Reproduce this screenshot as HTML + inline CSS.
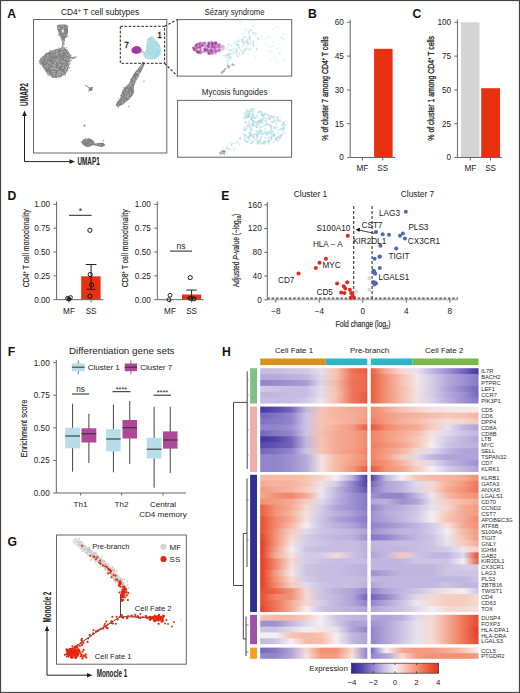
<!DOCTYPE html>
<html><head><meta charset="utf-8"><style>
html,body{margin:0;padding:0;background:#fff;overflow:hidden;width:520px;height:693px;}
svg{display:block;}
text{font-family:"Liberation Sans", sans-serif;}
</style></head><body>
<svg width="520" height="693" viewBox="0 0 520 693">
<rect x="0.5" y="0.5" width="519" height="692" fill="#fff" stroke="#444" stroke-width="1.2"/>
<text x="7.3" y="17.6" font-size="12.2" text-anchor="start" font-weight="bold" fill="#111" >A</text>
<text x="308" y="17.6" font-size="12.2" text-anchor="start" font-weight="bold" fill="#111" >B</text>
<text x="412.5" y="17.6" font-size="12.2" text-anchor="start" font-weight="bold" fill="#111" >C</text>
<text x="7.5" y="200" font-size="12.2" text-anchor="start" font-weight="bold" fill="#111" >D</text>
<text x="221.3" y="200" font-size="12.2" text-anchor="start" font-weight="bold" fill="#111" >E</text>
<text x="7.8" y="356" font-size="12.2" text-anchor="start" font-weight="bold" fill="#111" >F</text>
<text x="222" y="356" font-size="12.2" text-anchor="start" font-weight="bold" fill="#111" >H</text>
<text x="7.5" y="545.5" font-size="12.2" text-anchor="start" font-weight="bold" fill="#111" >G</text>
<rect x="33.5" y="19.5" width="133.3" height="133.5" fill="none" stroke="#666" stroke-width="1"/>
<text x="100" y="15.2" font-size="8.4" text-anchor="middle" font-weight="normal" fill="#222" >CD4<tspan font-size="6" dy="-3">+</tspan><tspan dy="3"> T cell subtypes</tspan></text>
<path d="M57.6,25.4 C58.9,24.32 64.37,24.43 66.1,25 C67.83,25.57 67.73,27.27 68,28.8 C68.27,30.33 68.15,32.63 67.7,34.2 C67.25,35.77 65.93,36.97 65.3,38.2 C64.67,39.43 64.22,40.15 63.9,41.6 C63.58,43.05 62.88,45.57 63.4,46.9 C63.92,48.23 65.95,48.47 67,49.6 C68.05,50.73 69.13,52.47 69.7,53.7 C70.27,54.93 69.28,56.38 70.4,57 C71.52,57.62 76.4,57.1 76.4,57.4 C76.4,57.7 71.58,57.63 70.4,58.8 C69.22,59.97 69.75,62.45 69.3,64.4 C68.85,66.35 68.65,68.7 67.7,70.5 C66.75,72.3 65.4,73.97 63.6,75.2 C61.8,76.43 59.02,77.68 56.9,77.9 C54.78,78.12 52.8,77.62 50.9,76.5 C49,75.38 47.18,73.32 45.5,71.2 C43.82,69.08 41.85,65.48 40.8,63.8 C39.75,62.12 38.98,62.23 39.2,61.1 C39.42,59.97 40.83,58.35 42.1,57 C43.37,55.65 45,54.12 46.8,53 C48.6,51.88 50.65,51.08 52.9,50.3 C55.15,49.52 58.78,48.87 60.3,48.3 C61.82,47.73 61.67,48.02 62,46.9 C62.33,45.78 62.58,43.28 62.3,41.6 C62.02,39.92 60.97,38.48 60.3,36.8 C59.63,35.12 58.75,33.4 58.3,31.5 C57.85,29.6 56.3,26.48 57.6,25.4 Z" fill="#828282"/>
<circle cx="63.41" cy="28.83" r="0.55" fill="#c8c8c8"/>
<circle cx="54.99" cy="68.74" r="0.55" fill="#a8a8a8"/>
<circle cx="62.54" cy="75.13" r="0.7" fill="#b8b8b8"/>
<circle cx="50.68" cy="68.17" r="0.55" fill="#c8c8c8"/>
<circle cx="45.92" cy="55.77" r="0.45" fill="#c8c8c8"/>
<circle cx="62.97" cy="44.7" r="0.7" fill="#c8c8c8"/>
<circle cx="59.58" cy="28.32" r="0.7" fill="#c8c8c8"/>
<circle cx="50.89" cy="55.98" r="0.55" fill="#a8a8a8"/>
<circle cx="68.75" cy="61.98" r="0.45" fill="#c8c8c8"/>
<circle cx="48.28" cy="55.39" r="0.45" fill="#a8a8a8"/>
<circle cx="58.74" cy="71.29" r="0.55" fill="#c8c8c8"/>
<circle cx="54.75" cy="65.05" r="0.45" fill="#a8a8a8"/>
<circle cx="40.66" cy="60.35" r="0.55" fill="#c8c8c8"/>
<circle cx="67.64" cy="55.31" r="0.55" fill="#c8c8c8"/>
<circle cx="65.06" cy="56.44" r="0.55" fill="#a8a8a8"/>
<circle cx="60.77" cy="49.13" r="0.7" fill="#b8b8b8"/>
<circle cx="56.84" cy="60.13" r="0.7" fill="#c8c8c8"/>
<circle cx="41.46" cy="62.11" r="0.45" fill="#c8c8c8"/>
<circle cx="53.55" cy="60.37" r="0.55" fill="#b8b8b8"/>
<circle cx="53.74" cy="71.1" r="0.45" fill="#a8a8a8"/>
<circle cx="59.64" cy="71.73" r="0.55" fill="#b8b8b8"/>
<circle cx="52.55" cy="71.77" r="0.7" fill="#c8c8c8"/>
<circle cx="52.94" cy="54.96" r="0.7" fill="#a8a8a8"/>
<circle cx="58.38" cy="57.67" r="0.45" fill="#a8a8a8"/>
<circle cx="64.35" cy="27.86" r="0.45" fill="#b8b8b8"/>
<circle cx="43.05" cy="58.55" r="0.45" fill="#a8a8a8"/>
<circle cx="62.04" cy="32.86" r="0.55" fill="#c8c8c8"/>
<circle cx="56.53" cy="50.59" r="0.7" fill="#b8b8b8"/>
<circle cx="58.85" cy="32.76" r="0.7" fill="#b8b8b8"/>
<circle cx="59.41" cy="26.43" r="0.45" fill="#b8b8b8"/>
<circle cx="58.85" cy="76.76" r="0.55" fill="#c8c8c8"/>
<circle cx="45.41" cy="65.84" r="0.45" fill="#b8b8b8"/>
<circle cx="59.01" cy="66.21" r="0.55" fill="#a8a8a8"/>
<circle cx="48.84" cy="61.63" r="0.45" fill="#a8a8a8"/>
<circle cx="62.42" cy="72.63" r="0.7" fill="#a8a8a8"/>
<circle cx="63.49" cy="67.3" r="0.45" fill="#a8a8a8"/>
<circle cx="42.35" cy="59.94" r="0.7" fill="#a8a8a8"/>
<circle cx="67.11" cy="50.29" r="0.55" fill="#b8b8b8"/>
<circle cx="45.84" cy="66.75" r="0.55" fill="#a8a8a8"/>
<circle cx="51.57" cy="67.36" r="0.45" fill="#a8a8a8"/>
<circle cx="54.13" cy="75.09" r="0.45" fill="#a8a8a8"/>
<circle cx="66.16" cy="33.99" r="0.55" fill="#a8a8a8"/>
<circle cx="44.64" cy="68.72" r="0.45" fill="#a8a8a8"/>
<circle cx="52.24" cy="54.02" r="0.45" fill="#c8c8c8"/>
<circle cx="58.79" cy="74.39" r="0.55" fill="#b8b8b8"/>
<circle cx="55.34" cy="71.12" r="0.45" fill="#c8c8c8"/>
<circle cx="48.15" cy="56.02" r="0.55" fill="#a8a8a8"/>
<circle cx="60.9" cy="72.84" r="0.45" fill="#c8c8c8"/>
<circle cx="54.85" cy="73.55" r="0.55" fill="#b8b8b8"/>
<circle cx="57.86" cy="53.13" r="0.7" fill="#c8c8c8"/>
<circle cx="58.67" cy="25.99" r="0.45" fill="#c8c8c8"/>
<circle cx="66.18" cy="54.44" r="0.45" fill="#a8a8a8"/>
<circle cx="51.33" cy="52.42" r="0.7" fill="#a8a8a8"/>
<circle cx="59.86" cy="66.49" r="0.45" fill="#b8b8b8"/>
<circle cx="67.93" cy="51.86" r="0.55" fill="#c8c8c8"/>
<circle cx="60.1" cy="65.2" r="0.7" fill="#a8a8a8"/>
<circle cx="61.99" cy="51.74" r="0.55" fill="#a8a8a8"/>
<circle cx="58.25" cy="61.65" r="0.55" fill="#c8c8c8"/>
<circle cx="56.03" cy="53.21" r="0.55" fill="#c8c8c8"/>
<circle cx="56.98" cy="74.81" r="0.55" fill="#a8a8a8"/>
<circle cx="65.21" cy="71.37" r="0.45" fill="#b8b8b8"/>
<circle cx="60.01" cy="74.9" r="0.7" fill="#c8c8c8"/>
<circle cx="41.92" cy="60.42" r="0.7" fill="#a8a8a8"/>
<circle cx="44.95" cy="62.88" r="0.45" fill="#b8b8b8"/>
<circle cx="63.76" cy="32.56" r="0.7" fill="#b8b8b8"/>
<circle cx="54.02" cy="50.78" r="0.7" fill="#a8a8a8"/>
<circle cx="66.06" cy="26.03" r="0.55" fill="#b8b8b8"/>
<circle cx="62.41" cy="52.1" r="0.7" fill="#c8c8c8"/>
<circle cx="54.91" cy="73.21" r="0.55" fill="#b8b8b8"/>
<circle cx="60.43" cy="62.05" r="0.45" fill="#b8b8b8"/>
<circle cx="62.8" cy="67.41" r="0.7" fill="#c8c8c8"/>
<circle cx="59.77" cy="74.02" r="0.7" fill="#b8b8b8"/>
<circle cx="66.47" cy="54.15" r="0.55" fill="#b8b8b8"/>
<circle cx="57.61" cy="69.15" r="0.7" fill="#c8c8c8"/>
<circle cx="53.82" cy="51.8" r="0.55" fill="#c8c8c8"/>
<circle cx="51.95" cy="69.03" r="0.7" fill="#a8a8a8"/>
<circle cx="65.49" cy="58.64" r="0.45" fill="#c8c8c8"/>
<circle cx="41.83" cy="64.19" r="0.55" fill="#c8c8c8"/>
<circle cx="56.86" cy="51.6" r="0.55" fill="#c8c8c8"/>
<circle cx="60.98" cy="52.99" r="0.7" fill="#b8b8b8"/>
<circle cx="67.12" cy="59.78" r="0.55" fill="#c8c8c8"/>
<circle cx="65.83" cy="71.5" r="0.55" fill="#c8c8c8"/>
<circle cx="66.14" cy="59.03" r="0.55" fill="#c8c8c8"/>
<circle cx="72.38" cy="58.19" r="0.7" fill="#c8c8c8"/>
<circle cx="66.5" cy="67.97" r="0.7" fill="#c8c8c8"/>
<circle cx="57.96" cy="69.17" r="0.45" fill="#a8a8a8"/>
<circle cx="60.93" cy="72.23" r="0.55" fill="#b8b8b8"/>
<circle cx="64.6" cy="61.68" r="0.55" fill="#b8b8b8"/>
<circle cx="59.98" cy="58.21" r="0.55" fill="#a8a8a8"/>
<circle cx="62.5" cy="61.01" r="0.55" fill="#b8b8b8"/>
<circle cx="68.87" cy="64.58" r="0.7" fill="#a8a8a8"/>
<circle cx="57.91" cy="53.31" r="0.45" fill="#b8b8b8"/>
<circle cx="63.73" cy="28.49" r="0.55" fill="#a8a8a8"/>
<circle cx="66.33" cy="35.86" r="0.7" fill="#c8c8c8"/>
<circle cx="57.02" cy="61.17" r="0.7" fill="#a8a8a8"/>
<circle cx="67.73" cy="57.64" r="0.45" fill="#c8c8c8"/>
<circle cx="63.11" cy="29.1" r="0.55" fill="#b8b8b8"/>
<circle cx="60.32" cy="25.66" r="0.45" fill="#b8b8b8"/>
<circle cx="64.2" cy="61.62" r="0.45" fill="#c8c8c8"/>
<circle cx="64.34" cy="40.39" r="0.7" fill="#a8a8a8"/>
<circle cx="58.42" cy="49.58" r="0.45" fill="#a8a8a8"/>
<circle cx="47.04" cy="55.76" r="0.7" fill="#a8a8a8"/>
<circle cx="47.81" cy="72.49" r="0.55" fill="#a8a8a8"/>
<circle cx="50.96" cy="69.45" r="0.45" fill="#a8a8a8"/>
<circle cx="49.83" cy="74.49" r="0.7" fill="#a8a8a8"/>
<circle cx="53.09" cy="75.58" r="0.7" fill="#a8a8a8"/>
<circle cx="62.67" cy="73.32" r="0.7" fill="#b8b8b8"/>
<circle cx="65.97" cy="27.62" r="0.45" fill="#b8b8b8"/>
<circle cx="67.2" cy="59.09" r="0.7" fill="#a8a8a8"/>
<circle cx="50.28" cy="64.09" r="0.55" fill="#a8a8a8"/>
<circle cx="63.6" cy="40.91" r="0.45" fill="#b8b8b8"/>
<circle cx="60.39" cy="71.94" r="0.7" fill="#b8b8b8"/>
<circle cx="54.6" cy="52.73" r="0.45" fill="#c8c8c8"/>
<circle cx="57.93" cy="58.31" r="0.45" fill="#a8a8a8"/>
<circle cx="40.4" cy="62.53" r="0.45" fill="#c8c8c8"/>
<circle cx="53.76" cy="74.03" r="0.45" fill="#c8c8c8"/>
<circle cx="58.63" cy="61.08" r="0.7" fill="#a8a8a8"/>
<circle cx="63.28" cy="65.46" r="0.55" fill="#c8c8c8"/>
<circle cx="56.21" cy="54.17" r="0.45" fill="#c8c8c8"/>
<circle cx="63.21" cy="41.07" r="0.45" fill="#c8c8c8"/>
<circle cx="62.87" cy="61.95" r="0.45" fill="#c8c8c8"/>
<circle cx="58.71" cy="55.83" r="0.7" fill="#a8a8a8"/>
<circle cx="61.56" cy="25.55" r="0.7" fill="#b8b8b8"/>
<circle cx="57.74" cy="60.68" r="0.55" fill="#a8a8a8"/>
<circle cx="64.03" cy="73.94" r="0.7" fill="#b8b8b8"/>
<circle cx="64.59" cy="35.48" r="0.45" fill="#c8c8c8"/>
<circle cx="68.85" cy="64.1" r="0.7" fill="#a8a8a8"/>
<circle cx="47.44" cy="65.23" r="0.55" fill="#c8c8c8"/>
<circle cx="50.17" cy="75.36" r="0.45" fill="#b8b8b8"/>
<circle cx="52.47" cy="68.46" r="0.7" fill="#c8c8c8"/>
<circle cx="53.06" cy="73.64" r="0.7" fill="#a8a8a8"/>
<circle cx="54.48" cy="67.95" r="0.7" fill="#b8b8b8"/>
<circle cx="74.83" cy="57.64" r="0.55" fill="#c8c8c8"/>
<circle cx="48.95" cy="62.91" r="0.7" fill="#b8b8b8"/>
<circle cx="55.19" cy="51.1" r="0.45" fill="#a8a8a8"/>
<circle cx="69.06" cy="64.07" r="0.55" fill="#b8b8b8"/>
<circle cx="46.54" cy="64.83" r="0.45" fill="#a8a8a8"/>
<circle cx="65.6" cy="48.64" r="0.45" fill="#c8c8c8"/>
<circle cx="62.28" cy="60.66" r="0.45" fill="#b8b8b8"/>
<circle cx="67.02" cy="69.81" r="0.7" fill="#a8a8a8"/>
<circle cx="63.92" cy="31.41" r="0.45" fill="#b8b8b8"/>
<circle cx="66.66" cy="35.54" r="0.45" fill="#b8b8b8"/>
<circle cx="69.27" cy="59.56" r="0.45" fill="#c8c8c8"/>
<circle cx="56.86" cy="68.33" r="0.45" fill="#c8c8c8"/>
<circle cx="48.87" cy="66.14" r="0.7" fill="#a8a8a8"/>
<circle cx="61.38" cy="57.8" r="0.45" fill="#c8c8c8"/>
<circle cx="48.68" cy="56.71" r="0.7" fill="#a8a8a8"/>
<circle cx="63.44" cy="35.76" r="0.45" fill="#b8b8b8"/>
<circle cx="64.43" cy="34.79" r="0.55" fill="#a8a8a8"/>
<circle cx="68.78" cy="53.99" r="0.7" fill="#a8a8a8"/>
<circle cx="53.91" cy="54.1" r="0.45" fill="#a8a8a8"/>
<circle cx="62.98" cy="29.82" r="0.45" fill="#c8c8c8"/>
<circle cx="45.29" cy="61.79" r="0.7" fill="#a8a8a8"/>
<circle cx="50.64" cy="75.42" r="0.7" fill="#c8c8c8"/>
<circle cx="50.82" cy="54.97" r="0.55" fill="#a8a8a8"/>
<circle cx="66.28" cy="35.77" r="0.55" fill="#b8b8b8"/>
<circle cx="54.96" cy="68.4" r="0.7" fill="#b8b8b8"/>
<circle cx="54.31" cy="71.7" r="0.45" fill="#b8b8b8"/>
<circle cx="63.03" cy="73.13" r="0.45" fill="#a8a8a8"/>
<circle cx="42.51" cy="57.91" r="0.7" fill="#a8a8a8"/>
<circle cx="53" cy="51.69" r="0.45" fill="#c8c8c8"/>
<circle cx="58.59" cy="73.96" r="0.55" fill="#c8c8c8"/>
<circle cx="72.84" cy="57.82" r="0.7" fill="#a8a8a8"/>
<circle cx="54.25" cy="69.77" r="0.45" fill="#c8c8c8"/>
<circle cx="61.5" cy="54.1" r="0.7" fill="#b8b8b8"/>
<circle cx="62.53" cy="41.2" r="0.55" fill="#c8c8c8"/>
<circle cx="54.83" cy="55.82" r="0.7" fill="#a8a8a8"/>
<circle cx="55.04" cy="59.85" r="0.55" fill="#c8c8c8"/>
<circle cx="67.6" cy="66.26" r="0.7" fill="#b8b8b8"/>
<circle cx="58.18" cy="27.16" r="0.45" fill="#b8b8b8"/>
<circle cx="62.88" cy="29.35" r="0.55" fill="#a8a8a8"/>
<circle cx="66.49" cy="66.14" r="0.45" fill="#a8a8a8"/>
<circle cx="58.23" cy="27.87" r="0.55" fill="#c8c8c8"/>
<circle cx="66.43" cy="68.11" r="0.55" fill="#c8c8c8"/>
<circle cx="57.5" cy="75.61" r="0.55" fill="#a8a8a8"/>
<circle cx="67.33" cy="33.4" r="0.55" fill="#c8c8c8"/>
<circle cx="57.88" cy="73.66" r="0.55" fill="#b8b8b8"/>
<circle cx="64.48" cy="72.37" r="0.7" fill="#a8a8a8"/>
<circle cx="45.48" cy="66.52" r="0.7" fill="#a8a8a8"/>
<circle cx="62.87" cy="44.03" r="0.55" fill="#a8a8a8"/>
<circle cx="60.78" cy="71.69" r="0.7" fill="#b8b8b8"/>
<circle cx="62.63" cy="45.86" r="0.45" fill="#a8a8a8"/>
<circle cx="52.6" cy="65.45" r="0.55" fill="#a8a8a8"/>
<circle cx="66.86" cy="27.55" r="0.55" fill="#b8b8b8"/>
<circle cx="60.99" cy="60.11" r="0.55" fill="#c8c8c8"/>
<circle cx="62.12" cy="47.87" r="0.7" fill="#c8c8c8"/>
<circle cx="58.27" cy="72.37" r="0.7" fill="#b8b8b8"/>
<circle cx="63.5" cy="26.18" r="0.55" fill="#c8c8c8"/>
<circle cx="47.54" cy="55.87" r="0.7" fill="#b8b8b8"/>
<circle cx="61.11" cy="35.8" r="0.55" fill="#c8c8c8"/>
<circle cx="62.41" cy="50.12" r="0.55" fill="#c8c8c8"/>
<circle cx="42.76" cy="58.76" r="0.45" fill="#a8a8a8"/>
<circle cx="63.22" cy="48.47" r="0.45" fill="#c8c8c8"/>
<circle cx="48.44" cy="72.8" r="0.45" fill="#a8a8a8"/>
<circle cx="46.62" cy="57.17" r="0.45" fill="#c8c8c8"/>
<circle cx="58.06" cy="58.94" r="0.7" fill="#a8a8a8"/>
<circle cx="68.33" cy="62.84" r="0.55" fill="#c8c8c8"/>
<circle cx="66.92" cy="49.61" r="0.7" fill="#b8b8b8"/>
<circle cx="51.68" cy="64.66" r="0.7" fill="#a8a8a8"/>
<circle cx="65.06" cy="69.72" r="0.55" fill="#c8c8c8"/>
<circle cx="68.53" cy="52.68" r="0.45" fill="#a8a8a8"/>
<circle cx="49.07" cy="58.96" r="0.45" fill="#c8c8c8"/>
<circle cx="48.1" cy="73.01" r="0.7" fill="#b8b8b8"/>
<circle cx="62.66" cy="61.65" r="0.7" fill="#c8c8c8"/>
<circle cx="56.67" cy="69.42" r="0.55" fill="#a8a8a8"/>
<circle cx="65.15" cy="70.36" r="0.45" fill="#c8c8c8"/>
<circle cx="55.46" cy="63.33" r="0.7" fill="#b8b8b8"/>
<circle cx="47.09" cy="57.94" r="0.55" fill="#c8c8c8"/>
<circle cx="64.97" cy="58.53" r="0.7" fill="#b8b8b8"/>
<circle cx="65.13" cy="63.98" r="0.7" fill="#c8c8c8"/>
<circle cx="52.72" cy="68.25" r="0.45" fill="#b8b8b8"/>
<circle cx="62.79" cy="68.65" r="0.55" fill="#a8a8a8"/>
<circle cx="62.69" cy="40.2" r="0.7" fill="#c8c8c8"/>
<circle cx="49.71" cy="62.86" r="0.7" fill="#c8c8c8"/>
<circle cx="70.87" cy="57.71" r="0.55" fill="#a8a8a8"/>
<circle cx="55.44" cy="65.89" r="0.7" fill="#b8b8b8"/>
<circle cx="52.1" cy="62.28" r="0.45" fill="#b8b8b8"/>
<circle cx="57.48" cy="67.15" r="0.45" fill="#b8b8b8"/>
<circle cx="52.12" cy="69" r="0.45" fill="#a8a8a8"/>
<circle cx="65.22" cy="51.36" r="0.55" fill="#c8c8c8"/>
<circle cx="43.29" cy="58.67" r="0.7" fill="#a8a8a8"/>
<circle cx="65.13" cy="66.63" r="0.55" fill="#c8c8c8"/>
<circle cx="62.56" cy="43.81" r="0.7" fill="#b8b8b8"/>
<circle cx="53.31" cy="71.76" r="0.45" fill="#b8b8b8"/>
<circle cx="58.97" cy="64.91" r="0.55" fill="#c8c8c8"/>
<circle cx="67.21" cy="59.19" r="0.45" fill="#c8c8c8"/>
<circle cx="44.98" cy="69.6" r="0.7" fill="#c8c8c8"/>
<circle cx="63.83" cy="64.25" r="0.45" fill="#b8b8b8"/>
<circle cx="67.97" cy="55.64" r="0.55" fill="#a8a8a8"/>
<circle cx="65.36" cy="69.63" r="0.45" fill="#c8c8c8"/>
<circle cx="46.5" cy="58.75" r="0.55" fill="#a8a8a8"/>
<circle cx="54.04" cy="66.84" r="0.7" fill="#b8b8b8"/>
<circle cx="65" cy="51.48" r="0.45" fill="#b8b8b8"/>
<circle cx="62.72" cy="49.51" r="0.45" fill="#a8a8a8"/>
<circle cx="44.48" cy="56.94" r="0.55" fill="#a8a8a8"/>
<circle cx="54.26" cy="64.2" r="0.7" fill="#b8b8b8"/>
<circle cx="60.55" cy="64.63" r="0.55" fill="#c8c8c8"/>
<circle cx="66.07" cy="71.56" r="0.55" fill="#b8b8b8"/>
<circle cx="67.99" cy="62.03" r="0.55" fill="#a8a8a8"/>
<circle cx="63.07" cy="49.01" r="0.7" fill="#b8b8b8"/>
<circle cx="50.84" cy="58.24" r="0.55" fill="#b8b8b8"/>
<circle cx="68.3" cy="62.73" r="0.55" fill="#b8b8b8"/>
<circle cx="62.62" cy="38.23" r="0.45" fill="#c8c8c8"/>
<circle cx="62.32" cy="46.65" r="0.45" fill="#b8b8b8"/>
<circle cx="64.32" cy="74.21" r="0.45" fill="#b8b8b8"/>
<circle cx="46.01" cy="59.62" r="0.7" fill="#c8c8c8"/>
<circle cx="57.42" cy="76.56" r="0.7" fill="#c8c8c8"/>
<circle cx="45.18" cy="66.36" r="0.55" fill="#b8b8b8"/>
<circle cx="59.33" cy="62.94" r="0.7" fill="#a8a8a8"/>
<circle cx="58.25" cy="58.82" r="0.55" fill="#b8b8b8"/>
<circle cx="54.46" cy="75.15" r="0.7" fill="#b8b8b8"/>
<circle cx="47.02" cy="61.2" r="0.55" fill="#c8c8c8"/>
<circle cx="53.8" cy="65.35" r="0.7" fill="#b8b8b8"/>
<circle cx="54.84" cy="61.94" r="0.7" fill="#b8b8b8"/>
<circle cx="47.55" cy="64.22" r="0.7" fill="#a8a8a8"/>
<circle cx="47.34" cy="67.4" r="0.55" fill="#b8b8b8"/>
<circle cx="44.01" cy="66.08" r="0.55" fill="#b8b8b8"/>
<circle cx="69.32" cy="58.55" r="0.55" fill="#b8b8b8"/>
<circle cx="56.65" cy="54.73" r="0.7" fill="#b8b8b8"/>
<circle cx="52.34" cy="58.79" r="0.45" fill="#b8b8b8"/>
<circle cx="71.19" cy="57.13" r="0.5" fill="#8a8a8a"/>
<circle cx="65.89" cy="25.42" r="0.5" fill="#8a8a8a"/>
<circle cx="58.43" cy="48.02" r="0.5" fill="#8a8a8a"/>
<circle cx="67.4" cy="33.12" r="0.5" fill="#8a8a8a"/>
<circle cx="50.73" cy="50.58" r="0.5" fill="#8a8a8a"/>
<circle cx="42.35" cy="57.06" r="0.5" fill="#8a8a8a"/>
<circle cx="66.25" cy="36.22" r="0.5" fill="#8a8a8a"/>
<circle cx="61.96" cy="40.81" r="0.5" fill="#8a8a8a"/>
<circle cx="59.78" cy="48.08" r="0.5" fill="#8a8a8a"/>
<circle cx="61.15" cy="35.06" r="0.5" fill="#8a8a8a"/>
<circle cx="60.24" cy="48.21" r="0.5" fill="#8a8a8a"/>
<circle cx="67.42" cy="68.98" r="0.5" fill="#8a8a8a"/>
<circle cx="74.5" cy="58.2" r="0.5" fill="#8a8a8a"/>
<circle cx="70.29" cy="59.83" r="0.5" fill="#8a8a8a"/>
<circle cx="56.82" cy="48.92" r="0.5" fill="#8a8a8a"/>
<circle cx="64.58" cy="39.32" r="0.5" fill="#8a8a8a"/>
<circle cx="69.74" cy="56.79" r="0.5" fill="#8a8a8a"/>
<circle cx="69.42" cy="56.7" r="0.5" fill="#8a8a8a"/>
<circle cx="66.35" cy="34.73" r="0.5" fill="#8a8a8a"/>
<circle cx="61.16" cy="39.17" r="0.5" fill="#8a8a8a"/>
<circle cx="71.17" cy="55.19" r="0.5" fill="#8a8a8a"/>
<circle cx="65.23" cy="75.14" r="0.5" fill="#8a8a8a"/>
<circle cx="66.4" cy="35.97" r="0.5" fill="#8a8a8a"/>
<circle cx="58.32" cy="34.82" r="0.5" fill="#8a8a8a"/>
<circle cx="60.52" cy="25.18" r="0.5" fill="#8a8a8a"/>
<circle cx="64.01" cy="74.46" r="0.5" fill="#8a8a8a"/>
<circle cx="64.41" cy="43.69" r="0.5" fill="#8a8a8a"/>
<circle cx="70.39" cy="55.92" r="0.5" fill="#8a8a8a"/>
<circle cx="62.5" cy="46.53" r="0.5" fill="#8a8a8a"/>
<circle cx="59.49" cy="35.82" r="0.5" fill="#8a8a8a"/>
<circle cx="70.5" cy="55.07" r="0.5" fill="#8a8a8a"/>
<circle cx="45.51" cy="53.52" r="0.5" fill="#8a8a8a"/>
<circle cx="66.46" cy="32.37" r="0.5" fill="#8a8a8a"/>
<circle cx="66.76" cy="27.44" r="0.5" fill="#8a8a8a"/>
<circle cx="46.04" cy="53.55" r="0.5" fill="#8a8a8a"/>
<circle cx="62.53" cy="43.98" r="0.5" fill="#8a8a8a"/>
<circle cx="63.81" cy="44.57" r="0.5" fill="#8a8a8a"/>
<circle cx="55.59" cy="49.52" r="0.5" fill="#8a8a8a"/>
<circle cx="46.13" cy="71.51" r="0.5" fill="#8a8a8a"/>
<circle cx="70.18" cy="61.52" r="0.5" fill="#8a8a8a"/>
<circle cx="72.35" cy="57.81" r="0.5" fill="#8a8a8a"/>
<circle cx="67.54" cy="26.82" r="0.5" fill="#8a8a8a"/>
<circle cx="59.31" cy="76.42" r="0.5" fill="#8a8a8a"/>
<circle cx="60.5" cy="25.82" r="0.5" fill="#8a8a8a"/>
<circle cx="63.84" cy="43.43" r="0.5" fill="#8a8a8a"/>
<circle cx="58.79" cy="24.88" r="0.5" fill="#8a8a8a"/>
<circle cx="68.97" cy="53.22" r="0.5" fill="#8a8a8a"/>
<circle cx="49" cy="75.46" r="0.5" fill="#8a8a8a"/>
<circle cx="66.32" cy="37.17" r="0.5" fill="#8a8a8a"/>
<circle cx="53.41" cy="76.74" r="0.5" fill="#8a8a8a"/>
<circle cx="67.34" cy="36.53" r="0.5" fill="#8a8a8a"/>
<circle cx="57.76" cy="29.43" r="0.5" fill="#8a8a8a"/>
<circle cx="69.79" cy="63.94" r="0.5" fill="#8a8a8a"/>
<circle cx="67.41" cy="68.09" r="0.5" fill="#8a8a8a"/>
<circle cx="67.98" cy="26.07" r="0.5" fill="#8a8a8a"/>
<circle cx="74.58" cy="57.02" r="0.5" fill="#8a8a8a"/>
<circle cx="58.86" cy="30.14" r="0.5" fill="#8a8a8a"/>
<circle cx="58.92" cy="34.44" r="0.5" fill="#8a8a8a"/>
<circle cx="64.44" cy="41.24" r="0.5" fill="#8a8a8a"/>
<circle cx="65.32" cy="73.64" r="0.5" fill="#8a8a8a"/>
<circle cx="63.11" cy="42.31" r="0.5" fill="#8a8a8a"/>
<circle cx="58.9" cy="25.65" r="0.5" fill="#8a8a8a"/>
<circle cx="59.89" cy="75.56" r="0.5" fill="#8a8a8a"/>
<circle cx="65.82" cy="24.7" r="0.5" fill="#8a8a8a"/>
<circle cx="49.72" cy="50.4" r="0.5" fill="#8a8a8a"/>
<circle cx="67.28" cy="28.21" r="0.5" fill="#8a8a8a"/>
<circle cx="67.06" cy="71.7" r="0.5" fill="#8a8a8a"/>
<circle cx="70.37" cy="63.07" r="0.5" fill="#8a8a8a"/>
<circle cx="46.84" cy="72.2" r="0.5" fill="#8a8a8a"/>
<circle cx="63.23" cy="39.59" r="0.5" fill="#8a8a8a"/>
<circle cx="65.16" cy="74.34" r="0.5" fill="#8a8a8a"/>
<circle cx="61.74" cy="46.72" r="0.5" fill="#8a8a8a"/>
<circle cx="39.78" cy="63.78" r="0.5" fill="#8a8a8a"/>
<circle cx="68.97" cy="61.09" r="0.5" fill="#8a8a8a"/>
<circle cx="52.61" cy="76.88" r="0.5" fill="#8a8a8a"/>
<circle cx="64.55" cy="48.91" r="0.5" fill="#8a8a8a"/>
<circle cx="66.36" cy="26.5" r="0.5" fill="#8a8a8a"/>
<circle cx="72.49" cy="58.21" r="0.5" fill="#8a8a8a"/>
<circle cx="64.52" cy="47.29" r="0.5" fill="#8a8a8a"/>
<circle cx="67.23" cy="32.91" r="0.5" fill="#8a8a8a"/>
<circle cx="47.74" cy="74.87" r="0.5" fill="#8a8a8a"/>
<circle cx="67.5" cy="36.21" r="0.5" fill="#8a8a8a"/>
<circle cx="64.53" cy="39.28" r="0.5" fill="#8a8a8a"/>
<circle cx="66.38" cy="47.51" r="0.5" fill="#8a8a8a"/>
<circle cx="51.37" cy="74.75" r="0.5" fill="#8a8a8a"/>
<circle cx="54.61" cy="76.8" r="0.5" fill="#8a8a8a"/>
<circle cx="53.89" cy="50" r="0.5" fill="#8a8a8a"/>
<circle cx="62.69" cy="44.46" r="0.5" fill="#8a8a8a"/>
<circle cx="40.89" cy="62.94" r="0.5" fill="#8a8a8a"/>
<circle cx="40.4" cy="59.14" r="0.5" fill="#8a8a8a"/>
<circle cx="61.28" cy="76.5" r="0.5" fill="#8a8a8a"/>
<circle cx="47.44" cy="73.97" r="0.5" fill="#8a8a8a"/>
<circle cx="61.49" cy="37.98" r="0.5" fill="#8a8a8a"/>
<circle cx="71.37" cy="57.44" r="0.5" fill="#8a8a8a"/>
<circle cx="40.34" cy="64.07" r="0.5" fill="#8a8a8a"/>
<circle cx="75.2" cy="56.74" r="0.5" fill="#8a8a8a"/>
<circle cx="73.8" cy="58.37" r="0.5" fill="#8a8a8a"/>
<circle cx="57.76" cy="26.88" r="0.5" fill="#8a8a8a"/>
<circle cx="76.05" cy="56.51" r="0.5" fill="#8a8a8a"/>
<circle cx="64.52" cy="72.82" r="0.5" fill="#8a8a8a"/>
<circle cx="69.57" cy="67.5" r="0.5" fill="#8a8a8a"/>
<circle cx="56.87" cy="76.99" r="0.5" fill="#8a8a8a"/>
<circle cx="65.7" cy="35.83" r="0.5" fill="#8a8a8a"/>
<circle cx="40.83" cy="64.06" r="0.5" fill="#8a8a8a"/>
<circle cx="66.94" cy="65.44" r="0.5" fill="#8a8a8a"/>
<circle cx="72.24" cy="58.06" r="0.5" fill="#8a8a8a"/>
<circle cx="71.35" cy="60.4" r="0.5" fill="#8a8a8a"/>
<circle cx="49.63" cy="75.08" r="0.5" fill="#8a8a8a"/>
<circle cx="72.94" cy="58.46" r="0.5" fill="#8a8a8a"/>
<circle cx="63.84" cy="73.27" r="0.5" fill="#8a8a8a"/>
<circle cx="65.39" cy="48.67" r="0.5" fill="#8a8a8a"/>
<circle cx="45.47" cy="55.3" r="0.5" fill="#8a8a8a"/>
<circle cx="45.79" cy="54.64" r="0.5" fill="#8a8a8a"/>
<circle cx="62.08" cy="40.73" r="0.5" fill="#8a8a8a"/>
<circle cx="72.89" cy="57.23" r="0.5" fill="#8a8a8a"/>
<circle cx="58.38" cy="25.33" r="0.5" fill="#8a8a8a"/>
<circle cx="70.98" cy="56.06" r="0.5" fill="#8a8a8a"/>
<circle cx="64.19" cy="40.34" r="0.5" fill="#8a8a8a"/>
<circle cx="63.47" cy="44.34" r="0.5" fill="#8a8a8a"/>
<circle cx="66.66" cy="29.54" r="0.5" fill="#8a8a8a"/>
<circle cx="40.76" cy="58.37" r="0.5" fill="#8a8a8a"/>
<circle cx="51.01" cy="51.92" r="0.5" fill="#8a8a8a"/>
<circle cx="71.06" cy="60.54" r="0.5" fill="#8a8a8a"/>
<circle cx="57.1" cy="25.67" r="0.5" fill="#8a8a8a"/>
<circle cx="59.91" cy="76.95" r="0.5" fill="#8a8a8a"/>
<circle cx="69.1" cy="67.77" r="0.5" fill="#8a8a8a"/>
<circle cx="39.96" cy="60.53" r="0.5" fill="#8a8a8a"/>
<circle cx="38.84" cy="62.87" r="0.5" fill="#8a8a8a"/>
<circle cx="58.92" cy="34.65" r="0.5" fill="#8a8a8a"/>
<circle cx="51.98" cy="76.96" r="0.5" fill="#8a8a8a"/>
<path d="M142.6,62.6 C143.55,61.88 144.83,61.98 144.7,63.3 C144.57,64.62 143,68.1 141.8,70.5 C140.6,72.9 138.82,75.05 137.5,77.7 C136.18,80.35 134.5,83.98 133.9,86.4 C133.3,88.82 134.5,90.28 133.9,92.2 C133.3,94.12 132.35,95.75 130.3,97.9 C128.25,100.05 123.77,103.65 121.6,105.1 C119.43,106.55 118.2,106.83 117.3,106.6 C116.4,106.37 115.72,105.15 116.2,103.7 C116.68,102.25 119.05,100.3 120.2,97.9 C121.35,95.5 121.65,91.7 123.1,89.3 C124.55,86.9 127.22,85.92 128.9,83.5 C130.58,81.08 131.52,77.45 133.2,74.8 C134.88,72.15 137.43,69.63 139,67.6 C140.57,65.57 141.65,63.32 142.6,62.6 Z" fill="#828282"/>
<circle cx="140.94" cy="66.45" r="0.55" fill="#c8c8c8"/>
<circle cx="125.75" cy="100.95" r="0.45" fill="#c8c8c8"/>
<circle cx="125.77" cy="91.26" r="0.45" fill="#b8b8b8"/>
<circle cx="139.14" cy="73.24" r="0.7" fill="#a8a8a8"/>
<circle cx="132.02" cy="83.15" r="0.45" fill="#b8b8b8"/>
<circle cx="138.86" cy="73.17" r="0.7" fill="#c8c8c8"/>
<circle cx="127.75" cy="90.29" r="0.7" fill="#c8c8c8"/>
<circle cx="133.18" cy="81.98" r="0.45" fill="#b8b8b8"/>
<circle cx="127.72" cy="85.05" r="0.7" fill="#c8c8c8"/>
<circle cx="141.6" cy="65.6" r="0.55" fill="#c8c8c8"/>
<circle cx="137.82" cy="71.08" r="0.7" fill="#a8a8a8"/>
<circle cx="124.42" cy="98.54" r="0.45" fill="#b8b8b8"/>
<circle cx="142.02" cy="66.9" r="0.55" fill="#b8b8b8"/>
<circle cx="135.51" cy="80.41" r="0.55" fill="#a8a8a8"/>
<circle cx="133.54" cy="81.55" r="0.55" fill="#b8b8b8"/>
<circle cx="137.77" cy="69.47" r="0.45" fill="#c8c8c8"/>
<circle cx="130.39" cy="85.51" r="0.45" fill="#c8c8c8"/>
<circle cx="125.28" cy="96.79" r="0.55" fill="#a8a8a8"/>
<circle cx="128.09" cy="95.33" r="0.55" fill="#c8c8c8"/>
<circle cx="130.54" cy="92.89" r="0.55" fill="#b8b8b8"/>
<circle cx="130.7" cy="92.37" r="0.7" fill="#b8b8b8"/>
<circle cx="120.87" cy="96.96" r="0.55" fill="#c8c8c8"/>
<circle cx="129.96" cy="93.65" r="0.45" fill="#c8c8c8"/>
<circle cx="123.06" cy="90.29" r="0.55" fill="#b8b8b8"/>
<circle cx="122.08" cy="92.97" r="0.55" fill="#b8b8b8"/>
<circle cx="117.44" cy="102.02" r="0.55" fill="#b8b8b8"/>
<circle cx="130.04" cy="95.48" r="0.45" fill="#c8c8c8"/>
<circle cx="125.65" cy="95.12" r="0.7" fill="#a8a8a8"/>
<circle cx="123.74" cy="90.98" r="0.7" fill="#c8c8c8"/>
<circle cx="124.35" cy="89.59" r="0.45" fill="#a8a8a8"/>
<circle cx="136.69" cy="76.26" r="0.45" fill="#b8b8b8"/>
<circle cx="133.78" cy="79.29" r="0.7" fill="#c8c8c8"/>
<circle cx="134.65" cy="78.27" r="0.45" fill="#c8c8c8"/>
<circle cx="133.37" cy="90.17" r="0.45" fill="#c8c8c8"/>
<circle cx="141.58" cy="65.36" r="0.45" fill="#c8c8c8"/>
<circle cx="132.37" cy="83.23" r="0.7" fill="#b8b8b8"/>
<circle cx="131.67" cy="85.34" r="0.45" fill="#b8b8b8"/>
<circle cx="128.41" cy="86.13" r="0.45" fill="#b8b8b8"/>
<circle cx="127.64" cy="89.4" r="0.55" fill="#b8b8b8"/>
<circle cx="136.8" cy="77.19" r="0.7" fill="#a8a8a8"/>
<circle cx="122.54" cy="95.15" r="0.55" fill="#b8b8b8"/>
<circle cx="132.7" cy="87.01" r="0.45" fill="#c8c8c8"/>
<circle cx="137.57" cy="72.34" r="0.7" fill="#c8c8c8"/>
<circle cx="136.41" cy="72.59" r="0.45" fill="#c8c8c8"/>
<circle cx="129.26" cy="86.41" r="0.55" fill="#a8a8a8"/>
<circle cx="139.01" cy="68.51" r="0.7" fill="#a8a8a8"/>
<circle cx="130.54" cy="84.92" r="0.55" fill="#c8c8c8"/>
<circle cx="130.88" cy="82.84" r="0.45" fill="#a8a8a8"/>
<circle cx="126.84" cy="89.83" r="0.45" fill="#b8b8b8"/>
<circle cx="142.09" cy="66.46" r="0.7" fill="#a8a8a8"/>
<circle cx="130.83" cy="85.69" r="0.45" fill="#b8b8b8"/>
<circle cx="126.3" cy="93.13" r="0.45" fill="#a8a8a8"/>
<circle cx="128.74" cy="97.41" r="0.7" fill="#b8b8b8"/>
<circle cx="130.08" cy="83.89" r="0.7" fill="#c8c8c8"/>
<circle cx="122.22" cy="98.64" r="0.7" fill="#b8b8b8"/>
<circle cx="136.93" cy="77.18" r="0.7" fill="#b8b8b8"/>
<circle cx="123.29" cy="101.16" r="0.45" fill="#c8c8c8"/>
<circle cx="133.55" cy="90.36" r="0.45" fill="#b8b8b8"/>
<circle cx="132.55" cy="88.31" r="0.45" fill="#c8c8c8"/>
<circle cx="128.35" cy="87.76" r="0.45" fill="#a8a8a8"/>
<circle cx="138.8" cy="73.07" r="0.55" fill="#b8b8b8"/>
<circle cx="138.91" cy="68.81" r="0.45" fill="#b8b8b8"/>
<circle cx="118.25" cy="104.97" r="0.7" fill="#a8a8a8"/>
<circle cx="125.73" cy="93.59" r="0.45" fill="#a8a8a8"/>
<circle cx="122.05" cy="101.71" r="0.7" fill="#a8a8a8"/>
<circle cx="135.33" cy="80.42" r="0.7" fill="#b8b8b8"/>
<circle cx="127.49" cy="96.58" r="0.7" fill="#c8c8c8"/>
<circle cx="132.6" cy="94.24" r="0.55" fill="#b8b8b8"/>
<circle cx="125.36" cy="100.78" r="0.55" fill="#b8b8b8"/>
<circle cx="121.17" cy="100.59" r="0.45" fill="#a8a8a8"/>
<circle cx="134.84" cy="76.39" r="0.45" fill="#c8c8c8"/>
<circle cx="128.03" cy="93.85" r="0.7" fill="#b8b8b8"/>
<circle cx="140" cy="69.49" r="0.45" fill="#c8c8c8"/>
<circle cx="126.01" cy="92.53" r="0.55" fill="#b8b8b8"/>
<circle cx="140.88" cy="69.35" r="0.45" fill="#b8b8b8"/>
<circle cx="126.5" cy="85.9" r="0.7" fill="#b8b8b8"/>
<circle cx="122.04" cy="96.8" r="0.55" fill="#a8a8a8"/>
<circle cx="123.58" cy="89.27" r="0.55" fill="#c8c8c8"/>
<circle cx="126.2" cy="93.82" r="0.45" fill="#c8c8c8"/>
<circle cx="122.27" cy="102.74" r="0.7" fill="#b8b8b8"/>
<circle cx="121.39" cy="94.61" r="0.5" fill="#8a8a8a"/>
<circle cx="122.54" cy="104.18" r="0.5" fill="#8a8a8a"/>
<circle cx="125.96" cy="100.77" r="0.5" fill="#8a8a8a"/>
<circle cx="139.59" cy="73.76" r="0.5" fill="#8a8a8a"/>
<circle cx="137.6" cy="76.58" r="0.5" fill="#8a8a8a"/>
<circle cx="116.25" cy="104.88" r="0.5" fill="#8a8a8a"/>
<circle cx="122.15" cy="104.12" r="0.5" fill="#8a8a8a"/>
<circle cx="142.58" cy="67.87" r="0.5" fill="#8a8a8a"/>
<circle cx="142.46" cy="62.5" r="0.5" fill="#8a8a8a"/>
<circle cx="118.49" cy="107.64" r="0.5" fill="#8a8a8a"/>
<circle cx="143.12" cy="62.3" r="0.5" fill="#8a8a8a"/>
<circle cx="132.28" cy="95.56" r="0.5" fill="#8a8a8a"/>
<circle cx="122.94" cy="90.61" r="0.5" fill="#8a8a8a"/>
<circle cx="142.61" cy="65.97" r="0.5" fill="#8a8a8a"/>
<circle cx="123.72" cy="91.34" r="0.5" fill="#8a8a8a"/>
<circle cx="120.43" cy="95.62" r="0.5" fill="#8a8a8a"/>
<circle cx="142.43" cy="62.89" r="0.5" fill="#8a8a8a"/>
<circle cx="118.18" cy="101.32" r="0.5" fill="#8a8a8a"/>
<circle cx="141.41" cy="64.17" r="0.5" fill="#8a8a8a"/>
<circle cx="138.33" cy="76.79" r="0.5" fill="#8a8a8a"/>
<circle cx="137.78" cy="71.56" r="0.5" fill="#8a8a8a"/>
<circle cx="138.53" cy="68.21" r="0.5" fill="#8a8a8a"/>
<circle cx="127.64" cy="99.95" r="0.5" fill="#8a8a8a"/>
<circle cx="128.96" cy="99.33" r="0.5" fill="#8a8a8a"/>
<circle cx="130.93" cy="95.9" r="0.5" fill="#8a8a8a"/>
<circle cx="118.57" cy="98.6" r="0.5" fill="#8a8a8a"/>
<circle cx="123" cy="87.8" r="0.5" fill="#8a8a8a"/>
<circle cx="139.16" cy="76.82" r="0.5" fill="#8a8a8a"/>
<circle cx="131.62" cy="94.16" r="0.5" fill="#8a8a8a"/>
<circle cx="116.83" cy="105.7" r="0.5" fill="#8a8a8a"/>
<circle cx="137.44" cy="78.64" r="0.5" fill="#8a8a8a"/>
<circle cx="133.8" cy="91.18" r="0.5" fill="#8a8a8a"/>
<circle cx="135.75" cy="80.33" r="0.5" fill="#8a8a8a"/>
<circle cx="118.13" cy="107.09" r="0.5" fill="#8a8a8a"/>
<circle cx="130.45" cy="79.43" r="0.5" fill="#8a8a8a"/>
<circle cx="124.92" cy="87.55" r="0.5" fill="#8a8a8a"/>
<circle cx="133.03" cy="92.43" r="0.5" fill="#8a8a8a"/>
<circle cx="133.21" cy="89.05" r="0.5" fill="#8a8a8a"/>
<circle cx="142.58" cy="64.32" r="0.5" fill="#8a8a8a"/>
<circle cx="117.37" cy="101" r="0.5" fill="#8a8a8a"/>
<path d="M81.5,142.3 C81.5,141.05 83.55,139.38 85,138.8 C86.45,138.22 88.75,138.4 90.2,138.8 C91.65,139.2 92.93,140.42 93.7,141.2 C94.47,141.98 93.95,143.22 94.8,143.5 C95.65,143.78 97.35,143 98.8,142.9 C100.25,142.8 102.53,142.52 103.5,142.9 C104.47,143.28 104.9,144.53 104.6,145.2 C104.3,145.87 102.75,146.72 101.7,146.9 C100.65,147.08 99.73,146.58 98.3,146.3 C96.87,146.02 94.65,145.1 93.1,145.2 C91.55,145.3 90.35,146.72 89,146.9 C87.65,147.08 86.25,147.07 85,146.3 C83.75,145.53 81.5,143.55 81.5,142.3 Z" fill="#828282"/>
<circle cx="90.26" cy="143.06" r="0.55" fill="#c8c8c8"/>
<circle cx="91.08" cy="142.64" r="0.45" fill="#b8b8b8"/>
<circle cx="92.85" cy="142.95" r="0.45" fill="#b8b8b8"/>
<circle cx="100.55" cy="144.23" r="0.7" fill="#a8a8a8"/>
<circle cx="94.29" cy="145.03" r="0.55" fill="#c8c8c8"/>
<circle cx="86.6" cy="139.42" r="0.7" fill="#c8c8c8"/>
<circle cx="97.23" cy="144.56" r="0.7" fill="#a8a8a8"/>
<circle cx="100.37" cy="145.86" r="0.45" fill="#c8c8c8"/>
<circle cx="84.86" cy="141.51" r="0.55" fill="#b8b8b8"/>
<circle cx="87.56" cy="141.34" r="0.55" fill="#a8a8a8"/>
<circle cx="87.39" cy="145.76" r="0.7" fill="#a8a8a8"/>
<circle cx="94.34" cy="142.94" r="0.45" fill="#a8a8a8"/>
<circle cx="88.53" cy="145.82" r="0.55" fill="#b8b8b8"/>
<circle cx="100.03" cy="145.74" r="0.7" fill="#b8b8b8"/>
<circle cx="104.63" cy="144.92" r="0.5" fill="#8a8a8a"/>
<circle cx="94.29" cy="144.1" r="0.5" fill="#8a8a8a"/>
<circle cx="81.05" cy="141.95" r="0.5" fill="#8a8a8a"/>
<circle cx="87.39" cy="146.47" r="0.5" fill="#8a8a8a"/>
<circle cx="104.71" cy="145.14" r="0.5" fill="#8a8a8a"/>
<circle cx="89.12" cy="138.8" r="0.5" fill="#8a8a8a"/>
<circle cx="87.01" cy="145.78" r="0.5" fill="#8a8a8a"/>
<circle cx="62.8" cy="31" r="1.4" fill="#d8d8d8"/>
<path d="M85,85.2 L89,87.5 M88,91.5 L93,87" stroke="#828282" stroke-width="0.9"/>
<ellipse cx="90.7" cy="89" rx="2" ry="2.1" fill="#828282"/>
<path d="M83.2,125.6 L85.8,125.6 M84.5,124.3 L84.5,127" stroke="#999" stroke-width="0.8"/>
<circle cx="144" cy="81.3" r="0.8" fill="#aaa"/>
<circle cx="128.9" cy="106.6" r="0.8" fill="#999"/>
<circle cx="103.5" cy="140.8" r="0.7" fill="#999"/>
<polygon points="147.6,38.8 151.9,36.6 155.6,40.2 159.2,44.5 160.6,50.3 159.9,54.6 156.3,58.2 150.5,59.2 145.5,58.2 143.3,54.6 146.2,50.3 146.9,44.5" fill="#a9dbe6" stroke="#a9dbe6" stroke-width="0.8" stroke-linejoin="round"/>
<circle cx="154.96" cy="51.85" r="0.5" fill="#d8eff4"/>
<circle cx="148.4" cy="41.37" r="0.5" fill="#d8eff4"/>
<circle cx="150.47" cy="51.49" r="0.5" fill="#d8eff4"/>
<circle cx="147.76" cy="57.07" r="0.5" fill="#d8eff4"/>
<circle cx="155.17" cy="40.1" r="0.5" fill="#d8eff4"/>
<circle cx="144.02" cy="55.5" r="0.5" fill="#d8eff4"/>
<circle cx="148.38" cy="41.86" r="0.5" fill="#d8eff4"/>
<circle cx="153.37" cy="43.8" r="0.5" fill="#d8eff4"/>
<circle cx="153" cy="40.08" r="0.5" fill="#d8eff4"/>
<circle cx="149.87" cy="51.08" r="0.5" fill="#d8eff4"/>
<circle cx="147.16" cy="48.93" r="0.5" fill="#d8eff4"/>
<circle cx="155.9" cy="46.31" r="0.5" fill="#d8eff4"/>
<circle cx="159.55" cy="48.5" r="0.5" fill="#d8eff4"/>
<circle cx="148.33" cy="44.46" r="0.5" fill="#d8eff4"/>
<circle cx="156.28" cy="47.82" r="0.5" fill="#d8eff4"/>
<circle cx="151.69" cy="56.13" r="0.5" fill="#d8eff4"/>
<circle cx="153.64" cy="48.82" r="0.5" fill="#d8eff4"/>
<circle cx="147.99" cy="56.78" r="0.5" fill="#d8eff4"/>
<circle cx="153.66" cy="58.46" r="0.5" fill="#d8eff4"/>
<circle cx="149.26" cy="57.94" r="0.5" fill="#d8eff4"/>
<circle cx="149.06" cy="46.76" r="0.5" fill="#d8eff4"/>
<circle cx="147.58" cy="53.38" r="0.5" fill="#d8eff4"/>
<circle cx="146.39" cy="54.4" r="0.5" fill="#d8eff4"/>
<circle cx="152.97" cy="38.76" r="0.5" fill="#d8eff4"/>
<circle cx="152.84" cy="54.41" r="0.5" fill="#d8eff4"/>
<circle cx="153.6" cy="47.03" r="0.5" fill="#d8eff4"/>
<circle cx="149.4" cy="45.07" r="0.5" fill="#d8eff4"/>
<circle cx="154.77" cy="40.3" r="0.5" fill="#d8eff4"/>
<circle cx="146.24" cy="57.88" r="0.5" fill="#d8eff4"/>
<circle cx="149.04" cy="55.64" r="0.5" fill="#d8eff4"/>
<polygon points="132.5,48.1 136.1,46.3 139.7,47.1 141.8,50.3 140.4,52.5 136.1,53.5 132.5,52.5 131.7,50.3" fill="#a33a9b" stroke="#a33a9b" stroke-width="0.8" stroke-linejoin="round"/>
<path d="M141,51 L144,53" stroke="#d9b7df" stroke-width="2"/>
<rect x="120.3" y="26.3" width="44.3" height="37" fill="none" stroke="#222" stroke-width="1" stroke-dasharray="2.6,1.6"/>
<text x="124.2" y="47.6" font-size="8.4" text-anchor="start" font-weight="normal" fill="#222" stroke="#222" stroke-width="0.3">7</text>
<text x="157.2" y="38.3" font-size="8.4" text-anchor="start" font-weight="normal" fill="#222" stroke="#222" stroke-width="0.3">1</text>
<path d="M164.6,26.3 L177.3,19.6 M164.6,63.3 L177.3,76" stroke="#222" stroke-width="1.1" stroke-dasharray="2.4,1.9"/>
<rect x="177.4" y="19.6" width="114.3" height="56.5" fill="none" stroke="#666" stroke-width="1"/>
<text x="234.6" y="15.4" font-size="8.3" text-anchor="middle" font-weight="normal" fill="#222" transform="translate(234.6,0) scale(0.93,1) translate(-234.6,0)">Sézary syndrome</text>
<rect x="177.6" y="100.4" width="114" height="56.8" fill="none" stroke="#666" stroke-width="1"/>
<text x="234.6" y="95.4" font-size="8.5" text-anchor="middle" font-weight="normal" fill="#222" transform="translate(234.6,0) scale(0.94,1) translate(-234.6,0)">Mycosis fungoides</text>
<circle cx="216.26" cy="44.68" r="0.85" fill="none" stroke="#b45ab2" stroke-width="0.5"/>
<circle cx="211.41" cy="49.36" r="0.85" fill="none" stroke="#9a3898" stroke-width="0.5"/>
<circle cx="212.47" cy="46.32" r="0.85" fill="none" stroke="#9a3898" stroke-width="0.5"/>
<circle cx="196.79" cy="47.91" r="0.85" fill="none" stroke="#9a3898" stroke-width="0.5"/>
<circle cx="216.59" cy="50.7" r="0.85" fill="none" stroke="#b45ab2" stroke-width="0.5"/>
<circle cx="214.52" cy="51.75" r="0.85" fill="none" stroke="#9a3898" stroke-width="0.5"/>
<circle cx="198.82" cy="47.64" r="0.85" fill="none" stroke="#9a3898" stroke-width="0.5"/>
<circle cx="211.78" cy="51.59" r="0.85" fill="none" stroke="#9a3898" stroke-width="0.5"/>
<circle cx="210.14" cy="49.95" r="0.85" fill="none" stroke="#9a3898" stroke-width="0.5"/>
<circle cx="209.45" cy="53.67" r="0.85" fill="none" stroke="#9a3898" stroke-width="0.5"/>
<circle cx="193.4" cy="47.73" r="0.85" fill="none" stroke="#9a3898" stroke-width="0.5"/>
<circle cx="223.97" cy="48.38" r="0.85" fill="none" stroke="#d2a2d2" stroke-width="0.5"/>
<circle cx="194.31" cy="48.21" r="0.85" fill="none" stroke="#9a3898" stroke-width="0.5"/>
<circle cx="196.5" cy="45.56" r="0.85" fill="none" stroke="#9a3898" stroke-width="0.5"/>
<circle cx="210.3" cy="53.21" r="0.85" fill="none" stroke="#9a3898" stroke-width="0.5"/>
<circle cx="213.18" cy="50.46" r="0.85" fill="none" stroke="#9a3898" stroke-width="0.5"/>
<circle cx="218.35" cy="48.56" r="0.85" fill="none" stroke="#b45ab2" stroke-width="0.5"/>
<circle cx="199.91" cy="47.41" r="0.85" fill="none" stroke="#9a3898" stroke-width="0.5"/>
<circle cx="212.09" cy="46.64" r="0.85" fill="none" stroke="#9a3898" stroke-width="0.5"/>
<circle cx="201.68" cy="46.36" r="0.85" fill="none" stroke="#9a3898" stroke-width="0.5"/>
<circle cx="196.8" cy="44.66" r="0.85" fill="none" stroke="#9a3898" stroke-width="0.5"/>
<circle cx="207.53" cy="46.28" r="0.85" fill="none" stroke="#9a3898" stroke-width="0.5"/>
<circle cx="208.83" cy="52.67" r="0.85" fill="none" stroke="#9a3898" stroke-width="0.5"/>
<circle cx="211.73" cy="47.66" r="0.85" fill="none" stroke="#9a3898" stroke-width="0.5"/>
<circle cx="198.7" cy="44.26" r="0.85" fill="none" stroke="#9a3898" stroke-width="0.5"/>
<circle cx="212.2" cy="44.42" r="0.85" fill="none" stroke="#9a3898" stroke-width="0.5"/>
<circle cx="212.54" cy="43.82" r="0.85" fill="none" stroke="#9a3898" stroke-width="0.5"/>
<circle cx="209.96" cy="47.49" r="0.85" fill="none" stroke="#9a3898" stroke-width="0.5"/>
<circle cx="218.06" cy="46.32" r="0.85" fill="none" stroke="#b45ab2" stroke-width="0.5"/>
<circle cx="204.54" cy="48.83" r="0.85" fill="none" stroke="#9a3898" stroke-width="0.5"/>
<circle cx="208.94" cy="53.19" r="0.85" fill="none" stroke="#9a3898" stroke-width="0.5"/>
<circle cx="205.81" cy="45.59" r="0.85" fill="none" stroke="#9a3898" stroke-width="0.5"/>
<circle cx="205.15" cy="49.76" r="0.85" fill="none" stroke="#9a3898" stroke-width="0.5"/>
<circle cx="210.9" cy="50.6" r="0.85" fill="none" stroke="#9a3898" stroke-width="0.5"/>
<circle cx="200.79" cy="53.23" r="0.85" fill="none" stroke="#9a3898" stroke-width="0.5"/>
<circle cx="222.73" cy="47.7" r="0.85" fill="none" stroke="#d2a2d2" stroke-width="0.5"/>
<circle cx="197.31" cy="48.36" r="0.85" fill="none" stroke="#9a3898" stroke-width="0.5"/>
<circle cx="211.29" cy="41.9" r="0.85" fill="none" stroke="#9a3898" stroke-width="0.5"/>
<circle cx="208.62" cy="42.77" r="0.85" fill="none" stroke="#9a3898" stroke-width="0.5"/>
<circle cx="212.48" cy="52.53" r="0.85" fill="none" stroke="#9a3898" stroke-width="0.5"/>
<circle cx="216.53" cy="43.19" r="0.85" fill="none" stroke="#b45ab2" stroke-width="0.5"/>
<circle cx="219.83" cy="50.73" r="0.85" fill="none" stroke="#b45ab2" stroke-width="0.5"/>
<circle cx="204.74" cy="49.86" r="0.85" fill="none" stroke="#9a3898" stroke-width="0.5"/>
<circle cx="221.32" cy="46.7" r="0.85" fill="none" stroke="#d2a2d2" stroke-width="0.5"/>
<circle cx="208.34" cy="45.49" r="0.85" fill="none" stroke="#9a3898" stroke-width="0.5"/>
<circle cx="215.83" cy="42.43" r="0.85" fill="none" stroke="#9a3898" stroke-width="0.5"/>
<circle cx="219.91" cy="44.74" r="0.85" fill="none" stroke="#b45ab2" stroke-width="0.5"/>
<circle cx="215.6" cy="42.9" r="0.85" fill="none" stroke="#9a3898" stroke-width="0.5"/>
<circle cx="199.6" cy="45.56" r="0.85" fill="none" stroke="#9a3898" stroke-width="0.5"/>
<circle cx="214.95" cy="42.83" r="0.85" fill="none" stroke="#9a3898" stroke-width="0.5"/>
<circle cx="214.52" cy="45.3" r="0.85" fill="none" stroke="#9a3898" stroke-width="0.5"/>
<circle cx="219.82" cy="46.68" r="0.85" fill="none" stroke="#b45ab2" stroke-width="0.5"/>
<circle cx="213.63" cy="47.09" r="0.85" fill="none" stroke="#9a3898" stroke-width="0.5"/>
<circle cx="222.42" cy="46.7" r="0.85" fill="none" stroke="#d2a2d2" stroke-width="0.5"/>
<circle cx="208.32" cy="53.57" r="0.85" fill="none" stroke="#9a3898" stroke-width="0.5"/>
<circle cx="209.3" cy="50.59" r="0.85" fill="none" stroke="#9a3898" stroke-width="0.5"/>
<circle cx="200.99" cy="48.6" r="0.85" fill="none" stroke="#9a3898" stroke-width="0.5"/>
<circle cx="193.27" cy="48.08" r="0.85" fill="none" stroke="#9a3898" stroke-width="0.5"/>
<circle cx="203.17" cy="42.92" r="0.85" fill="none" stroke="#9a3898" stroke-width="0.5"/>
<circle cx="197.47" cy="51.3" r="0.85" fill="none" stroke="#9a3898" stroke-width="0.5"/>
<circle cx="212.08" cy="42.79" r="0.85" fill="none" stroke="#9a3898" stroke-width="0.5"/>
<circle cx="222.08" cy="45.75" r="0.85" fill="none" stroke="#d2a2d2" stroke-width="0.5"/>
<circle cx="204.57" cy="48.83" r="0.85" fill="none" stroke="#9a3898" stroke-width="0.5"/>
<circle cx="200.08" cy="43.09" r="0.85" fill="none" stroke="#9a3898" stroke-width="0.5"/>
<circle cx="201.91" cy="51.91" r="0.85" fill="none" stroke="#9a3898" stroke-width="0.5"/>
<circle cx="215.85" cy="42.99" r="0.85" fill="none" stroke="#9a3898" stroke-width="0.5"/>
<circle cx="219.68" cy="47.92" r="0.85" fill="none" stroke="#b45ab2" stroke-width="0.5"/>
<circle cx="213.79" cy="48.01" r="0.85" fill="none" stroke="#9a3898" stroke-width="0.5"/>
<circle cx="212.46" cy="44.03" r="0.85" fill="none" stroke="#9a3898" stroke-width="0.5"/>
<circle cx="199.94" cy="45.19" r="0.85" fill="none" stroke="#9a3898" stroke-width="0.5"/>
<circle cx="204.72" cy="50.3" r="0.85" fill="none" stroke="#9a3898" stroke-width="0.5"/>
<circle cx="199.58" cy="52.4" r="0.85" fill="none" stroke="#9a3898" stroke-width="0.5"/>
<circle cx="202.17" cy="45.48" r="0.85" fill="none" stroke="#9a3898" stroke-width="0.5"/>
<circle cx="215.59" cy="49.52" r="0.85" fill="none" stroke="#9a3898" stroke-width="0.5"/>
<circle cx="205.29" cy="43.81" r="0.85" fill="none" stroke="#9a3898" stroke-width="0.5"/>
<circle cx="200.87" cy="43" r="0.85" fill="none" stroke="#9a3898" stroke-width="0.5"/>
<circle cx="218.1" cy="51.38" r="0.85" fill="none" stroke="#b45ab2" stroke-width="0.5"/>
<circle cx="222.52" cy="49.27" r="0.85" fill="none" stroke="#d2a2d2" stroke-width="0.5"/>
<circle cx="211.85" cy="50.81" r="0.85" fill="none" stroke="#9a3898" stroke-width="0.5"/>
<circle cx="217.79" cy="46.8" r="0.85" fill="none" stroke="#b45ab2" stroke-width="0.5"/>
<circle cx="210.94" cy="53.67" r="0.85" fill="none" stroke="#9a3898" stroke-width="0.5"/>
<circle cx="196.86" cy="44" r="0.85" fill="none" stroke="#9a3898" stroke-width="0.5"/>
<circle cx="199.59" cy="50.54" r="0.85" fill="none" stroke="#9a3898" stroke-width="0.5"/>
<circle cx="219.45" cy="46.57" r="0.85" fill="none" stroke="#b45ab2" stroke-width="0.5"/>
<circle cx="215.45" cy="47.6" r="0.85" fill="none" stroke="#9a3898" stroke-width="0.5"/>
<circle cx="211.63" cy="45.58" r="0.85" fill="none" stroke="#9a3898" stroke-width="0.5"/>
<circle cx="208.2" cy="47.78" r="0.85" fill="none" stroke="#9a3898" stroke-width="0.5"/>
<circle cx="215.53" cy="53.26" r="0.85" fill="none" stroke="#9a3898" stroke-width="0.5"/>
<circle cx="194.69" cy="49.4" r="0.85" fill="none" stroke="#9a3898" stroke-width="0.5"/>
<circle cx="208.45" cy="51.54" r="0.85" fill="none" stroke="#9a3898" stroke-width="0.5"/>
<circle cx="218.08" cy="50.57" r="0.85" fill="none" stroke="#b45ab2" stroke-width="0.5"/>
<circle cx="215.94" cy="44.36" r="0.85" fill="none" stroke="#9a3898" stroke-width="0.5"/>
<circle cx="197.48" cy="52.05" r="0.85" fill="none" stroke="#9a3898" stroke-width="0.5"/>
<circle cx="218.76" cy="44.62" r="0.85" fill="none" stroke="#b45ab2" stroke-width="0.5"/>
<circle cx="219.73" cy="50.08" r="0.85" fill="none" stroke="#b45ab2" stroke-width="0.5"/>
<circle cx="193.8" cy="49.92" r="0.85" fill="none" stroke="#9a3898" stroke-width="0.5"/>
<circle cx="200.09" cy="51.71" r="0.85" fill="none" stroke="#9a3898" stroke-width="0.5"/>
<circle cx="201.87" cy="44.95" r="0.85" fill="none" stroke="#9a3898" stroke-width="0.5"/>
<circle cx="195.47" cy="47.08" r="0.85" fill="none" stroke="#9a3898" stroke-width="0.5"/>
<circle cx="217.93" cy="45.35" r="0.85" fill="none" stroke="#b45ab2" stroke-width="0.5"/>
<circle cx="198.14" cy="52.5" r="0.85" fill="none" stroke="#9a3898" stroke-width="0.5"/>
<circle cx="222.19" cy="49.82" r="0.85" fill="none" stroke="#d2a2d2" stroke-width="0.5"/>
<circle cx="203.66" cy="43.5" r="0.85" fill="none" stroke="#9a3898" stroke-width="0.5"/>
<circle cx="195.37" cy="49.56" r="0.85" fill="none" stroke="#9a3898" stroke-width="0.5"/>
<circle cx="219.09" cy="44.4" r="0.85" fill="none" stroke="#b45ab2" stroke-width="0.5"/>
<circle cx="208.5" cy="46.62" r="0.85" fill="none" stroke="#9a3898" stroke-width="0.5"/>
<circle cx="205.8" cy="49.88" r="0.85" fill="none" stroke="#9a3898" stroke-width="0.5"/>
<circle cx="222.95" cy="46.07" r="0.85" fill="none" stroke="#d2a2d2" stroke-width="0.5"/>
<circle cx="216.05" cy="51.61" r="0.85" fill="none" stroke="#b45ab2" stroke-width="0.5"/>
<circle cx="205.44" cy="47.17" r="0.85" fill="none" stroke="#9a3898" stroke-width="0.5"/>
<circle cx="197.72" cy="51.21" r="0.85" fill="none" stroke="#9a3898" stroke-width="0.5"/>
<circle cx="203.16" cy="45.21" r="0.85" fill="none" stroke="#9a3898" stroke-width="0.5"/>
<circle cx="209.17" cy="44.41" r="0.85" fill="none" stroke="#9a3898" stroke-width="0.5"/>
<circle cx="198.52" cy="46.68" r="0.85" fill="none" stroke="#9a3898" stroke-width="0.5"/>
<circle cx="221.27" cy="47.11" r="0.85" fill="none" stroke="#d2a2d2" stroke-width="0.5"/>
<circle cx="212.95" cy="42.92" r="0.85" fill="none" stroke="#9a3898" stroke-width="0.5"/>
<circle cx="197.02" cy="52.02" r="0.85" fill="none" stroke="#9a3898" stroke-width="0.5"/>
<circle cx="205.17" cy="42.73" r="0.85" fill="none" stroke="#9a3898" stroke-width="0.5"/>
<circle cx="207.39" cy="50.3" r="0.85" fill="none" stroke="#9a3898" stroke-width="0.5"/>
<circle cx="195.55" cy="45.2" r="0.85" fill="none" stroke="#9a3898" stroke-width="0.5"/>
<circle cx="211.05" cy="44.23" r="0.85" fill="none" stroke="#9a3898" stroke-width="0.5"/>
<circle cx="215.83" cy="51.28" r="0.85" fill="none" stroke="#9a3898" stroke-width="0.5"/>
<circle cx="213.12" cy="46.03" r="0.85" fill="none" stroke="#9a3898" stroke-width="0.5"/>
<circle cx="208.02" cy="45.2" r="0.85" fill="none" stroke="#9a3898" stroke-width="0.5"/>
<circle cx="207.1" cy="49.15" r="0.85" fill="none" stroke="#9a3898" stroke-width="0.5"/>
<circle cx="205.58" cy="51.53" r="0.85" fill="none" stroke="#9a3898" stroke-width="0.5"/>
<circle cx="223.86" cy="46.53" r="0.85" fill="none" stroke="#d2a2d2" stroke-width="0.5"/>
<circle cx="211.92" cy="51.03" r="0.85" fill="none" stroke="#9a3898" stroke-width="0.5"/>
<circle cx="215.17" cy="46.83" r="0.85" fill="none" stroke="#9a3898" stroke-width="0.5"/>
<circle cx="203.94" cy="51.56" r="0.85" fill="none" stroke="#9a3898" stroke-width="0.5"/>
<circle cx="214.84" cy="49.82" r="0.85" fill="none" stroke="#9a3898" stroke-width="0.5"/>
<circle cx="200.69" cy="50.22" r="0.85" fill="none" stroke="#9a3898" stroke-width="0.5"/>
<circle cx="216.55" cy="47.06" r="0.85" fill="none" stroke="#b45ab2" stroke-width="0.5"/>
<circle cx="212.85" cy="53.56" r="0.85" fill="none" stroke="#9a3898" stroke-width="0.5"/>
<circle cx="194.57" cy="49.57" r="0.85" fill="none" stroke="#9a3898" stroke-width="0.5"/>
<circle cx="199.3" cy="43.58" r="0.85" fill="none" stroke="#9a3898" stroke-width="0.5"/>
<circle cx="206.03" cy="50.06" r="0.85" fill="none" stroke="#9a3898" stroke-width="0.5"/>
<circle cx="208.99" cy="43.48" r="0.85" fill="none" stroke="#9a3898" stroke-width="0.5"/>
<circle cx="196.28" cy="45.94" r="0.85" fill="none" stroke="#9a3898" stroke-width="0.5"/>
<circle cx="208.64" cy="44.49" r="0.85" fill="none" stroke="#9a3898" stroke-width="0.5"/>
<circle cx="198.53" cy="52.38" r="0.85" fill="none" stroke="#9a3898" stroke-width="0.5"/>
<circle cx="200.05" cy="47.18" r="0.85" fill="none" stroke="#9a3898" stroke-width="0.5"/>
<circle cx="202.93" cy="45.46" r="0.85" fill="none" stroke="#9a3898" stroke-width="0.5"/>
<circle cx="208.94" cy="46.53" r="0.85" fill="none" stroke="#9a3898" stroke-width="0.5"/>
<circle cx="214.08" cy="43.6" r="0.85" fill="none" stroke="#9a3898" stroke-width="0.5"/>
<circle cx="199.1" cy="52.66" r="0.85" fill="none" stroke="#9a3898" stroke-width="0.5"/>
<circle cx="207.73" cy="50.89" r="0.85" fill="none" stroke="#9a3898" stroke-width="0.5"/>
<circle cx="219.23" cy="49.78" r="0.85" fill="none" stroke="#b45ab2" stroke-width="0.5"/>
<circle cx="208.81" cy="42.61" r="0.85" fill="none" stroke="#9a3898" stroke-width="0.5"/>
<circle cx="196.23" cy="50.75" r="0.85" fill="none" stroke="#9a3898" stroke-width="0.5"/>
<circle cx="226.85" cy="61.62" r="0.65" fill="none" stroke="#a3d6e1" stroke-width="0.45"/>
<circle cx="248.48" cy="31.57" r="0.65" fill="none" stroke="#a3d6e1" stroke-width="0.45"/>
<circle cx="239.27" cy="47.53" r="0.65" fill="none" stroke="#a3d6e1" stroke-width="0.45"/>
<circle cx="244.34" cy="45.43" r="0.65" fill="none" stroke="#a3d6e1" stroke-width="0.45"/>
<circle cx="246.87" cy="42.61" r="0.65" fill="none" stroke="#a3d6e1" stroke-width="0.45"/>
<circle cx="245.05" cy="37.74" r="0.65" fill="none" stroke="#a3d6e1" stroke-width="0.45"/>
<circle cx="246.71" cy="41.88" r="0.65" fill="none" stroke="#a3d6e1" stroke-width="0.45"/>
<circle cx="239.74" cy="52.42" r="0.65" fill="none" stroke="#a3d6e1" stroke-width="0.45"/>
<circle cx="244.05" cy="41.6" r="0.65" fill="none" stroke="#a3d6e1" stroke-width="0.45"/>
<circle cx="237.35" cy="48.63" r="0.65" fill="none" stroke="#a3d6e1" stroke-width="0.45"/>
<circle cx="238.12" cy="45.41" r="0.65" fill="none" stroke="#a3d6e1" stroke-width="0.45"/>
<circle cx="253.38" cy="45.02" r="0.65" fill="none" stroke="#a3d6e1" stroke-width="0.45"/>
<circle cx="237.49" cy="41.37" r="0.65" fill="none" stroke="#a3d6e1" stroke-width="0.45"/>
<circle cx="250.8" cy="29.89" r="0.65" fill="none" stroke="#a3d6e1" stroke-width="0.45"/>
<circle cx="245.89" cy="42.08" r="0.65" fill="none" stroke="#a3d6e1" stroke-width="0.45"/>
<circle cx="243.94" cy="36.57" r="0.65" fill="none" stroke="#a3d6e1" stroke-width="0.45"/>
<circle cx="239.28" cy="54.46" r="0.65" fill="none" stroke="#a3d6e1" stroke-width="0.45"/>
<circle cx="248.63" cy="42.95" r="0.65" fill="none" stroke="#a3d6e1" stroke-width="0.45"/>
<circle cx="237.88" cy="56.83" r="0.65" fill="none" stroke="#a3d6e1" stroke-width="0.45"/>
<circle cx="254.66" cy="32.53" r="0.65" fill="none" stroke="#a3d6e1" stroke-width="0.45"/>
<circle cx="253.31" cy="46.38" r="0.65" fill="none" stroke="#a3d6e1" stroke-width="0.45"/>
<circle cx="241.44" cy="50.98" r="0.65" fill="none" stroke="#a3d6e1" stroke-width="0.45"/>
<circle cx="229.64" cy="56.5" r="0.65" fill="none" stroke="#a3d6e1" stroke-width="0.45"/>
<circle cx="230.79" cy="45.43" r="0.65" fill="none" stroke="#a3d6e1" stroke-width="0.45"/>
<circle cx="228.13" cy="55.2" r="0.65" fill="none" stroke="#a3d6e1" stroke-width="0.45"/>
<circle cx="229.47" cy="50.08" r="0.65" fill="none" stroke="#a3d6e1" stroke-width="0.45"/>
<circle cx="232.4" cy="49.4" r="0.65" fill="none" stroke="#a3d6e1" stroke-width="0.45"/>
<circle cx="250.41" cy="48.87" r="0.65" fill="none" stroke="#a3d6e1" stroke-width="0.45"/>
<circle cx="247.55" cy="39.95" r="0.65" fill="none" stroke="#a3d6e1" stroke-width="0.45"/>
<circle cx="253.04" cy="41.83" r="0.65" fill="none" stroke="#a3d6e1" stroke-width="0.45"/>
<circle cx="243.72" cy="51.12" r="0.65" fill="none" stroke="#a3d6e1" stroke-width="0.45"/>
<circle cx="242.37" cy="39.75" r="0.65" fill="none" stroke="#a3d6e1" stroke-width="0.45"/>
<circle cx="237.6" cy="45.03" r="0.65" fill="none" stroke="#a3d6e1" stroke-width="0.45"/>
<circle cx="258.42" cy="38.69" r="0.65" fill="none" stroke="#a3d6e1" stroke-width="0.45"/>
<circle cx="246.61" cy="48.42" r="0.65" fill="none" stroke="#a3d6e1" stroke-width="0.45"/>
<circle cx="225.61" cy="56.76" r="0.65" fill="none" stroke="#a3d6e1" stroke-width="0.45"/>
<circle cx="235.81" cy="41.57" r="0.65" fill="none" stroke="#a3d6e1" stroke-width="0.45"/>
<circle cx="237.14" cy="50.45" r="0.65" fill="none" stroke="#a3d6e1" stroke-width="0.45"/>
<circle cx="236.68" cy="52.03" r="0.65" fill="none" stroke="#a3d6e1" stroke-width="0.45"/>
<circle cx="241.8" cy="41.32" r="0.65" fill="none" stroke="#a3d6e1" stroke-width="0.45"/>
<circle cx="230.68" cy="50.8" r="0.65" fill="none" stroke="#a3d6e1" stroke-width="0.45"/>
<circle cx="226.94" cy="49.57" r="0.65" fill="none" stroke="#a3d6e1" stroke-width="0.45"/>
<circle cx="253.08" cy="25.64" r="0.65" fill="none" stroke="#a3d6e1" stroke-width="0.45"/>
<circle cx="250.53" cy="30.69" r="0.65" fill="none" stroke="#a3d6e1" stroke-width="0.45"/>
<circle cx="227.96" cy="57.32" r="0.65" fill="none" stroke="#a3d6e1" stroke-width="0.45"/>
<circle cx="249.07" cy="32.75" r="0.65" fill="none" stroke="#a3d6e1" stroke-width="0.45"/>
<circle cx="231.73" cy="54.32" r="0.65" fill="none" stroke="#a3d6e1" stroke-width="0.45"/>
<circle cx="247.54" cy="43.88" r="0.65" fill="none" stroke="#a3d6e1" stroke-width="0.45"/>
<circle cx="229.15" cy="60.79" r="0.65" fill="none" stroke="#a3d6e1" stroke-width="0.45"/>
<circle cx="252.84" cy="33.55" r="0.65" fill="none" stroke="#a3d6e1" stroke-width="0.45"/>
<circle cx="230.9" cy="57.37" r="0.65" fill="none" stroke="#a3d6e1" stroke-width="0.45"/>
<circle cx="234.25" cy="43.36" r="0.65" fill="none" stroke="#a3d6e1" stroke-width="0.45"/>
<circle cx="252.95" cy="33.03" r="0.65" fill="none" stroke="#a3d6e1" stroke-width="0.45"/>
<circle cx="250.51" cy="41.48" r="0.65" fill="none" stroke="#a3d6e1" stroke-width="0.45"/>
<circle cx="238.7" cy="45.45" r="0.65" fill="none" stroke="#a3d6e1" stroke-width="0.45"/>
<circle cx="242.82" cy="53.77" r="0.65" fill="none" stroke="#a3d6e1" stroke-width="0.45"/>
<circle cx="257.78" cy="38.12" r="0.65" fill="none" stroke="#a3d6e1" stroke-width="0.45"/>
<circle cx="237.74" cy="43.99" r="0.65" fill="none" stroke="#a3d6e1" stroke-width="0.45"/>
<circle cx="250.04" cy="38.11" r="0.65" fill="none" stroke="#a3d6e1" stroke-width="0.45"/>
<circle cx="227.7" cy="63.54" r="0.65" fill="none" stroke="#a3d6e1" stroke-width="0.45"/>
<circle cx="245.07" cy="50.15" r="0.65" fill="none" stroke="#a3d6e1" stroke-width="0.45"/>
<circle cx="246.71" cy="41.01" r="0.65" fill="none" stroke="#a3d6e1" stroke-width="0.45"/>
<circle cx="249.21" cy="38.07" r="0.65" fill="none" stroke="#a3d6e1" stroke-width="0.45"/>
<circle cx="228.41" cy="44.28" r="0.65" fill="none" stroke="#a3d6e1" stroke-width="0.45"/>
<circle cx="237.61" cy="44.99" r="0.65" fill="none" stroke="#a3d6e1" stroke-width="0.45"/>
<circle cx="236.48" cy="50.18" r="0.65" fill="none" stroke="#a3d6e1" stroke-width="0.45"/>
<circle cx="226.95" cy="54.44" r="0.65" fill="none" stroke="#a3d6e1" stroke-width="0.45"/>
<circle cx="225.85" cy="55.22" r="0.65" fill="none" stroke="#a3d6e1" stroke-width="0.45"/>
<circle cx="242.53" cy="39.33" r="0.65" fill="none" stroke="#a3d6e1" stroke-width="0.45"/>
<circle cx="227.65" cy="55.04" r="0.65" fill="none" stroke="#a3d6e1" stroke-width="0.45"/>
<circle cx="233.73" cy="51.59" r="0.65" fill="none" stroke="#a3d6e1" stroke-width="0.45"/>
<circle cx="246.4" cy="48.8" r="0.65" fill="none" stroke="#a3d6e1" stroke-width="0.45"/>
<circle cx="242.93" cy="43.22" r="0.65" fill="none" stroke="#a3d6e1" stroke-width="0.45"/>
<circle cx="250.14" cy="37.06" r="0.65" fill="none" stroke="#a3d6e1" stroke-width="0.45"/>
<circle cx="235.91" cy="52.48" r="0.65" fill="none" stroke="#a3d6e1" stroke-width="0.45"/>
<circle cx="238.97" cy="41.22" r="0.65" fill="none" stroke="#a3d6e1" stroke-width="0.45"/>
<circle cx="243.68" cy="42.8" r="0.65" fill="none" stroke="#a3d6e1" stroke-width="0.45"/>
<circle cx="236.64" cy="54.73" r="0.65" fill="none" stroke="#a3d6e1" stroke-width="0.45"/>
<circle cx="230.25" cy="58.17" r="0.65" fill="none" stroke="#a3d6e1" stroke-width="0.45"/>
<circle cx="253.34" cy="44.12" r="0.65" fill="none" stroke="#a3d6e1" stroke-width="0.45"/>
<circle cx="245.55" cy="29.81" r="0.65" fill="none" stroke="#a3d6e1" stroke-width="0.45"/>
<circle cx="233.85" cy="52.92" r="0.65" fill="none" stroke="#a3d6e1" stroke-width="0.45"/>
<circle cx="256.82" cy="48.69" r="0.65" fill="none" stroke="#a3d6e1" stroke-width="0.45"/>
<circle cx="249.03" cy="49.91" r="0.65" fill="none" stroke="#a3d6e1" stroke-width="0.45"/>
<circle cx="228.44" cy="54.26" r="0.65" fill="none" stroke="#a3d6e1" stroke-width="0.45"/>
<circle cx="255.75" cy="34.28" r="0.65" fill="none" stroke="#a3d6e1" stroke-width="0.45"/>
<circle cx="229.47" cy="53.34" r="0.65" fill="none" stroke="#a3d6e1" stroke-width="0.45"/>
<circle cx="242.74" cy="39.83" r="0.65" fill="none" stroke="#a3d6e1" stroke-width="0.45"/>
<circle cx="243.2" cy="43.2" r="0.65" fill="none" stroke="#a3d6e1" stroke-width="0.45"/>
<circle cx="223.94" cy="55.76" r="0.65" fill="none" stroke="#a3d6e1" stroke-width="0.45"/>
<circle cx="244.55" cy="49.62" r="0.65" fill="none" stroke="#a3d6e1" stroke-width="0.45"/>
<circle cx="230.62" cy="50.26" r="0.65" fill="none" stroke="#a3d6e1" stroke-width="0.45"/>
<circle cx="243.52" cy="52.45" r="0.65" fill="none" stroke="#a3d6e1" stroke-width="0.45"/>
<circle cx="229.84" cy="54.38" r="0.65" fill="none" stroke="#a3d6e1" stroke-width="0.45"/>
<circle cx="249.32" cy="35.32" r="0.65" fill="none" stroke="#a3d6e1" stroke-width="0.45"/>
<circle cx="227.54" cy="47.24" r="0.65" fill="none" stroke="#a3d6e1" stroke-width="0.45"/>
<circle cx="253.22" cy="41.9" r="0.65" fill="none" stroke="#a3d6e1" stroke-width="0.45"/>
<circle cx="234.67" cy="48.8" r="0.65" fill="none" stroke="#a3d6e1" stroke-width="0.45"/>
<circle cx="250.61" cy="43.62" r="0.65" fill="none" stroke="#a3d6e1" stroke-width="0.45"/>
<circle cx="228.16" cy="58.85" r="0.65" fill="none" stroke="#a3d6e1" stroke-width="0.45"/>
<circle cx="269.62" cy="37.13" r="0.6" fill="none" stroke="#c3e4eb" stroke-width="0.4"/>
<circle cx="257.78" cy="39.66" r="0.6" fill="none" stroke="#c3e4eb" stroke-width="0.4"/>
<circle cx="255.37" cy="36.02" r="0.6" fill="none" stroke="#c3e4eb" stroke-width="0.4"/>
<circle cx="280.82" cy="37.64" r="0.6" fill="none" stroke="#c3e4eb" stroke-width="0.4"/>
<circle cx="271.63" cy="51.73" r="0.6" fill="none" stroke="#c3e4eb" stroke-width="0.4"/>
<circle cx="276.86" cy="26.96" r="0.6" fill="none" stroke="#c3e4eb" stroke-width="0.4"/>
<circle cx="270.83" cy="59.35" r="0.6" fill="none" stroke="#c3e4eb" stroke-width="0.4"/>
<circle cx="277.5" cy="48.6" r="0.6" fill="none" stroke="#c3e4eb" stroke-width="0.4"/>
<circle cx="256.54" cy="50.09" r="0.6" fill="none" stroke="#c3e4eb" stroke-width="0.4"/>
<circle cx="282.14" cy="42.07" r="0.6" fill="none" stroke="#c3e4eb" stroke-width="0.4"/>
<circle cx="257.09" cy="44.15" r="0.6" fill="none" stroke="#c3e4eb" stroke-width="0.4"/>
<circle cx="250.03" cy="39.39" r="0.6" fill="none" stroke="#c3e4eb" stroke-width="0.4"/>
<circle cx="252.42" cy="44.19" r="0.6" fill="none" stroke="#c3e4eb" stroke-width="0.4"/>
<circle cx="257.14" cy="49.58" r="0.6" fill="none" stroke="#c3e4eb" stroke-width="0.4"/>
<circle cx="284.04" cy="34.16" r="0.6" fill="none" stroke="#c3e4eb" stroke-width="0.4"/>
<circle cx="273.12" cy="28.8" r="0.6" fill="none" stroke="#c3e4eb" stroke-width="0.4"/>
<circle cx="276.84" cy="61.03" r="0.6" fill="none" stroke="#c3e4eb" stroke-width="0.4"/>
<circle cx="248.71" cy="45.46" r="0.6" fill="none" stroke="#c3e4eb" stroke-width="0.4"/>
<circle cx="247.49" cy="44.42" r="0.6" fill="none" stroke="#c3e4eb" stroke-width="0.4"/>
<circle cx="246.54" cy="46.97" r="0.6" fill="none" stroke="#c3e4eb" stroke-width="0.4"/>
<circle cx="279.31" cy="53.06" r="0.6" fill="none" stroke="#c3e4eb" stroke-width="0.4"/>
<circle cx="273.52" cy="42.17" r="0.6" fill="none" stroke="#c3e4eb" stroke-width="0.4"/>
<circle cx="273.75" cy="58.33" r="0.6" fill="none" stroke="#c3e4eb" stroke-width="0.4"/>
<circle cx="261.6" cy="35.78" r="0.6" fill="none" stroke="#c3e4eb" stroke-width="0.4"/>
<circle cx="240.24" cy="49.56" r="0.6" fill="none" stroke="#c3e4eb" stroke-width="0.4"/>
<circle cx="266.35" cy="39.05" r="0.6" fill="none" stroke="#c3e4eb" stroke-width="0.4"/>
<circle cx="253.36" cy="23.27" r="0.6" fill="none" stroke="#c3e4eb" stroke-width="0.4"/>
<circle cx="243.06" cy="40.58" r="0.6" fill="none" stroke="#c3e4eb" stroke-width="0.4"/>
<circle cx="261.55" cy="39.42" r="0.6" fill="none" stroke="#c3e4eb" stroke-width="0.4"/>
<circle cx="281.9" cy="36.95" r="0.6" fill="none" stroke="#c3e4eb" stroke-width="0.4"/>
<circle cx="255.38" cy="57.8" r="0.6" fill="none" stroke="#c3e4eb" stroke-width="0.4"/>
<circle cx="283.37" cy="38.9" r="0.6" fill="none" stroke="#c3e4eb" stroke-width="0.4"/>
<circle cx="239.48" cy="47.74" r="0.6" fill="none" stroke="#c3e4eb" stroke-width="0.4"/>
<circle cx="280.33" cy="53.2" r="0.6" fill="none" stroke="#c3e4eb" stroke-width="0.4"/>
<circle cx="235.68" cy="45.09" r="0.6" fill="none" stroke="#c3e4eb" stroke-width="0.4"/>
<circle cx="284.49" cy="60.25" r="0.6" fill="none" stroke="#c3e4eb" stroke-width="0.4"/>
<circle cx="243.81" cy="33.31" r="0.6" fill="none" stroke="#c3e4eb" stroke-width="0.4"/>
<circle cx="269.53" cy="51.21" r="0.6" fill="none" stroke="#c3e4eb" stroke-width="0.4"/>
<circle cx="272.3" cy="46.13" r="0.6" fill="none" stroke="#c3e4eb" stroke-width="0.4"/>
<circle cx="247.86" cy="39.2" r="0.6" fill="none" stroke="#c3e4eb" stroke-width="0.4"/>
<circle cx="236.38" cy="43.77" r="0.6" fill="none" stroke="#c3e4eb" stroke-width="0.4"/>
<circle cx="247.98" cy="40.25" r="0.6" fill="none" stroke="#c3e4eb" stroke-width="0.4"/>
<circle cx="283.22" cy="38.52" r="0.6" fill="none" stroke="#c3e4eb" stroke-width="0.4"/>
<circle cx="267.81" cy="36.57" r="0.6" fill="none" stroke="#c3e4eb" stroke-width="0.4"/>
<circle cx="264.89" cy="43.4" r="0.6" fill="none" stroke="#c3e4eb" stroke-width="0.4"/>
<circle cx="238.2" cy="38.79" r="0.6" fill="none" stroke="#c3e4eb" stroke-width="0.4"/>
<circle cx="238.35" cy="54.49" r="0.6" fill="none" stroke="#c3e4eb" stroke-width="0.4"/>
<circle cx="242.11" cy="46.78" r="0.6" fill="none" stroke="#c3e4eb" stroke-width="0.4"/>
<circle cx="240.64" cy="22.24" r="0.6" fill="none" stroke="#c3e4eb" stroke-width="0.4"/>
<circle cx="269.38" cy="46.94" r="0.6" fill="none" stroke="#c3e4eb" stroke-width="0.4"/>
<circle cx="224.65" cy="69.52" r="0.65" fill="none" stroke="#8a8a8a" stroke-width="0.5"/>
<circle cx="221.9" cy="73.16" r="0.65" fill="none" stroke="#8a8a8a" stroke-width="0.5"/>
<circle cx="228.14" cy="66.76" r="0.65" fill="none" stroke="#8a8a8a" stroke-width="0.5"/>
<circle cx="223.23" cy="71.6" r="0.65" fill="none" stroke="#8a8a8a" stroke-width="0.5"/>
<circle cx="234.03" cy="65.11" r="0.65" fill="none" stroke="#8a8a8a" stroke-width="0.5"/>
<circle cx="225.27" cy="69.03" r="0.65" fill="none" stroke="#8a8a8a" stroke-width="0.5"/>
<circle cx="229.69" cy="66.46" r="0.65" fill="none" stroke="#8a8a8a" stroke-width="0.5"/>
<circle cx="224.05" cy="70.7" r="0.65" fill="none" stroke="#8a8a8a" stroke-width="0.5"/>
<circle cx="228.06" cy="65.49" r="0.65" fill="none" stroke="#8a8a8a" stroke-width="0.5"/>
<circle cx="223.68" cy="71.62" r="0.65" fill="none" stroke="#8a8a8a" stroke-width="0.5"/>
<circle cx="232.48" cy="64.34" r="0.65" fill="none" stroke="#8a8a8a" stroke-width="0.5"/>
<circle cx="228.48" cy="67.74" r="0.65" fill="none" stroke="#8a8a8a" stroke-width="0.5"/>
<circle cx="221.57" cy="72.35" r="0.65" fill="none" stroke="#8a8a8a" stroke-width="0.5"/>
<circle cx="232.26" cy="64.82" r="0.65" fill="none" stroke="#8a8a8a" stroke-width="0.5"/>
<circle cx="248.32" cy="136.76" r="0.7" fill="none" stroke="#9dd3df" stroke-width="0.45"/>
<circle cx="253.32" cy="121.37" r="0.7" fill="none" stroke="#9dd3df" stroke-width="0.45"/>
<circle cx="253.17" cy="137.05" r="0.7" fill="none" stroke="#9dd3df" stroke-width="0.45"/>
<circle cx="254.81" cy="121.9" r="0.7" fill="none" stroke="#9dd3df" stroke-width="0.45"/>
<circle cx="250.77" cy="115.99" r="0.7" fill="none" stroke="#9dd3df" stroke-width="0.45"/>
<circle cx="259.18" cy="121.34" r="0.7" fill="none" stroke="#9dd3df" stroke-width="0.45"/>
<circle cx="270.55" cy="125.22" r="0.7" fill="none" stroke="#9dd3df" stroke-width="0.45"/>
<circle cx="271.53" cy="138.53" r="0.7" fill="none" stroke="#9dd3df" stroke-width="0.45"/>
<circle cx="252.58" cy="109.07" r="0.7" fill="none" stroke="#9dd3df" stroke-width="0.45"/>
<circle cx="261.57" cy="112.23" r="0.7" fill="none" stroke="#9dd3df" stroke-width="0.45"/>
<circle cx="262.53" cy="133.97" r="0.7" fill="none" stroke="#9dd3df" stroke-width="0.45"/>
<circle cx="246.34" cy="112.3" r="0.7" fill="none" stroke="#9dd3df" stroke-width="0.45"/>
<circle cx="263.39" cy="114.34" r="0.7" fill="none" stroke="#9dd3df" stroke-width="0.45"/>
<circle cx="252.4" cy="124.07" r="0.7" fill="none" stroke="#9dd3df" stroke-width="0.45"/>
<circle cx="247.43" cy="110.48" r="0.7" fill="none" stroke="#9dd3df" stroke-width="0.45"/>
<circle cx="258.16" cy="125.12" r="0.7" fill="none" stroke="#9dd3df" stroke-width="0.45"/>
<circle cx="283.6" cy="128.25" r="0.7" fill="none" stroke="#9dd3df" stroke-width="0.45"/>
<circle cx="245.36" cy="116.12" r="0.7" fill="none" stroke="#9dd3df" stroke-width="0.45"/>
<circle cx="275.09" cy="128.54" r="0.7" fill="none" stroke="#9dd3df" stroke-width="0.45"/>
<circle cx="283.91" cy="127.16" r="0.7" fill="none" stroke="#9dd3df" stroke-width="0.45"/>
<circle cx="252.8" cy="114.23" r="0.7" fill="none" stroke="#9dd3df" stroke-width="0.45"/>
<circle cx="245.87" cy="117.68" r="0.7" fill="none" stroke="#9dd3df" stroke-width="0.45"/>
<circle cx="283.04" cy="124.82" r="0.7" fill="none" stroke="#9dd3df" stroke-width="0.45"/>
<circle cx="262.22" cy="119.6" r="0.7" fill="none" stroke="#9dd3df" stroke-width="0.45"/>
<circle cx="251.28" cy="132.2" r="0.7" fill="none" stroke="#9dd3df" stroke-width="0.45"/>
<circle cx="258.17" cy="112.37" r="0.7" fill="none" stroke="#9dd3df" stroke-width="0.45"/>
<circle cx="285.7" cy="125.58" r="0.7" fill="none" stroke="#9dd3df" stroke-width="0.45"/>
<circle cx="271.06" cy="126.79" r="0.7" fill="none" stroke="#9dd3df" stroke-width="0.45"/>
<circle cx="274.93" cy="127.61" r="0.7" fill="none" stroke="#9dd3df" stroke-width="0.45"/>
<circle cx="252.55" cy="126.21" r="0.7" fill="none" stroke="#9dd3df" stroke-width="0.45"/>
<circle cx="268.94" cy="131.77" r="0.7" fill="none" stroke="#9dd3df" stroke-width="0.45"/>
<circle cx="248.61" cy="137.33" r="0.7" fill="none" stroke="#9dd3df" stroke-width="0.45"/>
<circle cx="280.09" cy="121.42" r="0.7" fill="none" stroke="#9dd3df" stroke-width="0.45"/>
<circle cx="252.23" cy="129.83" r="0.7" fill="none" stroke="#9dd3df" stroke-width="0.45"/>
<circle cx="251.79" cy="109.31" r="0.7" fill="none" stroke="#9dd3df" stroke-width="0.45"/>
<circle cx="261.6" cy="113.13" r="0.7" fill="none" stroke="#9dd3df" stroke-width="0.45"/>
<circle cx="250.67" cy="135.34" r="0.7" fill="none" stroke="#9dd3df" stroke-width="0.45"/>
<circle cx="267.98" cy="142.29" r="0.7" fill="none" stroke="#9dd3df" stroke-width="0.45"/>
<circle cx="259.97" cy="132.79" r="0.7" fill="none" stroke="#9dd3df" stroke-width="0.45"/>
<circle cx="252.5" cy="125.41" r="0.7" fill="none" stroke="#9dd3df" stroke-width="0.45"/>
<circle cx="264.82" cy="142.61" r="0.7" fill="none" stroke="#9dd3df" stroke-width="0.45"/>
<circle cx="263.95" cy="144.2" r="0.7" fill="none" stroke="#9dd3df" stroke-width="0.45"/>
<circle cx="269.66" cy="115.9" r="0.7" fill="none" stroke="#9dd3df" stroke-width="0.45"/>
<circle cx="252.2" cy="143.08" r="0.7" fill="none" stroke="#9dd3df" stroke-width="0.45"/>
<circle cx="256.42" cy="122.85" r="0.7" fill="none" stroke="#9dd3df" stroke-width="0.45"/>
<circle cx="257.37" cy="132.41" r="0.7" fill="none" stroke="#9dd3df" stroke-width="0.45"/>
<circle cx="249.36" cy="138.22" r="0.7" fill="none" stroke="#9dd3df" stroke-width="0.45"/>
<circle cx="253.6" cy="124.58" r="0.7" fill="none" stroke="#9dd3df" stroke-width="0.45"/>
<circle cx="267.03" cy="133.98" r="0.7" fill="none" stroke="#9dd3df" stroke-width="0.45"/>
<circle cx="248.29" cy="116.78" r="0.7" fill="none" stroke="#9dd3df" stroke-width="0.45"/>
<circle cx="248.79" cy="113" r="0.7" fill="none" stroke="#9dd3df" stroke-width="0.45"/>
<circle cx="265.28" cy="129.22" r="0.7" fill="none" stroke="#9dd3df" stroke-width="0.45"/>
<circle cx="252.56" cy="114.11" r="0.7" fill="none" stroke="#9dd3df" stroke-width="0.45"/>
<circle cx="268.08" cy="124.51" r="0.7" fill="none" stroke="#9dd3df" stroke-width="0.45"/>
<circle cx="260.27" cy="140.43" r="0.7" fill="none" stroke="#9dd3df" stroke-width="0.45"/>
<circle cx="271.45" cy="139.4" r="0.7" fill="none" stroke="#9dd3df" stroke-width="0.45"/>
<circle cx="283.84" cy="122.88" r="0.7" fill="none" stroke="#9dd3df" stroke-width="0.45"/>
<circle cx="255" cy="118.55" r="0.7" fill="none" stroke="#9dd3df" stroke-width="0.45"/>
<circle cx="260.77" cy="127.32" r="0.7" fill="none" stroke="#9dd3df" stroke-width="0.45"/>
<circle cx="279.72" cy="137.46" r="0.7" fill="none" stroke="#9dd3df" stroke-width="0.45"/>
<circle cx="271.08" cy="126.72" r="0.7" fill="none" stroke="#9dd3df" stroke-width="0.45"/>
<circle cx="247.35" cy="116.9" r="0.7" fill="none" stroke="#9dd3df" stroke-width="0.45"/>
<circle cx="271.29" cy="129.4" r="0.7" fill="none" stroke="#9dd3df" stroke-width="0.45"/>
<circle cx="277.61" cy="140.81" r="0.7" fill="none" stroke="#9dd3df" stroke-width="0.45"/>
<circle cx="245.56" cy="140.76" r="0.7" fill="none" stroke="#9dd3df" stroke-width="0.45"/>
<circle cx="267.41" cy="114.63" r="0.7" fill="none" stroke="#9dd3df" stroke-width="0.45"/>
<circle cx="272.79" cy="117.33" r="0.7" fill="none" stroke="#9dd3df" stroke-width="0.45"/>
<circle cx="252.66" cy="121.37" r="0.7" fill="none" stroke="#9dd3df" stroke-width="0.45"/>
<circle cx="265.35" cy="132.73" r="0.7" fill="none" stroke="#9dd3df" stroke-width="0.45"/>
<circle cx="245.45" cy="135.06" r="0.7" fill="none" stroke="#9dd3df" stroke-width="0.45"/>
<circle cx="269.79" cy="125.22" r="0.7" fill="none" stroke="#9dd3df" stroke-width="0.45"/>
<circle cx="271.91" cy="137.19" r="0.7" fill="none" stroke="#9dd3df" stroke-width="0.45"/>
<circle cx="272.16" cy="133.88" r="0.7" fill="none" stroke="#9dd3df" stroke-width="0.45"/>
<circle cx="252.49" cy="123.72" r="0.7" fill="none" stroke="#9dd3df" stroke-width="0.45"/>
<circle cx="260.28" cy="143.1" r="0.7" fill="none" stroke="#9dd3df" stroke-width="0.45"/>
<circle cx="274.7" cy="121.13" r="0.7" fill="none" stroke="#9dd3df" stroke-width="0.45"/>
<circle cx="271.52" cy="135.99" r="0.7" fill="none" stroke="#9dd3df" stroke-width="0.45"/>
<circle cx="247.84" cy="116.12" r="0.7" fill="none" stroke="#9dd3df" stroke-width="0.45"/>
<circle cx="251.7" cy="117.71" r="0.7" fill="none" stroke="#9dd3df" stroke-width="0.45"/>
<circle cx="260.15" cy="123.36" r="0.7" fill="none" stroke="#9dd3df" stroke-width="0.45"/>
<circle cx="245.64" cy="129.26" r="0.7" fill="none" stroke="#9dd3df" stroke-width="0.45"/>
<circle cx="283.85" cy="129.06" r="0.7" fill="none" stroke="#9dd3df" stroke-width="0.45"/>
<circle cx="257.92" cy="133.71" r="0.7" fill="none" stroke="#9dd3df" stroke-width="0.45"/>
<circle cx="261.53" cy="114.4" r="0.7" fill="none" stroke="#9dd3df" stroke-width="0.45"/>
<circle cx="258.54" cy="143.13" r="0.7" fill="none" stroke="#9dd3df" stroke-width="0.45"/>
<circle cx="276.09" cy="138.5" r="0.7" fill="none" stroke="#9dd3df" stroke-width="0.45"/>
<circle cx="270.58" cy="131.16" r="0.7" fill="none" stroke="#9dd3df" stroke-width="0.45"/>
<circle cx="250.88" cy="135.97" r="0.7" fill="none" stroke="#9dd3df" stroke-width="0.45"/>
<circle cx="255.5" cy="117.34" r="0.7" fill="none" stroke="#9dd3df" stroke-width="0.45"/>
<circle cx="278.51" cy="129.94" r="0.7" fill="none" stroke="#9dd3df" stroke-width="0.45"/>
<circle cx="268.23" cy="115.24" r="0.7" fill="none" stroke="#9dd3df" stroke-width="0.45"/>
<circle cx="274.27" cy="117.94" r="0.7" fill="none" stroke="#9dd3df" stroke-width="0.45"/>
<circle cx="249.86" cy="133.4" r="0.7" fill="none" stroke="#9dd3df" stroke-width="0.45"/>
<circle cx="253.92" cy="133.96" r="0.7" fill="none" stroke="#9dd3df" stroke-width="0.45"/>
<circle cx="247.25" cy="142.11" r="0.7" fill="none" stroke="#9dd3df" stroke-width="0.45"/>
<circle cx="257.02" cy="127.06" r="0.7" fill="none" stroke="#9dd3df" stroke-width="0.45"/>
<circle cx="256.35" cy="123.23" r="0.7" fill="none" stroke="#9dd3df" stroke-width="0.45"/>
<circle cx="263.36" cy="117.44" r="0.7" fill="none" stroke="#9dd3df" stroke-width="0.45"/>
<circle cx="249.38" cy="111.34" r="0.7" fill="none" stroke="#9dd3df" stroke-width="0.45"/>
<circle cx="269.78" cy="133.43" r="0.7" fill="none" stroke="#9dd3df" stroke-width="0.45"/>
<circle cx="253.82" cy="136.9" r="0.7" fill="none" stroke="#9dd3df" stroke-width="0.45"/>
<circle cx="274.41" cy="120.47" r="0.7" fill="none" stroke="#9dd3df" stroke-width="0.45"/>
<circle cx="263.94" cy="114.88" r="0.7" fill="none" stroke="#9dd3df" stroke-width="0.45"/>
<circle cx="283.26" cy="128.45" r="0.7" fill="none" stroke="#9dd3df" stroke-width="0.45"/>
<circle cx="244.47" cy="113.62" r="0.7" fill="none" stroke="#9dd3df" stroke-width="0.45"/>
<circle cx="272.81" cy="122.06" r="0.7" fill="none" stroke="#9dd3df" stroke-width="0.45"/>
<circle cx="273.89" cy="116.37" r="0.7" fill="none" stroke="#9dd3df" stroke-width="0.45"/>
<circle cx="277.43" cy="137.27" r="0.7" fill="none" stroke="#9dd3df" stroke-width="0.45"/>
<circle cx="246.36" cy="129.4" r="0.7" fill="none" stroke="#9dd3df" stroke-width="0.45"/>
<circle cx="250.66" cy="133.83" r="0.7" fill="none" stroke="#9dd3df" stroke-width="0.45"/>
<circle cx="277.74" cy="136.88" r="0.7" fill="none" stroke="#9dd3df" stroke-width="0.45"/>
<circle cx="252.42" cy="111.41" r="0.7" fill="none" stroke="#9dd3df" stroke-width="0.45"/>
<circle cx="271.52" cy="128.62" r="0.7" fill="none" stroke="#9dd3df" stroke-width="0.45"/>
<circle cx="248.31" cy="115.03" r="0.7" fill="none" stroke="#9dd3df" stroke-width="0.45"/>
<circle cx="270.22" cy="116.79" r="0.7" fill="none" stroke="#9dd3df" stroke-width="0.45"/>
<circle cx="253.63" cy="123.46" r="0.7" fill="none" stroke="#9dd3df" stroke-width="0.45"/>
<circle cx="265.77" cy="134.44" r="0.7" fill="none" stroke="#9dd3df" stroke-width="0.45"/>
<circle cx="243.57" cy="134.44" r="0.7" fill="none" stroke="#9dd3df" stroke-width="0.45"/>
<circle cx="251.97" cy="118.61" r="0.7" fill="none" stroke="#9dd3df" stroke-width="0.45"/>
<circle cx="270.48" cy="133.23" r="0.7" fill="none" stroke="#9dd3df" stroke-width="0.45"/>
<circle cx="269.37" cy="140.92" r="0.7" fill="none" stroke="#9dd3df" stroke-width="0.45"/>
<circle cx="251.24" cy="119.36" r="0.7" fill="none" stroke="#9dd3df" stroke-width="0.45"/>
<circle cx="271.48" cy="117.52" r="0.7" fill="none" stroke="#9dd3df" stroke-width="0.45"/>
<circle cx="249.15" cy="116.26" r="0.7" fill="none" stroke="#9dd3df" stroke-width="0.45"/>
<circle cx="276.29" cy="138.19" r="0.7" fill="none" stroke="#9dd3df" stroke-width="0.45"/>
<circle cx="277.31" cy="119.3" r="0.7" fill="none" stroke="#9dd3df" stroke-width="0.45"/>
<circle cx="256.14" cy="134.32" r="0.7" fill="none" stroke="#9dd3df" stroke-width="0.45"/>
<circle cx="244.66" cy="130.24" r="0.7" fill="none" stroke="#9dd3df" stroke-width="0.45"/>
<circle cx="264.91" cy="113.52" r="0.7" fill="none" stroke="#9dd3df" stroke-width="0.45"/>
<circle cx="262.61" cy="115.22" r="0.7" fill="none" stroke="#9dd3df" stroke-width="0.45"/>
<circle cx="247.49" cy="126.5" r="0.7" fill="none" stroke="#9dd3df" stroke-width="0.45"/>
<circle cx="265.24" cy="121.24" r="0.7" fill="none" stroke="#9dd3df" stroke-width="0.45"/>
<circle cx="273.86" cy="127.32" r="0.7" fill="none" stroke="#9dd3df" stroke-width="0.45"/>
<circle cx="245.3" cy="122.13" r="0.7" fill="none" stroke="#9dd3df" stroke-width="0.45"/>
<circle cx="263.57" cy="117.22" r="0.7" fill="none" stroke="#9dd3df" stroke-width="0.45"/>
<circle cx="271.75" cy="116.1" r="0.7" fill="none" stroke="#9dd3df" stroke-width="0.45"/>
<circle cx="256.27" cy="125.41" r="0.7" fill="none" stroke="#9dd3df" stroke-width="0.45"/>
<circle cx="273.69" cy="136.12" r="0.7" fill="none" stroke="#9dd3df" stroke-width="0.45"/>
<circle cx="258.63" cy="124.31" r="0.7" fill="none" stroke="#9dd3df" stroke-width="0.45"/>
<circle cx="262.34" cy="131.24" r="0.7" fill="none" stroke="#9dd3df" stroke-width="0.45"/>
<circle cx="254.51" cy="109.36" r="0.7" fill="none" stroke="#9dd3df" stroke-width="0.45"/>
<circle cx="247.9" cy="125" r="0.7" fill="none" stroke="#9dd3df" stroke-width="0.45"/>
<circle cx="269.58" cy="118.95" r="0.7" fill="none" stroke="#9dd3df" stroke-width="0.45"/>
<circle cx="245.23" cy="135.4" r="0.7" fill="none" stroke="#9dd3df" stroke-width="0.45"/>
<circle cx="276.27" cy="123.96" r="0.7" fill="none" stroke="#9dd3df" stroke-width="0.45"/>
<circle cx="245.99" cy="122.38" r="0.7" fill="none" stroke="#9dd3df" stroke-width="0.45"/>
<circle cx="244.46" cy="118.51" r="0.7" fill="none" stroke="#9dd3df" stroke-width="0.45"/>
<circle cx="246.91" cy="110.58" r="0.7" fill="none" stroke="#9dd3df" stroke-width="0.45"/>
<circle cx="249.45" cy="127.41" r="0.7" fill="none" stroke="#9dd3df" stroke-width="0.45"/>
<circle cx="249.88" cy="135.92" r="0.7" fill="none" stroke="#9dd3df" stroke-width="0.45"/>
<circle cx="261.02" cy="120.34" r="0.7" fill="none" stroke="#9dd3df" stroke-width="0.45"/>
<circle cx="247.65" cy="116.86" r="0.7" fill="none" stroke="#9dd3df" stroke-width="0.45"/>
<circle cx="253.67" cy="135.03" r="0.7" fill="none" stroke="#9dd3df" stroke-width="0.45"/>
<circle cx="263.1" cy="142.91" r="0.7" fill="none" stroke="#9dd3df" stroke-width="0.45"/>
<circle cx="268.9" cy="118.54" r="0.7" fill="none" stroke="#9dd3df" stroke-width="0.45"/>
<circle cx="262.76" cy="134.14" r="0.7" fill="none" stroke="#9dd3df" stroke-width="0.45"/>
<circle cx="250.76" cy="142.98" r="0.7" fill="none" stroke="#9dd3df" stroke-width="0.45"/>
<circle cx="246.93" cy="137.69" r="0.7" fill="none" stroke="#9dd3df" stroke-width="0.45"/>
<circle cx="257.18" cy="117.05" r="0.7" fill="none" stroke="#9dd3df" stroke-width="0.45"/>
<circle cx="253.48" cy="125.13" r="0.7" fill="none" stroke="#9dd3df" stroke-width="0.45"/>
<circle cx="279.97" cy="119.73" r="0.7" fill="none" stroke="#9dd3df" stroke-width="0.45"/>
<circle cx="249.84" cy="135.18" r="0.7" fill="none" stroke="#9dd3df" stroke-width="0.45"/>
<circle cx="257.3" cy="114.84" r="0.7" fill="none" stroke="#9dd3df" stroke-width="0.45"/>
<circle cx="260.69" cy="137.99" r="0.7" fill="none" stroke="#9dd3df" stroke-width="0.45"/>
<circle cx="280.35" cy="128.98" r="0.7" fill="none" stroke="#9dd3df" stroke-width="0.45"/>
<circle cx="269.01" cy="140.83" r="0.7" fill="none" stroke="#9dd3df" stroke-width="0.45"/>
<circle cx="279.7" cy="137.89" r="0.7" fill="none" stroke="#9dd3df" stroke-width="0.45"/>
<circle cx="253.96" cy="121.35" r="0.7" fill="none" stroke="#9dd3df" stroke-width="0.45"/>
<circle cx="258.76" cy="120.88" r="0.7" fill="none" stroke="#9dd3df" stroke-width="0.45"/>
<circle cx="258.92" cy="112.02" r="0.7" fill="none" stroke="#9dd3df" stroke-width="0.45"/>
<circle cx="252.24" cy="141.2" r="0.7" fill="none" stroke="#9dd3df" stroke-width="0.45"/>
<circle cx="260.35" cy="131.21" r="0.7" fill="none" stroke="#9dd3df" stroke-width="0.45"/>
<circle cx="281.42" cy="135.58" r="0.7" fill="none" stroke="#9dd3df" stroke-width="0.45"/>
<circle cx="253" cy="141.56" r="0.7" fill="none" stroke="#9dd3df" stroke-width="0.45"/>
<circle cx="274.38" cy="135.55" r="0.7" fill="none" stroke="#9dd3df" stroke-width="0.45"/>
<circle cx="278.14" cy="117.24" r="0.7" fill="none" stroke="#9dd3df" stroke-width="0.45"/>
<circle cx="271.19" cy="121.89" r="0.7" fill="none" stroke="#9dd3df" stroke-width="0.45"/>
<circle cx="266.03" cy="120.28" r="0.7" fill="none" stroke="#9dd3df" stroke-width="0.45"/>
<circle cx="278.47" cy="120.6" r="0.7" fill="none" stroke="#9dd3df" stroke-width="0.45"/>
<circle cx="279.5" cy="138.95" r="0.7" fill="none" stroke="#9dd3df" stroke-width="0.45"/>
<circle cx="272.12" cy="131.81" r="0.7" fill="none" stroke="#9dd3df" stroke-width="0.45"/>
<circle cx="244.32" cy="139.76" r="0.7" fill="none" stroke="#9dd3df" stroke-width="0.45"/>
<circle cx="266.41" cy="124.63" r="0.7" fill="none" stroke="#9dd3df" stroke-width="0.45"/>
<circle cx="257.2" cy="136.58" r="0.7" fill="none" stroke="#9dd3df" stroke-width="0.45"/>
<circle cx="276.77" cy="139.75" r="0.7" fill="none" stroke="#9dd3df" stroke-width="0.45"/>
<circle cx="251.66" cy="120.43" r="0.7" fill="none" stroke="#9dd3df" stroke-width="0.45"/>
<circle cx="253.22" cy="111.66" r="0.7" fill="none" stroke="#9dd3df" stroke-width="0.45"/>
<circle cx="262.62" cy="122.67" r="0.7" fill="none" stroke="#9dd3df" stroke-width="0.45"/>
<circle cx="255.9" cy="131.08" r="0.7" fill="none" stroke="#9dd3df" stroke-width="0.45"/>
<circle cx="281.75" cy="125.17" r="0.7" fill="none" stroke="#9dd3df" stroke-width="0.45"/>
<circle cx="281.97" cy="134.78" r="0.7" fill="none" stroke="#9dd3df" stroke-width="0.45"/>
<circle cx="255.97" cy="139.9" r="0.7" fill="none" stroke="#9dd3df" stroke-width="0.45"/>
<circle cx="268.17" cy="138.27" r="0.7" fill="none" stroke="#9dd3df" stroke-width="0.45"/>
<circle cx="265.12" cy="125.67" r="0.7" fill="none" stroke="#9dd3df" stroke-width="0.45"/>
<circle cx="260.61" cy="140.14" r="0.7" fill="none" stroke="#9dd3df" stroke-width="0.45"/>
<circle cx="258.22" cy="121.26" r="0.7" fill="none" stroke="#9dd3df" stroke-width="0.45"/>
<circle cx="284.57" cy="133.4" r="0.7" fill="none" stroke="#9dd3df" stroke-width="0.45"/>
<circle cx="247.72" cy="141.37" r="0.7" fill="none" stroke="#9dd3df" stroke-width="0.45"/>
<circle cx="243.74" cy="129.57" r="0.7" fill="none" stroke="#9dd3df" stroke-width="0.45"/>
<circle cx="261.31" cy="134.19" r="0.7" fill="none" stroke="#9dd3df" stroke-width="0.45"/>
<circle cx="261.18" cy="111.37" r="0.7" fill="none" stroke="#9dd3df" stroke-width="0.45"/>
<circle cx="265.35" cy="137.95" r="0.7" fill="none" stroke="#9dd3df" stroke-width="0.45"/>
<circle cx="277.07" cy="121.02" r="0.7" fill="none" stroke="#9dd3df" stroke-width="0.45"/>
<circle cx="252.03" cy="135.19" r="0.7" fill="none" stroke="#9dd3df" stroke-width="0.45"/>
<circle cx="261.36" cy="121.89" r="0.7" fill="none" stroke="#9dd3df" stroke-width="0.45"/>
<circle cx="273.58" cy="141.94" r="0.7" fill="none" stroke="#9dd3df" stroke-width="0.45"/>
<circle cx="251.12" cy="119.01" r="0.7" fill="none" stroke="#9dd3df" stroke-width="0.45"/>
<circle cx="256.74" cy="134.73" r="0.7" fill="none" stroke="#9dd3df" stroke-width="0.45"/>
<circle cx="250.46" cy="127.96" r="0.7" fill="none" stroke="#9dd3df" stroke-width="0.45"/>
<circle cx="264.31" cy="132.4" r="0.7" fill="none" stroke="#9dd3df" stroke-width="0.45"/>
<circle cx="282.43" cy="128.13" r="0.7" fill="none" stroke="#9dd3df" stroke-width="0.45"/>
<circle cx="275.77" cy="139.7" r="0.7" fill="none" stroke="#9dd3df" stroke-width="0.45"/>
<circle cx="258.19" cy="141.73" r="0.7" fill="none" stroke="#9dd3df" stroke-width="0.45"/>
<circle cx="251.37" cy="108.85" r="0.7" fill="none" stroke="#9dd3df" stroke-width="0.45"/>
<circle cx="264.41" cy="140.8" r="0.7" fill="none" stroke="#9dd3df" stroke-width="0.45"/>
<circle cx="264.78" cy="142.04" r="0.7" fill="none" stroke="#9dd3df" stroke-width="0.45"/>
<circle cx="270.09" cy="137.32" r="0.7" fill="none" stroke="#9dd3df" stroke-width="0.45"/>
<circle cx="260.93" cy="129.98" r="0.7" fill="none" stroke="#9dd3df" stroke-width="0.45"/>
<circle cx="253.65" cy="118.07" r="0.7" fill="none" stroke="#9dd3df" stroke-width="0.45"/>
<circle cx="260.78" cy="126.73" r="0.7" fill="none" stroke="#9dd3df" stroke-width="0.45"/>
<circle cx="273.89" cy="135.32" r="0.7" fill="none" stroke="#9dd3df" stroke-width="0.45"/>
<circle cx="252.68" cy="117.33" r="0.7" fill="none" stroke="#9dd3df" stroke-width="0.45"/>
<circle cx="265.04" cy="114.4" r="0.7" fill="none" stroke="#9dd3df" stroke-width="0.45"/>
<circle cx="268.85" cy="141" r="0.7" fill="none" stroke="#9dd3df" stroke-width="0.45"/>
<circle cx="251.13" cy="129.37" r="0.7" fill="none" stroke="#9dd3df" stroke-width="0.45"/>
<circle cx="274.06" cy="135.35" r="0.7" fill="none" stroke="#9dd3df" stroke-width="0.45"/>
<circle cx="273.67" cy="133.94" r="0.7" fill="none" stroke="#9dd3df" stroke-width="0.45"/>
<circle cx="254.25" cy="138.6" r="0.7" fill="none" stroke="#9dd3df" stroke-width="0.45"/>
<circle cx="283.93" cy="124.16" r="0.7" fill="none" stroke="#9dd3df" stroke-width="0.45"/>
<circle cx="277.42" cy="132.73" r="0.7" fill="none" stroke="#9dd3df" stroke-width="0.45"/>
<circle cx="248.48" cy="124.79" r="0.7" fill="none" stroke="#9dd3df" stroke-width="0.45"/>
<circle cx="257.05" cy="135.98" r="0.7" fill="none" stroke="#9dd3df" stroke-width="0.45"/>
<circle cx="253.03" cy="115.26" r="0.7" fill="none" stroke="#9dd3df" stroke-width="0.45"/>
<circle cx="249.33" cy="122.97" r="0.7" fill="none" stroke="#9dd3df" stroke-width="0.45"/>
<circle cx="269.52" cy="119.07" r="0.7" fill="none" stroke="#9dd3df" stroke-width="0.45"/>
<circle cx="249.36" cy="115.98" r="0.7" fill="none" stroke="#9dd3df" stroke-width="0.45"/>
<circle cx="245.96" cy="115.05" r="0.7" fill="none" stroke="#9dd3df" stroke-width="0.45"/>
<circle cx="256.16" cy="126.42" r="0.7" fill="none" stroke="#9dd3df" stroke-width="0.45"/>
<circle cx="250.32" cy="125.51" r="0.7" fill="none" stroke="#9dd3df" stroke-width="0.45"/>
<circle cx="261.64" cy="143.51" r="0.7" fill="none" stroke="#9dd3df" stroke-width="0.45"/>
<circle cx="263.69" cy="142.49" r="0.7" fill="none" stroke="#9dd3df" stroke-width="0.45"/>
<circle cx="263.04" cy="115.23" r="0.7" fill="none" stroke="#9dd3df" stroke-width="0.45"/>
<circle cx="249.68" cy="110.68" r="0.7" fill="none" stroke="#9dd3df" stroke-width="0.45"/>
<circle cx="260.03" cy="120.92" r="0.7" fill="none" stroke="#9dd3df" stroke-width="0.45"/>
<circle cx="260.99" cy="120.85" r="0.7" fill="none" stroke="#9dd3df" stroke-width="0.45"/>
<circle cx="272.73" cy="122.3" r="0.7" fill="none" stroke="#9dd3df" stroke-width="0.45"/>
<circle cx="248.93" cy="139.55" r="0.7" fill="none" stroke="#9dd3df" stroke-width="0.45"/>
<circle cx="279.75" cy="134.59" r="0.7" fill="none" stroke="#9dd3df" stroke-width="0.45"/>
<circle cx="257.87" cy="130.99" r="0.7" fill="none" stroke="#9dd3df" stroke-width="0.45"/>
<circle cx="282.87" cy="122.66" r="0.7" fill="none" stroke="#9dd3df" stroke-width="0.45"/>
<circle cx="261.32" cy="118.89" r="0.7" fill="none" stroke="#9dd3df" stroke-width="0.45"/>
<circle cx="266.7" cy="132.19" r="0.7" fill="none" stroke="#9dd3df" stroke-width="0.45"/>
<circle cx="248.62" cy="121.35" r="0.7" fill="none" stroke="#9dd3df" stroke-width="0.45"/>
<circle cx="279.84" cy="136.87" r="0.7" fill="none" stroke="#9dd3df" stroke-width="0.45"/>
<circle cx="268.28" cy="132.72" r="0.7" fill="none" stroke="#9dd3df" stroke-width="0.45"/>
<circle cx="257.23" cy="142.49" r="0.7" fill="none" stroke="#9dd3df" stroke-width="0.45"/>
<circle cx="266.48" cy="122.69" r="0.7" fill="none" stroke="#9dd3df" stroke-width="0.45"/>
<circle cx="250.26" cy="112.21" r="0.7" fill="none" stroke="#9dd3df" stroke-width="0.45"/>
<circle cx="263.4" cy="126.09" r="0.7" fill="none" stroke="#9dd3df" stroke-width="0.45"/>
<circle cx="258.26" cy="140.67" r="0.7" fill="none" stroke="#9dd3df" stroke-width="0.45"/>
<circle cx="257.66" cy="127.42" r="0.7" fill="none" stroke="#9dd3df" stroke-width="0.45"/>
<circle cx="283.28" cy="131.33" r="0.7" fill="none" stroke="#9dd3df" stroke-width="0.45"/>
<circle cx="263.28" cy="120.14" r="0.7" fill="none" stroke="#9dd3df" stroke-width="0.45"/>
<circle cx="259.31" cy="130.23" r="0.7" fill="none" stroke="#9dd3df" stroke-width="0.45"/>
<circle cx="276.94" cy="117.51" r="0.7" fill="none" stroke="#9dd3df" stroke-width="0.45"/>
<circle cx="258.58" cy="122.15" r="0.7" fill="none" stroke="#9dd3df" stroke-width="0.45"/>
<circle cx="258.24" cy="141.32" r="0.7" fill="none" stroke="#9dd3df" stroke-width="0.45"/>
<circle cx="266.02" cy="118.07" r="0.7" fill="none" stroke="#9dd3df" stroke-width="0.45"/>
<circle cx="256.89" cy="137.98" r="0.7" fill="none" stroke="#9dd3df" stroke-width="0.45"/>
<circle cx="249.28" cy="133.18" r="0.7" fill="none" stroke="#9dd3df" stroke-width="0.45"/>
<circle cx="244.83" cy="137.4" r="0.7" fill="none" stroke="#9dd3df" stroke-width="0.45"/>
<circle cx="248.69" cy="116.32" r="0.7" fill="none" stroke="#9dd3df" stroke-width="0.45"/>
<circle cx="244.75" cy="117.63" r="0.7" fill="none" stroke="#9dd3df" stroke-width="0.45"/>
<circle cx="274.62" cy="134.29" r="0.7" fill="none" stroke="#9dd3df" stroke-width="0.45"/>
<circle cx="266.55" cy="141.65" r="0.7" fill="none" stroke="#9dd3df" stroke-width="0.45"/>
<circle cx="246.16" cy="141.77" r="0.7" fill="none" stroke="#9dd3df" stroke-width="0.45"/>
<circle cx="261.38" cy="115.04" r="0.7" fill="none" stroke="#9dd3df" stroke-width="0.45"/>
<circle cx="275.26" cy="139.34" r="0.7" fill="none" stroke="#9dd3df" stroke-width="0.45"/>
<circle cx="259.25" cy="111.4" r="0.7" fill="none" stroke="#9dd3df" stroke-width="0.45"/>
<circle cx="280.78" cy="135.5" r="0.7" fill="none" stroke="#9dd3df" stroke-width="0.45"/>
<circle cx="268.59" cy="143.65" r="0.7" fill="none" stroke="#9dd3df" stroke-width="0.45"/>
<circle cx="273.51" cy="131" r="0.7" fill="none" stroke="#9dd3df" stroke-width="0.45"/>
<circle cx="247.17" cy="113.91" r="0.7" fill="none" stroke="#9dd3df" stroke-width="0.45"/>
<circle cx="250.2" cy="130.24" r="0.7" fill="none" stroke="#9dd3df" stroke-width="0.45"/>
<circle cx="258.14" cy="143.73" r="0.7" fill="none" stroke="#9dd3df" stroke-width="0.45"/>
<circle cx="261.4" cy="122.27" r="0.7" fill="none" stroke="#9dd3df" stroke-width="0.45"/>
<circle cx="253.4" cy="116.49" r="0.7" fill="none" stroke="#9dd3df" stroke-width="0.45"/>
<circle cx="250.15" cy="113.56" r="0.7" fill="none" stroke="#9dd3df" stroke-width="0.45"/>
<circle cx="257.71" cy="134.91" r="0.7" fill="none" stroke="#9dd3df" stroke-width="0.45"/>
<circle cx="244.8" cy="127.35" r="0.7" fill="none" stroke="#9dd3df" stroke-width="0.45"/>
<circle cx="261.63" cy="136.87" r="0.7" fill="none" stroke="#9dd3df" stroke-width="0.45"/>
<circle cx="267.65" cy="124.48" r="0.7" fill="none" stroke="#9dd3df" stroke-width="0.45"/>
<circle cx="281.16" cy="129.94" r="0.7" fill="none" stroke="#9dd3df" stroke-width="0.45"/>
<circle cx="257.09" cy="122.45" r="0.7" fill="none" stroke="#9dd3df" stroke-width="0.45"/>
<circle cx="282.64" cy="128.47" r="0.7" fill="none" stroke="#9dd3df" stroke-width="0.45"/>
<circle cx="248.5" cy="114.39" r="0.7" fill="none" stroke="#9dd3df" stroke-width="0.45"/>
<circle cx="259.14" cy="133.21" r="0.7" fill="none" stroke="#9dd3df" stroke-width="0.45"/>
<circle cx="276.94" cy="126.79" r="0.7" fill="none" stroke="#9dd3df" stroke-width="0.45"/>
<circle cx="260.5" cy="132.43" r="0.7" fill="none" stroke="#9dd3df" stroke-width="0.45"/>
<circle cx="267.39" cy="134.59" r="0.7" fill="none" stroke="#9dd3df" stroke-width="0.45"/>
<circle cx="238.66" cy="142.89" r="0.6" fill="none" stroke="#a9d6e0" stroke-width="0.45"/>
<circle cx="222.11" cy="151.04" r="0.6" fill="none" stroke="#a9d6e0" stroke-width="0.45"/>
<circle cx="233.95" cy="147.93" r="0.6" fill="none" stroke="#a9d6e0" stroke-width="0.45"/>
<circle cx="227.04" cy="146.47" r="0.6" fill="none" stroke="#a9d6e0" stroke-width="0.45"/>
<circle cx="221.52" cy="151.54" r="0.6" fill="none" stroke="#a9d6e0" stroke-width="0.45"/>
<circle cx="226.64" cy="152.28" r="0.6" fill="none" stroke="#a9d6e0" stroke-width="0.45"/>
<circle cx="240.28" cy="138.45" r="0.6" fill="none" stroke="#a9d6e0" stroke-width="0.45"/>
<circle cx="237.23" cy="141.68" r="0.6" fill="none" stroke="#a9d6e0" stroke-width="0.45"/>
<circle cx="223.45" cy="151.08" r="0.6" fill="none" stroke="#a9d6e0" stroke-width="0.45"/>
<circle cx="222.87" cy="147.66" r="0.6" fill="none" stroke="#a9d6e0" stroke-width="0.45"/>
<circle cx="226.09" cy="148.94" r="0.6" fill="none" stroke="#a9d6e0" stroke-width="0.45"/>
<circle cx="240.41" cy="138.23" r="0.6" fill="none" stroke="#a9d6e0" stroke-width="0.45"/>
<circle cx="239.53" cy="144.74" r="0.6" fill="none" stroke="#a9d6e0" stroke-width="0.45"/>
<circle cx="232.94" cy="143.12" r="0.6" fill="none" stroke="#a9d6e0" stroke-width="0.45"/>
<circle cx="226.86" cy="148.39" r="0.6" fill="none" stroke="#a9d6e0" stroke-width="0.45"/>
<circle cx="231.88" cy="144.09" r="0.6" fill="none" stroke="#a9d6e0" stroke-width="0.45"/>
<circle cx="228.58" cy="149.84" r="0.6" fill="none" stroke="#a9d6e0" stroke-width="0.45"/>
<circle cx="230.18" cy="149.6" r="0.6" fill="none" stroke="#a9d6e0" stroke-width="0.45"/>
<circle cx="230.19" cy="142.83" r="0.6" fill="none" stroke="#a9d6e0" stroke-width="0.45"/>
<circle cx="222.99" cy="150.64" r="0.6" fill="none" stroke="#a9d6e0" stroke-width="0.45"/>
<circle cx="236.13" cy="143.32" r="0.6" fill="none" stroke="#a9d6e0" stroke-width="0.45"/>
<circle cx="239.62" cy="138.52" r="0.6" fill="none" stroke="#a9d6e0" stroke-width="0.45"/>
<circle cx="234.04" cy="150.3" r="0.6" fill="none" stroke="#a9d6e0" stroke-width="0.45"/>
<circle cx="231.12" cy="145.13" r="0.6" fill="none" stroke="#a9d6e0" stroke-width="0.45"/>
<circle cx="228.18" cy="148.73" r="0.6" fill="none" stroke="#a9d6e0" stroke-width="0.45"/>
<circle cx="224.07" cy="151.12" r="0.6" fill="none" stroke="#666" stroke-width="0.5"/>
<circle cx="222.39" cy="151.3" r="0.6" fill="none" stroke="#666" stroke-width="0.5"/>
<circle cx="224.26" cy="154.13" r="0.6" fill="none" stroke="#666" stroke-width="0.5"/>
<circle cx="220.17" cy="152.63" r="0.6" fill="none" stroke="#666" stroke-width="0.5"/>
<circle cx="222.35" cy="153.52" r="0.6" fill="none" stroke="#666" stroke-width="0.5"/>
<circle cx="223.65" cy="152.2" r="0.6" fill="none" stroke="#666" stroke-width="0.5"/>
<circle cx="224.66" cy="151.65" r="0.6" fill="none" stroke="#666" stroke-width="0.5"/>
<circle cx="220.68" cy="153.85" r="0.6" fill="none" stroke="#666" stroke-width="0.5"/>
<path d="M24.5,161.6 L24.5,114.5 M24.5,161.6 L71,161.6" stroke="#222" stroke-width="1" fill="none"/>
<path d="M24.5,110.5 L22.2,116 L26.8,116 Z M75,161.6 L69.5,159.3 L69.5,163.9 Z" fill="#222"/>
<text x="0" y="0" font-size="10.2" text-anchor="middle" font-weight="bold" fill="#222" stroke="#222" stroke-width="0.1" transform="translate(88.6,161.3) scale(0.622,1) translate(0,3.51)">UMAP1</text>
<text x="0" y="0" font-size="10.2" text-anchor="middle" font-weight="bold" fill="#222" stroke="#222" stroke-width="0.1" transform="translate(24.4,94.5) rotate(-90) scale(0.644,1) translate(0,3.51)">UMAP2</text>
<rect x="374.1" y="48.8" width="18.5" height="108.5" fill="#e8320f"/>
<path d="M350.2,19.5 L350.2,157.5 L395.3,157.5" fill="none" stroke="#666" stroke-width="1"/>
<path d="M347.2,157.5 L350.2,157.5" stroke="#666" stroke-width="1"/>
<text x="343.9" y="160.4" font-size="8.2" text-anchor="end" font-weight="normal" fill="#222" >0</text>
<path d="M347.2,123.7 L350.2,123.7" stroke="#666" stroke-width="1"/>
<text x="343.9" y="126.6" font-size="8.2" text-anchor="end" font-weight="normal" fill="#222" >15</text>
<path d="M347.2,90 L350.2,90" stroke="#666" stroke-width="1"/>
<text x="343.9" y="92.9" font-size="8.2" text-anchor="end" font-weight="normal" fill="#222" >30</text>
<path d="M347.2,56.1 L350.2,56.1" stroke="#666" stroke-width="1"/>
<text x="343.9" y="59" font-size="8.2" text-anchor="end" font-weight="normal" fill="#222" >45</text>
<path d="M347.2,22.3 L350.2,22.3" stroke="#666" stroke-width="1"/>
<text x="343.9" y="25.2" font-size="8.2" text-anchor="end" font-weight="normal" fill="#222" >60</text>
<path d="M362.3,157.5 L362.3,160.5" stroke="#666" stroke-width="1"/>
<text x="362.3" y="171.3" font-size="8.2" text-anchor="middle" font-weight="normal" fill="#222" >MF</text>
<path d="M382.8,157.5 L382.8,160.5" stroke="#666" stroke-width="1"/>
<text x="382.8" y="171.3" font-size="8.2" text-anchor="middle" font-weight="normal" fill="#222" >SS</text>
<text x="0" y="0" font-size="9.4" text-anchor="middle" font-weight="normal" fill="#222" stroke="#222" stroke-width="0.3" transform="translate(325,88.5) rotate(-90) scale(0.733,1) translate(0,3.23)">% of cluster 7 among CD4<tspan font-size="5.5" dy="-3">+</tspan><tspan dy="3"> T cells</tspan></text>
<rect x="461" y="22.3" width="18.5" height="135.2" fill="#d4d4d4"/>
<rect x="481.2" y="88.2" width="18.8" height="69.3" fill="#e8320f"/>
<path d="M457.4,19.5 L457.4,157.5 L502,157.5" fill="none" stroke="#666" stroke-width="1"/>
<path d="M454.4,157.5 L457.4,157.5" stroke="#666" stroke-width="1"/>
<text x="451.1" y="160.4" font-size="8.2" text-anchor="end" font-weight="normal" fill="#222" >0</text>
<path d="M454.4,123.7 L457.4,123.7" stroke="#666" stroke-width="1"/>
<text x="451.1" y="126.6" font-size="8.2" text-anchor="end" font-weight="normal" fill="#222" >25</text>
<path d="M454.4,90 L457.4,90" stroke="#666" stroke-width="1"/>
<text x="451.1" y="92.9" font-size="8.2" text-anchor="end" font-weight="normal" fill="#222" >50</text>
<path d="M454.4,56.1 L457.4,56.1" stroke="#666" stroke-width="1"/>
<text x="451.1" y="59" font-size="8.2" text-anchor="end" font-weight="normal" fill="#222" >75</text>
<path d="M454.4,22.3 L457.4,22.3" stroke="#666" stroke-width="1"/>
<text x="451.1" y="25.2" font-size="8.2" text-anchor="end" font-weight="normal" fill="#222" >100</text>
<path d="M470.3,157.5 L470.3,160.5" stroke="#666" stroke-width="1"/>
<text x="470.3" y="171.3" font-size="8.2" text-anchor="middle" font-weight="normal" fill="#222" >MF</text>
<path d="M490.6,157.5 L490.6,160.5" stroke="#666" stroke-width="1"/>
<text x="490.6" y="171.3" font-size="8.2" text-anchor="middle" font-weight="normal" fill="#222" >SS</text>
<text x="0" y="0" font-size="9.4" text-anchor="middle" font-weight="normal" fill="#222" stroke="#222" stroke-width="0.3" transform="translate(430.6,88.3) rotate(-90) scale(0.736,1) translate(0,3.23)">% of cluster 1 among CD4<tspan font-size="5.5" dy="-3">+</tspan><tspan dy="3"> T cells</tspan></text>
<rect x="81.2" y="276.3" width="19.4" height="23.4" fill="#e8320f"/>
<path d="M56.6,201.5 L56.6,299.7 L103.4,299.7" fill="none" stroke="#666" stroke-width="1"/>
<path d="M53.6,299.7 L56.6,299.7" stroke="#666" stroke-width="1"/>
<text x="50.1" y="302.6" font-size="8.2" text-anchor="end" font-weight="normal" fill="#222" >0.00</text>
<path d="M53.6,275.85 L56.6,275.85" stroke="#666" stroke-width="1"/>
<text x="50.1" y="278.75" font-size="8.2" text-anchor="end" font-weight="normal" fill="#222" >0.25</text>
<path d="M53.6,252 L56.6,252" stroke="#666" stroke-width="1"/>
<text x="50.1" y="254.9" font-size="8.2" text-anchor="end" font-weight="normal" fill="#222" >0.50</text>
<path d="M53.6,228.15 L56.6,228.15" stroke="#666" stroke-width="1"/>
<text x="50.1" y="231.05" font-size="8.2" text-anchor="end" font-weight="normal" fill="#222" >0.75</text>
<path d="M53.6,204.3 L56.6,204.3" stroke="#666" stroke-width="1"/>
<text x="50.1" y="207.2" font-size="8.2" text-anchor="end" font-weight="normal" fill="#222" >1.00</text>
<path d="M69,299.7 L69,302.5" stroke="#666" stroke-width="1"/>
<text x="69" y="313.7" font-size="8.2" text-anchor="middle" font-weight="normal" fill="#222" >MF</text>
<path d="M91.1,299.7 L91.1,302.5" stroke="#666" stroke-width="1"/>
<text x="91.1" y="313.7" font-size="8.2" text-anchor="middle" font-weight="normal" fill="#222" >SS</text>
<path d="M91.1,264.5 L91.1,289.3 M85.8,264.5 L96.4,264.5 M86.59,289.3 L95.6,289.3" stroke="#222" stroke-width="1"/>
<circle cx="89.9" cy="230.3" r="2.1" fill="none" stroke="#111" stroke-width="0.95"/>
<circle cx="90.2" cy="274.5" r="2.1" fill="none" stroke="#111" stroke-width="0.95"/>
<circle cx="91.6" cy="285" r="2.1" fill="none" stroke="#111" stroke-width="0.95"/>
<circle cx="89.9" cy="296.2" r="2.1" fill="none" stroke="#111" stroke-width="0.95"/>
<circle cx="67.5" cy="298.3" r="1.9" fill="none" stroke="#111" stroke-width="0.9"/>
<circle cx="70.5" cy="297.5" r="1.9" fill="none" stroke="#111" stroke-width="0.9"/>
<circle cx="69" cy="299" r="1.9" fill="#333" stroke="#111" stroke-width="0.9"/>
<path d="M69,215.3 L91.6,215.3" stroke="#222" stroke-width="1"/>
<text x="80.3" y="214.1" font-size="8.5" text-anchor="middle" font-weight="normal" fill="#222" >*</text>
<text x="0" y="0" font-size="9.0" text-anchor="middle" font-weight="normal" fill="#222" stroke="#222" stroke-width="0.15" transform="translate(25.4,248.3) rotate(-90) scale(0.761,1) translate(0,3.1)">CD4<tspan font-size="5.5" dy="-3">+</tspan><tspan dy="3"> T cell monoclonality</tspan></text>
<rect x="182" y="294.5" width="19.1" height="5.2" fill="#e8320f"/>
<path d="M157.3,201.5 L157.3,299.7 L203.7,299.7" fill="none" stroke="#666" stroke-width="1"/>
<path d="M154.3,299.7 L157.3,299.7" stroke="#666" stroke-width="1"/>
<text x="150.8" y="302.6" font-size="8.2" text-anchor="end" font-weight="normal" fill="#222" >0.00</text>
<path d="M154.3,275.85 L157.3,275.85" stroke="#666" stroke-width="1"/>
<text x="150.8" y="278.75" font-size="8.2" text-anchor="end" font-weight="normal" fill="#222" >0.25</text>
<path d="M154.3,252 L157.3,252" stroke="#666" stroke-width="1"/>
<text x="150.8" y="254.9" font-size="8.2" text-anchor="end" font-weight="normal" fill="#222" >0.50</text>
<path d="M154.3,228.15 L157.3,228.15" stroke="#666" stroke-width="1"/>
<text x="150.8" y="231.05" font-size="8.2" text-anchor="end" font-weight="normal" fill="#222" >0.75</text>
<path d="M154.3,204.3 L157.3,204.3" stroke="#666" stroke-width="1"/>
<text x="150.8" y="207.2" font-size="8.2" text-anchor="end" font-weight="normal" fill="#222" >1.00</text>
<path d="M170,299.7 L170,302.5" stroke="#666" stroke-width="1"/>
<text x="170" y="313.7" font-size="8.2" text-anchor="middle" font-weight="normal" fill="#222" >MF</text>
<path d="M191.6,299.7 L191.6,302.5" stroke="#666" stroke-width="1"/>
<text x="191.6" y="313.7" font-size="8.2" text-anchor="middle" font-weight="normal" fill="#222" >SS</text>
<path d="M191.6,290.1 L191.6,298 M186.4,290.1 L196.8,290.1 M187.18,298 L196.02,298" stroke="#222" stroke-width="1"/>
<circle cx="190.2" cy="277.6" r="2.1" fill="none" stroke="#111" stroke-width="0.95"/>
<circle cx="190.5" cy="298.3" r="2.1" fill="none" stroke="#111" stroke-width="0.95"/>
<circle cx="193.8" cy="298.8" r="2.1" fill="none" stroke="#111" stroke-width="0.95"/>
<circle cx="170" cy="295.3" r="1.9" fill="none" stroke="#111" stroke-width="0.9"/>
<circle cx="169" cy="299.7" r="1.9" fill="none" stroke="#111" stroke-width="0.9"/>
<path d="M170,251.1 L192,251.1" stroke="#222" stroke-width="1"/>
<text x="181" y="248.5" font-size="8.6" text-anchor="middle" font-weight="normal" fill="#222" >ns</text>
<text x="0" y="0" font-size="9.0" text-anchor="middle" font-weight="normal" fill="#222" stroke="#222" stroke-width="0.15" transform="translate(125,248.3) rotate(-90) scale(0.761,1) translate(0,3.1)">CD8<tspan font-size="5.5" dy="-3">+</tspan><tspan dy="3"> T cell monoclonality</tspan></text>
<path d="M267.3,202 L267.3,299.8" stroke="#666" stroke-width="1"/>
<path d="M267.3,299.8 L458,299.8" stroke="#666" stroke-width="0.6"/>
<path d="M264.3,299.8 L267.3,299.8" stroke="#666" stroke-width="1"/>
<text x="261.8" y="302.7" font-size="8.4" text-anchor="end" font-weight="normal" fill="#222" >0</text>
<path d="M264.3,276.05 L267.3,276.05" stroke="#666" stroke-width="1"/>
<text x="261.8" y="278.95" font-size="8.4" text-anchor="end" font-weight="normal" fill="#222" >40</text>
<path d="M264.3,252.3 L267.3,252.3" stroke="#666" stroke-width="1"/>
<text x="261.8" y="255.2" font-size="8.4" text-anchor="end" font-weight="normal" fill="#222" >80</text>
<path d="M264.3,228.55 L267.3,228.55" stroke="#666" stroke-width="1"/>
<text x="261.8" y="231.45" font-size="8.4" text-anchor="end" font-weight="normal" fill="#222" >120</text>
<path d="M264.3,204.8 L267.3,204.8" stroke="#666" stroke-width="1"/>
<text x="261.8" y="207.7" font-size="8.4" text-anchor="end" font-weight="normal" fill="#222" >160</text>
<path d="M275.8,299.8 L275.8,302.6" stroke="#666" stroke-width="1"/>
<text x="275.8" y="314" font-size="8.2" text-anchor="middle" font-weight="normal" fill="#222" >−8</text>
<path d="M319.3,299.8 L319.3,302.6" stroke="#666" stroke-width="1"/>
<text x="319.3" y="314" font-size="8.2" text-anchor="middle" font-weight="normal" fill="#222" >−4</text>
<path d="M362.8,299.8 L362.8,302.6" stroke="#666" stroke-width="1"/>
<text x="362.8" y="314" font-size="8.2" text-anchor="middle" font-weight="normal" fill="#222" >0</text>
<path d="M406.3,299.8 L406.3,302.6" stroke="#666" stroke-width="1"/>
<text x="406.3" y="314" font-size="8.2" text-anchor="middle" font-weight="normal" fill="#222" >4</text>
<path d="M449.8,299.8 L449.8,302.6" stroke="#666" stroke-width="1"/>
<text x="449.8" y="314" font-size="8.2" text-anchor="middle" font-weight="normal" fill="#222" >8</text>
<path d="M267.3,298.4 L458,298.4" stroke="#666" stroke-width="1.7" stroke-dasharray="2.6,1.7"/>
<path d="M353.7,206 L353.7,299.8 M372.1,206 L372.1,299.8" stroke="#444" stroke-width="1.2" stroke-dasharray="3,2"/>
<text x="310.5" y="196.8" font-size="8.4" text-anchor="middle" font-weight="normal" fill="#222" >Cluster 1</text>
<text x="417.5" y="196.8" font-size="8.4" text-anchor="middle" font-weight="normal" fill="#222" >Cluster 7</text>
<circle cx="356" cy="291.7" r="2" fill="#d9d9d9"/>
<circle cx="369.4" cy="278.3" r="2" fill="#d9d9d9"/>
<circle cx="369.4" cy="289.7" r="2" fill="#d9d9d9"/>
<circle cx="298.5" cy="273.4" r="2.0" fill="#dd2a1b"/>
<circle cx="315.8" cy="268" r="2.0" fill="#dd2a1b"/>
<circle cx="319.5" cy="262.8" r="2.0" fill="#dd2a1b"/>
<circle cx="325.9" cy="258.7" r="2.0" fill="#dd2a1b"/>
<circle cx="347.8" cy="235.7" r="2.0" fill="#dd2a1b"/>
<circle cx="337.1" cy="283.6" r="2.0" fill="#dd2a1b"/>
<circle cx="347.2" cy="282.3" r="2.0" fill="#dd2a1b"/>
<circle cx="343.8" cy="286.3" r="2.0" fill="#dd2a1b"/>
<circle cx="345.2" cy="288.4" r="2.0" fill="#dd2a1b"/>
<circle cx="341.2" cy="292.4" r="2.0" fill="#dd2a1b"/>
<circle cx="344.5" cy="293" r="2.0" fill="#dd2a1b"/>
<circle cx="349.9" cy="289.7" r="2.0" fill="#dd2a1b"/>
<circle cx="351.2" cy="293" r="2.0" fill="#dd2a1b"/>
<circle cx="352.6" cy="295.8" r="2.0" fill="#dd2a1b"/>
<circle cx="350.6" cy="297.8" r="2.0" fill="#dd2a1b"/>
<circle cx="354" cy="297.8" r="2.0" fill="#dd2a1b"/>
<circle cx="373" cy="282.3" r="2.0" fill="#5068b4"/>
<circle cx="375.9" cy="283.4" r="2.0" fill="#5068b4"/>
<circle cx="374.4" cy="284.4" r="2.0" fill="#5068b4"/>
<circle cx="373.7" cy="270.7" r="2.0" fill="#5068b4"/>
<circle cx="405.8" cy="211.7" r="2.0" fill="#5068b4"/>
<circle cx="376" cy="231.9" r="2.0" fill="#5068b4"/>
<circle cx="382.7" cy="234.2" r="2.0" fill="#5068b4"/>
<circle cx="389" cy="234.8" r="2.0" fill="#5068b4"/>
<circle cx="400" cy="235.7" r="2.0" fill="#5068b4"/>
<circle cx="402.9" cy="233.6" r="2.0" fill="#5068b4"/>
<circle cx="404.9" cy="238.6" r="2.0" fill="#5068b4"/>
<circle cx="380.4" cy="245.8" r="2.0" fill="#5068b4"/>
<circle cx="396.2" cy="248.4" r="2.0" fill="#5068b4"/>
<circle cx="379.8" cy="256.4" r="2.0" fill="#5068b4"/>
<circle cx="374.6" cy="258.7" r="2.0" fill="#5068b4"/>
<circle cx="379.5" cy="256.7" r="2.0" fill="#5068b4"/>
<circle cx="379.8" cy="268" r="2.0" fill="#5068b4"/>
<circle cx="374" cy="271.7" r="2.0" fill="#5068b4"/>
<circle cx="375.2" cy="273.7" r="2.0" fill="#5068b4"/>
<circle cx="373.5" cy="270.9" r="2.0" fill="#5068b4"/>
<circle cx="374.8" cy="272.9" r="2.0" fill="#5068b4"/>
<circle cx="374.1" cy="282.3" r="2.0" fill="#5068b4"/>
<circle cx="375.5" cy="283" r="2.0" fill="#5068b4"/>
<text x="278" y="282.5" font-size="8.2" text-anchor="start" font-weight="normal" fill="#222" >CD7</text>
<text x="322.4" y="268" font-size="8.2" text-anchor="start" font-weight="normal" fill="#222" >MYC</text>
<text x="312.9" y="246.5" font-size="8.2" text-anchor="start" font-weight="normal" fill="#222" >HLA − A</text>
<text x="316.6" y="230.6" font-size="8.2" text-anchor="start" font-weight="normal" fill="#222" >S100A10</text>
<text x="316.5" y="295.3" font-size="8.2" text-anchor="start" font-weight="normal" fill="#222" >CD5</text>
<text x="379" y="216.2" font-size="8.2" text-anchor="start" font-weight="normal" fill="#222" >LAG3</text>
<text x="361.6" y="227.7" font-size="8.2" text-anchor="start" font-weight="normal" fill="#222" >CST7</text>
<text x="408.4" y="230" font-size="8.2" text-anchor="start" font-weight="normal" fill="#222" >PLS3</text>
<text x="353" y="244.4" font-size="8.2" text-anchor="start" font-weight="normal" fill="#222" >KIR2DL1</text>
<text x="407.8" y="244.4" font-size="8.2" text-anchor="start" font-weight="normal" fill="#222" >CX3CR1</text>
<text x="388.5" y="259.4" font-size="8.2" text-anchor="start" font-weight="normal" fill="#222" >TIGIT</text>
<text x="378.4" y="279.6" font-size="8.2" text-anchor="start" font-weight="normal" fill="#222" >LGALS1</text>
<path d="M374.6,233.4 L358.5,230" stroke="#111" stroke-width="0.8"/>
<path d="M355.8,229.4 L360.2,227.6 L359.4,232 Z" fill="#111"/>
<text x="0" y="0" font-size="9.0" text-anchor="middle" font-weight="normal" fill="#222" stroke="#222" stroke-width="0.15" transform="translate(235.4,250.5) rotate(-90) scale(0.738,1) translate(0,3.1)">Adjusted <tspan font-style="italic">P</tspan>-value (−log<tspan font-size="5.5" dy="2">10</tspan><tspan dy="-2">)</tspan></text>
<text x="0" y="0" font-size="9.4" text-anchor="middle" font-weight="normal" fill="#222" stroke="#222" stroke-width="0.15" transform="translate(363.1,323.6) scale(0.722,1) translate(0,3.23)">Fold change (log<tspan font-size="5.5" dy="2">2</tspan><tspan dy="-2">)</tspan></text>
<text x="121.8" y="354.3" font-size="9.8" text-anchor="middle" font-weight="normal" fill="#222" >Differentiation gene sets</text>
<path d="M78.3,360.4 L78.3,374.2" stroke="#555" stroke-width="0.8"/>
<rect x="71.9" y="363.5" width="12.8" height="7.7" fill="#b8dde8"/>
<path d="M71.9,367.2 L84.7,367.2" stroke="#333" stroke-width="1"/>
<text x="87.8" y="370" font-size="8" text-anchor="start" font-weight="normal" fill="#222" >Cluster 1</text>
<path d="M130.85,360.4 L130.85,374.2" stroke="#555" stroke-width="0.8"/>
<rect x="124.7" y="363.5" width="12.3" height="7.7" fill="#b0479a"/>
<path d="M124.7,367.2 L137,367.2" stroke="#333" stroke-width="1"/>
<text x="140.2" y="370" font-size="8" text-anchor="start" font-weight="normal" fill="#222" >Cluster 7</text>
<path d="M56.3,359.9 L56.3,493 L186,493" fill="none" stroke="#666" stroke-width="1"/>
<path d="M53.3,493 L56.3,493" stroke="#666" stroke-width="1"/>
<text x="49.7" y="495.9" font-size="8.2" text-anchor="end" font-weight="normal" fill="#222" >0.00</text>
<path d="M53.3,460.43 L56.3,460.43" stroke="#666" stroke-width="1"/>
<text x="49.7" y="463.32" font-size="8.2" text-anchor="end" font-weight="normal" fill="#222" >0.25</text>
<path d="M53.3,427.85 L56.3,427.85" stroke="#666" stroke-width="1"/>
<text x="49.7" y="430.75" font-size="8.2" text-anchor="end" font-weight="normal" fill="#222" >0.50</text>
<path d="M53.3,395.27 L56.3,395.27" stroke="#666" stroke-width="1"/>
<text x="49.7" y="398.17" font-size="8.2" text-anchor="end" font-weight="normal" fill="#222" >0.75</text>
<path d="M53.3,362.7 L56.3,362.7" stroke="#666" stroke-width="1"/>
<text x="49.7" y="365.6" font-size="8.2" text-anchor="end" font-weight="normal" fill="#222" >1.00</text>
<path d="M72.6,403.7 L72.6,471.7" stroke="#444" stroke-width="1"/>
<rect x="65.2" y="427.7" width="14.8" height="20.6" fill="#b8dde8"/>
<path d="M65.2,436 L80,436" stroke="#333" stroke-width="1.1"/>
<path d="M88.9,413.8 L88.9,463" stroke="#444" stroke-width="1"/>
<rect x="81.5" y="428.3" width="14.8" height="14.2" fill="#b0479a"/>
<path d="M81.5,433.8 L96.3,433.8" stroke="#333" stroke-width="1.1"/>
<path d="M113.4,404.6 L113.4,472.3" stroke="#444" stroke-width="1"/>
<rect x="106.2" y="429.2" width="14.4" height="22.2" fill="#b8dde8"/>
<path d="M106.2,439 L120.6,439" stroke="#333" stroke-width="1.1"/>
<path d="M129.75,401 L129.75,464" stroke="#444" stroke-width="1"/>
<rect x="122.5" y="420" width="14.5" height="18.5" fill="#b0479a"/>
<path d="M122.5,427.7 L137,427.7" stroke="#333" stroke-width="1.1"/>
<path d="M154.15,406.8 L154.15,487.7" stroke="#444" stroke-width="1"/>
<rect x="146.8" y="437.8" width="14.7" height="20.7" fill="#b8dde8"/>
<path d="M146.8,449.2 L161.5,449.2" stroke="#333" stroke-width="1.1"/>
<path d="M170.25,406.8 L170.25,473" stroke="#444" stroke-width="1"/>
<rect x="163" y="431.4" width="14.5" height="17.2" fill="#b0479a"/>
<path d="M163,440 L177.5,440" stroke="#333" stroke-width="1.1"/>
<path d="M80.6,493 L80.6,495.5" stroke="#666" stroke-width="1"/>
<path d="M121.6,493 L121.6,495.5" stroke="#666" stroke-width="1"/>
<path d="M163,493 L163,495.5" stroke="#666" stroke-width="1"/>
<text x="80.6" y="507" font-size="8.1" text-anchor="middle" font-weight="normal" fill="#222" >Th1</text>
<text x="121.6" y="507" font-size="8.1" text-anchor="middle" font-weight="normal" fill="#222" >Th2</text>
<text x="163" y="507" font-size="8.1" text-anchor="middle" font-weight="normal" fill="#222" >Central</text>
<text x="163" y="516.5" font-size="8.1" text-anchor="middle" font-weight="normal" fill="#222" >CD4 memory</text>
<path d="M72.1,394 L89.1,394 M112.5,391.7 L130.5,391.7 M153.7,395.2 L171,395.2" stroke="#222" stroke-width="1"/>
<text x="80.6" y="391.8" font-size="8.2" text-anchor="middle" font-weight="normal" fill="#222" >ns</text>
<text x="121.5" y="391.5" font-size="7.4" text-anchor="middle" font-weight="normal" fill="#222" >****</text>
<text x="162.4" y="395" font-size="7.4" text-anchor="middle" font-weight="normal" fill="#222" >****</text>
<text x="0" y="0" font-size="8.4" text-anchor="middle" font-weight="normal" fill="#222" stroke="#222" stroke-width="0.12" transform="translate(24.5,428.5) rotate(-90) scale(0.883,1) translate(0,2.89)">Enrichment score</text>
<rect x="56.5" y="535" width="129.8" height="129.2" fill="none" stroke="#666" stroke-width="1"/>
<path d="M76,541.5 L88.5,551.5 L101,561.5 L111,571 L119,580.5 L124,589 L126,595" stroke="#e2e2e2" stroke-width="6.5" fill="none" stroke-linecap="round" stroke-linejoin="round"/>
<circle cx="84.37" cy="549.5" r="0.8" fill="#c4c4c4"/>
<circle cx="99.54" cy="563.4" r="0.8" fill="#c4c4c4"/>
<circle cx="86.88" cy="553.09" r="0.8" fill="#c4c4c4"/>
<circle cx="123.49" cy="586.04" r="0.8" fill="#c4c4c4"/>
<circle cx="93.94" cy="557.55" r="0.8" fill="#c4c4c4"/>
<circle cx="125.65" cy="591.38" r="0.8" fill="#c4c4c4"/>
<circle cx="113.57" cy="579.83" r="0.8" fill="#c4c4c4"/>
<circle cx="117.8" cy="578.02" r="0.8" fill="#c4c4c4"/>
<circle cx="111.47" cy="573.82" r="0.8" fill="#c4c4c4"/>
<circle cx="84.55" cy="545.93" r="0.8" fill="#c4c4c4"/>
<circle cx="123.88" cy="592.26" r="0.8" fill="#c4c4c4"/>
<circle cx="124.04" cy="582.89" r="0.8" fill="#c4c4c4"/>
<circle cx="95.89" cy="552.31" r="0.8" fill="#c4c4c4"/>
<circle cx="124.66" cy="593.93" r="0.8" fill="#c4c4c4"/>
<circle cx="123.39" cy="592.8" r="0.8" fill="#c4c4c4"/>
<circle cx="111.44" cy="575.9" r="0.8" fill="#c4c4c4"/>
<circle cx="104.9" cy="566.02" r="0.8" fill="#c4c4c4"/>
<circle cx="108.5" cy="570.06" r="0.8" fill="#c4c4c4"/>
<circle cx="110.75" cy="570.44" r="0.8" fill="#c4c4c4"/>
<circle cx="111.99" cy="575.43" r="0.8" fill="#c4c4c4"/>
<circle cx="122.81" cy="584.79" r="0.8" fill="#c4c4c4"/>
<circle cx="125.29" cy="590.68" r="0.8" fill="#c4c4c4"/>
<circle cx="98.91" cy="567.82" r="0.8" fill="#c4c4c4"/>
<circle cx="87.5" cy="548.71" r="0.8" fill="#c4c4c4"/>
<circle cx="113.33" cy="577.06" r="0.8" fill="#c4c4c4"/>
<circle cx="113.62" cy="573.42" r="0.8" fill="#c4c4c4"/>
<circle cx="98.62" cy="561.47" r="0.8" fill="#c4c4c4"/>
<circle cx="85.13" cy="549.15" r="0.8" fill="#c4c4c4"/>
<circle cx="98.53" cy="557.04" r="0.8" fill="#c4c4c4"/>
<circle cx="127.33" cy="592.49" r="0.8" fill="#c4c4c4"/>
<circle cx="122.57" cy="579.69" r="0.8" fill="#c4c4c4"/>
<circle cx="114.3" cy="581.27" r="0.8" fill="#c4c4c4"/>
<circle cx="111.45" cy="574.84" r="0.8" fill="#c4c4c4"/>
<circle cx="104.34" cy="561.23" r="0.8" fill="#c4c4c4"/>
<circle cx="117.41" cy="575.81" r="0.8" fill="#c4c4c4"/>
<circle cx="90.87" cy="560.46" r="0.8" fill="#c4c4c4"/>
<circle cx="125.4" cy="594.11" r="0.8" fill="#c4c4c4"/>
<circle cx="113.46" cy="574.11" r="0.8" fill="#c4c4c4"/>
<circle cx="92.12" cy="552.99" r="0.8" fill="#c4c4c4"/>
<circle cx="124.09" cy="589.11" r="0.8" fill="#c4c4c4"/>
<circle cx="120.81" cy="579.6" r="0.8" fill="#c4c4c4"/>
<circle cx="130.27" cy="593.26" r="0.8" fill="#c4c4c4"/>
<circle cx="119.37" cy="581.07" r="0.8" fill="#c4c4c4"/>
<circle cx="79.77" cy="544.35" r="0.8" fill="#c4c4c4"/>
<circle cx="105.3" cy="568.17" r="0.8" fill="#c4c4c4"/>
<circle cx="114.57" cy="574.67" r="0.8" fill="#c4c4c4"/>
<circle cx="79.22" cy="538.83" r="0.8" fill="#c4c4c4"/>
<circle cx="113.46" cy="577.65" r="0.8" fill="#c4c4c4"/>
<circle cx="122.46" cy="589.29" r="0.8" fill="#c4c4c4"/>
<circle cx="89.37" cy="552.35" r="0.8" fill="#c4c4c4"/>
<circle cx="120.44" cy="591.02" r="0.8" fill="#c4c4c4"/>
<circle cx="94.16" cy="559.92" r="0.8" fill="#c4c4c4"/>
<circle cx="126.4" cy="590.09" r="0.8" fill="#c4c4c4"/>
<circle cx="125.78" cy="593.73" r="0.8" fill="#c4c4c4"/>
<circle cx="105.49" cy="565.4" r="0.8" fill="#c4c4c4"/>
<circle cx="124.58" cy="588.46" r="0.8" fill="#c4c4c4"/>
<circle cx="123.12" cy="595.21" r="0.8" fill="#c4c4c4"/>
<circle cx="94.82" cy="559.54" r="0.8" fill="#c4c4c4"/>
<circle cx="88.43" cy="548.71" r="0.8" fill="#c4c4c4"/>
<circle cx="123.13" cy="594.1" r="0.8" fill="#c4c4c4"/>
<circle cx="123.01" cy="595.75" r="0.8" fill="#c4c4c4"/>
<circle cx="118.46" cy="579.67" r="0.8" fill="#c4c4c4"/>
<circle cx="88.35" cy="550.84" r="0.8" fill="#c4c4c4"/>
<circle cx="104.44" cy="560.97" r="0.8" fill="#c4c4c4"/>
<circle cx="124.84" cy="591.39" r="0.8" fill="#c4c4c4"/>
<circle cx="87.1" cy="551.94" r="0.8" fill="#c4c4c4"/>
<circle cx="89.3" cy="547.84" r="0.8" fill="#c4c4c4"/>
<circle cx="89.31" cy="549.47" r="0.8" fill="#c4c4c4"/>
<circle cx="113.06" cy="569.54" r="0.8" fill="#c4c4c4"/>
<circle cx="106.64" cy="565.1" r="0.8" fill="#c4c4c4"/>
<circle cx="112.51" cy="573.97" r="0.8" fill="#c4c4c4"/>
<circle cx="106.31" cy="566.64" r="0.8" fill="#c4c4c4"/>
<circle cx="93.71" cy="555.76" r="0.8" fill="#c4c4c4"/>
<circle cx="125.13" cy="587.69" r="0.8" fill="#c4c4c4"/>
<circle cx="92.8" cy="557.62" r="0.8" fill="#c4c4c4"/>
<circle cx="103.3" cy="565.59" r="0.8" fill="#c4c4c4"/>
<circle cx="101.03" cy="561.73" r="0.8" fill="#c4c4c4"/>
<circle cx="120.44" cy="579.88" r="0.8" fill="#c4c4c4"/>
<circle cx="126.38" cy="588.26" r="0.8" fill="#c4c4c4"/>
<circle cx="124.36" cy="592.49" r="0.8" fill="#c4c4c4"/>
<circle cx="115.73" cy="577.16" r="0.8" fill="#c4c4c4"/>
<circle cx="81.69" cy="547.02" r="0.8" fill="#c4c4c4"/>
<circle cx="99.19" cy="563.51" r="0.8" fill="#c4c4c4"/>
<circle cx="105.25" cy="567.87" r="0.8" fill="#c4c4c4"/>
<circle cx="102.36" cy="555.99" r="0.8" fill="#c4c4c4"/>
<circle cx="94.58" cy="555.85" r="0.8" fill="#c4c4c4"/>
<circle cx="88.02" cy="550.26" r="0.8" fill="#c4c4c4"/>
<circle cx="123.18" cy="592.34" r="0.8" fill="#c4c4c4"/>
<circle cx="121.22" cy="581.91" r="0.8" fill="#c4c4c4"/>
<circle cx="79.05" cy="544.67" r="0.8" fill="#c4c4c4"/>
<circle cx="84.04" cy="550.27" r="0.8" fill="#c4c4c4"/>
<circle cx="89.37" cy="548.86" r="0.8" fill="#c4c4c4"/>
<circle cx="115.14" cy="579.71" r="0.8" fill="#c4c4c4"/>
<circle cx="100.47" cy="562.29" r="0.8" fill="#c4c4c4"/>
<circle cx="83.79" cy="547.52" r="0.8" fill="#c4c4c4"/>
<circle cx="114.18" cy="569.36" r="0.8" fill="#c4c4c4"/>
<circle cx="89.32" cy="550.7" r="0.8" fill="#c4c4c4"/>
<circle cx="120.31" cy="578.87" r="0.8" fill="#c4c4c4"/>
<circle cx="82.76" cy="547.11" r="0.8" fill="#c4c4c4"/>
<circle cx="92.77" cy="554.78" r="0.8" fill="#c4c4c4"/>
<circle cx="104.7" cy="565.43" r="0.8" fill="#c4c4c4"/>
<circle cx="118.85" cy="582.01" r="0.8" fill="#c4c4c4"/>
<circle cx="126.76" cy="594.5" r="0.8" fill="#c4c4c4"/>
<circle cx="117.84" cy="581.46" r="0.8" fill="#c4c4c4"/>
<circle cx="94.4" cy="552.73" r="0.8" fill="#c4c4c4"/>
<circle cx="105.49" cy="568.47" r="0.8" fill="#c4c4c4"/>
<circle cx="86.13" cy="552.79" r="0.8" fill="#c4c4c4"/>
<circle cx="124.77" cy="595.03" r="0.8" fill="#c4c4c4"/>
<circle cx="123.04" cy="592.78" r="0.8" fill="#c4c4c4"/>
<circle cx="109.26" cy="571.45" r="0.8" fill="#c4c4c4"/>
<circle cx="91.33" cy="552.17" r="0.8" fill="#c4c4c4"/>
<circle cx="125.21" cy="586.6" r="0.8" fill="#c4c4c4"/>
<circle cx="95.59" cy="561.9" r="0.8" fill="#c4c4c4"/>
<circle cx="110.53" cy="568.31" r="0.8" fill="#c4c4c4"/>
<circle cx="87.31" cy="549.09" r="0.8" fill="#c4c4c4"/>
<circle cx="119.47" cy="581.53" r="0.8" fill="#c4c4c4"/>
<circle cx="124.5" cy="579.38" r="0.8" fill="#c4c4c4"/>
<circle cx="81.16" cy="542" r="0.8" fill="#c4c4c4"/>
<circle cx="120.17" cy="583.15" r="0.8" fill="#c4c4c4"/>
<circle cx="100.79" cy="560.02" r="0.8" fill="#c4c4c4"/>
<circle cx="81.94" cy="542.34" r="0.8" fill="#c4c4c4"/>
<circle cx="103.09" cy="561.06" r="0.8" fill="#c4c4c4"/>
<circle cx="121.87" cy="580.79" r="0.8" fill="#c4c4c4"/>
<circle cx="95.16" cy="560.13" r="0.8" fill="#c4c4c4"/>
<circle cx="125.9" cy="594.16" r="0.8" fill="#c4c4c4"/>
<circle cx="82.82" cy="547.04" r="0.8" fill="#c4c4c4"/>
<circle cx="119" cy="584.58" r="0.8" fill="#c4c4c4"/>
<circle cx="89.12" cy="548.99" r="0.8" fill="#c4c4c4"/>
<circle cx="124.68" cy="590.32" r="0.8" fill="#c4c4c4"/>
<circle cx="104.57" cy="563.42" r="0.8" fill="#c4c4c4"/>
<circle cx="118.59" cy="581.07" r="0.8" fill="#c4c4c4"/>
<circle cx="102.21" cy="562.67" r="0.8" fill="#c4c4c4"/>
<circle cx="122.67" cy="591.1" r="0.8" fill="#c4c4c4"/>
<circle cx="124.95" cy="591.71" r="0.8" fill="#c4c4c4"/>
<circle cx="120.91" cy="587.57" r="0.8" fill="#c4c4c4"/>
<circle cx="127.72" cy="593.2" r="0.8" fill="#c4c4c4"/>
<circle cx="115.86" cy="580.95" r="0.8" fill="#c4c4c4"/>
<circle cx="91.31" cy="552.58" r="0.8" fill="#c4c4c4"/>
<circle cx="113.42" cy="570.79" r="0.8" fill="#c4c4c4"/>
<circle cx="103.28" cy="563.96" r="0.8" fill="#c4c4c4"/>
<circle cx="112.52" cy="570.74" r="0.8" fill="#c4c4c4"/>
<circle cx="97.32" cy="557.5" r="0.8" fill="#c4c4c4"/>
<circle cx="112.89" cy="569.69" r="0.8" fill="#c4c4c4"/>
<circle cx="118.92" cy="580.32" r="0.8" fill="#c4c4c4"/>
<circle cx="90.99" cy="551.27" r="0.8" fill="#c4c4c4"/>
<circle cx="122.4" cy="585.59" r="0.8" fill="#c4c4c4"/>
<circle cx="119.67" cy="582.65" r="0.8" fill="#c4c4c4"/>
<circle cx="96.3" cy="554.4" r="0.8" fill="#c4c4c4"/>
<circle cx="127.13" cy="591.65" r="0.8" fill="#c4c4c4"/>
<circle cx="97.87" cy="558.81" r="0.8" fill="#c4c4c4"/>
<circle cx="105.84" cy="564.66" r="0.8" fill="#c4c4c4"/>
<circle cx="112.66" cy="567.16" r="0.8" fill="#c4c4c4"/>
<circle cx="120.45" cy="584.07" r="0.8" fill="#c4c4c4"/>
<circle cx="100.86" cy="564.61" r="0.8" fill="#c4c4c4"/>
<circle cx="100.44" cy="558.06" r="0.8" fill="#c4c4c4"/>
<circle cx="118.54" cy="585.35" r="0.8" fill="#c4c4c4"/>
<circle cx="91.31" cy="554.25" r="0.8" fill="#c4c4c4"/>
<circle cx="115.49" cy="582.28" r="0.8" fill="#c4c4c4"/>
<circle cx="121.21" cy="579.85" r="0.8" fill="#c4c4c4"/>
<circle cx="98.05" cy="555.88" r="0.8" fill="#c4c4c4"/>
<circle cx="80.79" cy="544.87" r="0.8" fill="#c4c4c4"/>
<circle cx="125.13" cy="593.77" r="0.8" fill="#c4c4c4"/>
<circle cx="114.3" cy="570.64" r="0.8" fill="#c4c4c4"/>
<circle cx="127.47" cy="584.98" r="0.8" fill="#c4c4c4"/>
<circle cx="93.54" cy="554.83" r="0.8" fill="#c4c4c4"/>
<circle cx="122.09" cy="587.54" r="0.8" fill="#c4c4c4"/>
<circle cx="122.93" cy="583.02" r="0.8" fill="#c4c4c4"/>
<circle cx="96.14" cy="557.82" r="0.8" fill="#c4c4c4"/>
<circle cx="110.99" cy="569.47" r="0.8" fill="#c4c4c4"/>
<circle cx="128.5" cy="588.12" r="0.8" fill="#c4c4c4"/>
<circle cx="126.44" cy="589.56" r="0.8" fill="#c4c4c4"/>
<circle cx="99.02" cy="561.01" r="0.8" fill="#c4c4c4"/>
<circle cx="125.19" cy="594.24" r="0.8" fill="#c4c4c4"/>
<circle cx="96.33" cy="559.28" r="0.8" fill="#c4c4c4"/>
<circle cx="123.94" cy="592.57" r="0.8" fill="#c4c4c4"/>
<circle cx="125.72" cy="589.16" r="0.8" fill="#c4c4c4"/>
<circle cx="125.91" cy="590.66" r="0.8" fill="#c4c4c4"/>
<circle cx="121.63" cy="586.23" r="0.8" fill="#c4c4c4"/>
<circle cx="101.08" cy="566.38" r="0.8" fill="#c4c4c4"/>
<circle cx="105.14" cy="569.9" r="0.8" fill="#c4c4c4"/>
<circle cx="105.81" cy="564.14" r="0.8" fill="#c4c4c4"/>
<circle cx="78.11" cy="541.97" r="0.8" fill="#c4c4c4"/>
<circle cx="104.57" cy="564.56" r="0.8" fill="#c4c4c4"/>
<circle cx="103.15" cy="563.85" r="0.8" fill="#c4c4c4"/>
<circle cx="123.26" cy="584.49" r="0.8" fill="#c4c4c4"/>
<circle cx="114.78" cy="579.95" r="0.8" fill="#c4c4c4"/>
<circle cx="88.09" cy="555.36" r="0.8" fill="#c4c4c4"/>
<circle cx="116.01" cy="577.6" r="0.8" fill="#c4c4c4"/>
<circle cx="97.2" cy="560.17" r="0.8" fill="#c4c4c4"/>
<circle cx="121.01" cy="593.04" r="0.8" fill="#c4c4c4"/>
<circle cx="95.04" cy="553.57" r="0.8" fill="#c4c4c4"/>
<circle cx="101.07" cy="559.66" r="0.8" fill="#c4c4c4"/>
<circle cx="79.63" cy="542.56" r="0.8" fill="#c4c4c4"/>
<circle cx="113.74" cy="578.63" r="0.8" fill="#c4c4c4"/>
<circle cx="110.64" cy="572.28" r="0.8" fill="#c4c4c4"/>
<circle cx="98.69" cy="561.01" r="0.8" fill="#c4c4c4"/>
<circle cx="108.12" cy="563.99" r="0.8" fill="#c4c4c4"/>
<circle cx="82.45" cy="551.27" r="0.8" fill="#c4c4c4"/>
<circle cx="125.59" cy="594.59" r="0.8" fill="#c4c4c4"/>
<circle cx="91.56" cy="559.49" r="0.8" fill="#c4c4c4"/>
<circle cx="115.52" cy="575.69" r="0.8" fill="#c4c4c4"/>
<circle cx="122.52" cy="587.33" r="0.8" fill="#c4c4c4"/>
<circle cx="123.71" cy="587.6" r="0.8" fill="#c4c4c4"/>
<circle cx="107.15" cy="572.55" r="0.8" fill="#c4c4c4"/>
<circle cx="123.92" cy="595.17" r="0.8" fill="#c4c4c4"/>
<circle cx="92.64" cy="555.73" r="0.8" fill="#c4c4c4"/>
<circle cx="116.43" cy="578.6" r="0.8" fill="#c4c4c4"/>
<circle cx="116.5" cy="571.07" r="0.8" fill="#c4c4c4"/>
<circle cx="104.02" cy="564.8" r="0.8" fill="#c4c4c4"/>
<circle cx="96.11" cy="556.33" r="0.8" fill="#c4c4c4"/>
<circle cx="127.14" cy="581.62" r="0.8" fill="#c4c4c4"/>
<circle cx="81.24" cy="548.94" r="0.8" fill="#c4c4c4"/>
<circle cx="108.69" cy="568.85" r="0.8" fill="#c4c4c4"/>
<circle cx="82.93" cy="547.22" r="0.8" fill="#c4c4c4"/>
<circle cx="83.82" cy="545.72" r="0.8" fill="#c4c4c4"/>
<circle cx="110.06" cy="572.55" r="0.8" fill="#c4c4c4"/>
<circle cx="98.19" cy="558.24" r="0.8" fill="#c4c4c4"/>
<circle cx="128.18" cy="593.55" r="0.8" fill="#c4c4c4"/>
<circle cx="90.29" cy="549.65" r="0.8" fill="#c4c4c4"/>
<circle cx="103.43" cy="563.57" r="0.8" fill="#c4c4c4"/>
<path d="M120.5,594 L120.5,616.5 L135,617 L153.5,617.8 M120.5,616.5 L95,633 L68.5,651.5" stroke="#333" stroke-width="0.9" fill="none"/>
<circle cx="122.46" cy="589.82" r="1.05" fill="#e2290f"/>
<circle cx="108.19" cy="573.54" r="1.05" fill="#e2290f"/>
<circle cx="109.91" cy="569.47" r="1.05" fill="#e2290f"/>
<circle cx="107.07" cy="567" r="1.05" fill="#e2290f"/>
<circle cx="90.23" cy="555.82" r="1.05" fill="#e2290f"/>
<circle cx="94.4" cy="557.02" r="1.05" fill="#e2290f"/>
<circle cx="120.63" cy="582.84" r="1.05" fill="#e2290f"/>
<circle cx="108.78" cy="569.93" r="1.05" fill="#e2290f"/>
<circle cx="123.75" cy="589.03" r="1.05" fill="#e2290f"/>
<circle cx="122.63" cy="591.96" r="1.05" fill="#e2290f"/>
<circle cx="110.73" cy="571.18" r="1.05" fill="#e2290f"/>
<circle cx="119.28" cy="583.9" r="1.05" fill="#e2290f"/>
<circle cx="120.9" cy="583.05" r="1.05" fill="#e2290f"/>
<circle cx="103" cy="565.43" r="1.05" fill="#e2290f"/>
<circle cx="124.29" cy="586.45" r="1.05" fill="#e2290f"/>
<circle cx="110.21" cy="572.71" r="1.05" fill="#e2290f"/>
<circle cx="120.22" cy="586.46" r="1.05" fill="#e2290f"/>
<circle cx="123.66" cy="591.7" r="1.05" fill="#e2290f"/>
<circle cx="120.72" cy="583.94" r="1.05" fill="#e2290f"/>
<circle cx="115.51" cy="575.64" r="1.05" fill="#e2290f"/>
<circle cx="100.53" cy="563.72" r="1.05" fill="#e2290f"/>
<circle cx="118.77" cy="585.59" r="1.05" fill="#e2290f"/>
<circle cx="105.16" cy="566.19" r="1.05" fill="#e2290f"/>
<circle cx="119.23" cy="581.69" r="1.05" fill="#e2290f"/>
<circle cx="100.1" cy="560.51" r="1.05" fill="#e2290f"/>
<circle cx="117.16" cy="579.76" r="1.05" fill="#e2290f"/>
<circle cx="97.24" cy="557.3" r="1.05" fill="#e2290f"/>
<circle cx="95.98" cy="559.02" r="1.05" fill="#e2290f"/>
<circle cx="108.1" cy="568.58" r="1.05" fill="#e2290f"/>
<circle cx="120.16" cy="581.31" r="1.05" fill="#e2290f"/>
<circle cx="122.68" cy="586.97" r="1.05" fill="#e2290f"/>
<circle cx="113.64" cy="575.02" r="1.05" fill="#e2290f"/>
<circle cx="124.67" cy="587.88" r="1.05" fill="#e2290f"/>
<circle cx="111.05" cy="571.13" r="1.05" fill="#e2290f"/>
<circle cx="111.57" cy="577.2" r="1.05" fill="#e2290f"/>
<circle cx="119.93" cy="583.09" r="1.05" fill="#e2290f"/>
<circle cx="93.55" cy="556.46" r="1.05" fill="#e2290f"/>
<circle cx="123.87" cy="591.03" r="1.05" fill="#e2290f"/>
<circle cx="124.05" cy="591.83" r="1.05" fill="#e2290f"/>
<circle cx="124.04" cy="588.89" r="1.05" fill="#e2290f"/>
<circle cx="99.31" cy="562.45" r="1.05" fill="#e2290f"/>
<circle cx="82.03" cy="545.69" r="1.05" fill="#e2290f"/>
<circle cx="125.67" cy="589.43" r="1.05" fill="#e2290f"/>
<circle cx="119.36" cy="585" r="1.05" fill="#e2290f"/>
<circle cx="116.03" cy="579.48" r="1.05" fill="#e2290f"/>
<circle cx="122.48" cy="596.63" r="1.05" fill="#e2290f"/>
<circle cx="122.42" cy="597.22" r="1.05" fill="#e2290f"/>
<circle cx="123.8" cy="595.27" r="1.05" fill="#e2290f"/>
<circle cx="123.81" cy="592.7" r="1.05" fill="#e2290f"/>
<circle cx="122.79" cy="595.61" r="1.05" fill="#e2290f"/>
<circle cx="124.9" cy="592.55" r="1.05" fill="#e2290f"/>
<circle cx="127.92" cy="600.03" r="1.05" fill="#e2290f"/>
<circle cx="121.24" cy="597.87" r="1.05" fill="#e2290f"/>
<circle cx="123.36" cy="594.83" r="1.05" fill="#e2290f"/>
<circle cx="121.94" cy="599.88" r="1.05" fill="#e2290f"/>
<circle cx="121.87" cy="593.71" r="1.05" fill="#e2290f"/>
<circle cx="122.07" cy="600.88" r="1.05" fill="#e2290f"/>
<circle cx="125.98" cy="589.31" r="1.05" fill="#e2290f"/>
<circle cx="122.61" cy="595.3" r="1.05" fill="#e2290f"/>
<circle cx="122.65" cy="592.74" r="1.05" fill="#e2290f"/>
<circle cx="121.38" cy="594.89" r="1.05" fill="#e2290f"/>
<circle cx="121.35" cy="596.96" r="1.05" fill="#e2290f"/>
<circle cx="128.23" cy="592.84" r="1.05" fill="#e2290f"/>
<circle cx="126.74" cy="595.33" r="1.05" fill="#e2290f"/>
<circle cx="122.18" cy="592.78" r="1.05" fill="#e2290f"/>
<circle cx="121.61" cy="594.41" r="1.05" fill="#e2290f"/>
<circle cx="124.88" cy="597.31" r="1.05" fill="#e2290f"/>
<circle cx="122.95" cy="589.76" r="1.05" fill="#e2290f"/>
<circle cx="123.35" cy="599.94" r="1.05" fill="#e2290f"/>
<circle cx="124.06" cy="593.78" r="1.05" fill="#e2290f"/>
<circle cx="119.42" cy="592.46" r="1.05" fill="#e2290f"/>
<circle cx="124.57" cy="590.64" r="1.05" fill="#e2290f"/>
<circle cx="126.16" cy="591.99" r="1.05" fill="#e2290f"/>
<circle cx="121.79" cy="591.94" r="1.05" fill="#e2290f"/>
<circle cx="123.32" cy="597.55" r="1.05" fill="#e2290f"/>
<circle cx="70.51" cy="649.11" r="1.05" fill="#e2290f"/>
<circle cx="72.23" cy="653.88" r="1.05" fill="#e2290f"/>
<circle cx="77.96" cy="650.48" r="1.05" fill="#e2290f"/>
<circle cx="77.75" cy="654.2" r="1.05" fill="#e2290f"/>
<circle cx="74.12" cy="651.21" r="1.05" fill="#e2290f"/>
<circle cx="69.39" cy="650.82" r="1.05" fill="#e2290f"/>
<circle cx="75.81" cy="653.25" r="1.05" fill="#e2290f"/>
<circle cx="76.28" cy="656.56" r="1.05" fill="#e2290f"/>
<circle cx="72.58" cy="652.7" r="1.05" fill="#e2290f"/>
<circle cx="79.28" cy="650.1" r="1.05" fill="#e2290f"/>
<circle cx="70.93" cy="652.04" r="1.05" fill="#e2290f"/>
<circle cx="71.17" cy="653.1" r="1.05" fill="#e2290f"/>
<circle cx="69.55" cy="655.2" r="1.05" fill="#e2290f"/>
<circle cx="67.7" cy="651.12" r="1.05" fill="#e2290f"/>
<circle cx="66.55" cy="649.9" r="1.05" fill="#e2290f"/>
<circle cx="74.59" cy="654.1" r="1.05" fill="#e2290f"/>
<circle cx="71.82" cy="654.54" r="1.05" fill="#e2290f"/>
<circle cx="74.69" cy="651.61" r="1.05" fill="#e2290f"/>
<circle cx="72.38" cy="653.56" r="1.05" fill="#e2290f"/>
<circle cx="79.61" cy="651.89" r="1.05" fill="#e2290f"/>
<circle cx="73.82" cy="653.93" r="1.05" fill="#e2290f"/>
<circle cx="76.81" cy="653.68" r="1.05" fill="#e2290f"/>
<circle cx="76.3" cy="650.6" r="1.05" fill="#e2290f"/>
<circle cx="71.59" cy="648.8" r="1.05" fill="#e2290f"/>
<circle cx="72.34" cy="657.62" r="1.05" fill="#e2290f"/>
<circle cx="73.37" cy="652.98" r="1.05" fill="#e2290f"/>
<circle cx="73.46" cy="653.1" r="1.05" fill="#e2290f"/>
<circle cx="67.85" cy="651.37" r="1.05" fill="#e2290f"/>
<circle cx="71.9" cy="653.15" r="1.05" fill="#e2290f"/>
<circle cx="69.48" cy="652.58" r="1.05" fill="#e2290f"/>
<circle cx="69.94" cy="650.08" r="1.05" fill="#e2290f"/>
<circle cx="70.2" cy="651.14" r="1.05" fill="#e2290f"/>
<circle cx="75.47" cy="655.57" r="1.05" fill="#e2290f"/>
<circle cx="74.56" cy="652.36" r="1.05" fill="#e2290f"/>
<circle cx="70.56" cy="649.56" r="1.05" fill="#e2290f"/>
<circle cx="70.67" cy="656.03" r="1.05" fill="#e2290f"/>
<circle cx="76.58" cy="653.26" r="1.05" fill="#e2290f"/>
<circle cx="71.66" cy="652.81" r="1.05" fill="#e2290f"/>
<circle cx="74.01" cy="652.78" r="1.05" fill="#e2290f"/>
<circle cx="74.03" cy="651.21" r="1.05" fill="#e2290f"/>
<circle cx="72.68" cy="652.08" r="1.05" fill="#e2290f"/>
<circle cx="76.31" cy="650.24" r="1.05" fill="#e2290f"/>
<circle cx="77.08" cy="652.62" r="1.05" fill="#e2290f"/>
<circle cx="70.75" cy="652.84" r="1.05" fill="#e2290f"/>
<circle cx="72.96" cy="652.32" r="1.05" fill="#e2290f"/>
<circle cx="74.01" cy="651.61" r="1.05" fill="#e2290f"/>
<circle cx="66.57" cy="654.24" r="1.05" fill="#e2290f"/>
<circle cx="72.43" cy="656.24" r="1.05" fill="#e2290f"/>
<circle cx="73.88" cy="648.67" r="1.05" fill="#e2290f"/>
<circle cx="76.88" cy="651.38" r="1.05" fill="#e2290f"/>
<circle cx="74.45" cy="657.38" r="1.05" fill="#e2290f"/>
<circle cx="76.36" cy="650.54" r="1.05" fill="#e2290f"/>
<circle cx="72.2" cy="649.48" r="1.05" fill="#e2290f"/>
<circle cx="74.87" cy="653.96" r="1.05" fill="#e2290f"/>
<circle cx="68.92" cy="653.74" r="1.05" fill="#e2290f"/>
<circle cx="75.81" cy="654.47" r="1.05" fill="#e2290f"/>
<circle cx="70.17" cy="651.37" r="1.05" fill="#e2290f"/>
<circle cx="68.59" cy="650.13" r="1.05" fill="#e2290f"/>
<circle cx="73.63" cy="652.88" r="1.05" fill="#e2290f"/>
<circle cx="77.09" cy="653.37" r="1.05" fill="#e2290f"/>
<circle cx="71.4" cy="649.86" r="1.05" fill="#e2290f"/>
<circle cx="77.94" cy="653.14" r="1.05" fill="#e2290f"/>
<circle cx="72.42" cy="650.73" r="1.05" fill="#e2290f"/>
<circle cx="68.85" cy="654.11" r="1.05" fill="#e2290f"/>
<circle cx="69.12" cy="654.01" r="1.05" fill="#e2290f"/>
<circle cx="74.73" cy="652.01" r="1.05" fill="#e2290f"/>
<circle cx="66.85" cy="653.65" r="1.05" fill="#e2290f"/>
<circle cx="77.46" cy="651.1" r="1.05" fill="#e2290f"/>
<circle cx="68.11" cy="655.05" r="1.05" fill="#e2290f"/>
<circle cx="73.03" cy="651.51" r="1.05" fill="#e2290f"/>
<circle cx="76.83" cy="652.23" r="1.05" fill="#e2290f"/>
<circle cx="74.11" cy="651.97" r="1.05" fill="#e2290f"/>
<circle cx="69.9" cy="653.25" r="1.05" fill="#e2290f"/>
<circle cx="69.52" cy="649.14" r="1.05" fill="#e2290f"/>
<circle cx="70.64" cy="655.35" r="1.05" fill="#e2290f"/>
<circle cx="76.37" cy="657.28" r="1.05" fill="#e2290f"/>
<circle cx="76.01" cy="656.13" r="1.05" fill="#e2290f"/>
<circle cx="73.41" cy="651.9" r="1.05" fill="#e2290f"/>
<circle cx="74.16" cy="650.84" r="1.05" fill="#e2290f"/>
<circle cx="75.1" cy="651.88" r="1.05" fill="#e2290f"/>
<circle cx="73.44" cy="651.04" r="1.05" fill="#e2290f"/>
<circle cx="72.07" cy="654.82" r="1.05" fill="#e2290f"/>
<circle cx="71.78" cy="651.41" r="1.05" fill="#e2290f"/>
<circle cx="73.52" cy="654.62" r="1.05" fill="#e2290f"/>
<circle cx="71.88" cy="650.39" r="1.05" fill="#e2290f"/>
<circle cx="67.09" cy="650.04" r="1.05" fill="#e2290f"/>
<circle cx="76.26" cy="652.62" r="1.05" fill="#e2290f"/>
<circle cx="74.21" cy="655.01" r="1.05" fill="#e2290f"/>
<circle cx="73.53" cy="653.79" r="1.05" fill="#e2290f"/>
<circle cx="70.77" cy="649.48" r="1.05" fill="#e2290f"/>
<circle cx="74.73" cy="652.6" r="1.05" fill="#e2290f"/>
<circle cx="74.54" cy="650.61" r="1.05" fill="#e2290f"/>
<circle cx="72.04" cy="656.95" r="1.05" fill="#e2290f"/>
<circle cx="69.6" cy="653" r="1.05" fill="#e2290f"/>
<circle cx="77.11" cy="652.32" r="1.05" fill="#e2290f"/>
<circle cx="72.97" cy="648.41" r="1.05" fill="#e2290f"/>
<circle cx="75.24" cy="651.89" r="1.05" fill="#e2290f"/>
<circle cx="77.02" cy="652.61" r="1.05" fill="#e2290f"/>
<circle cx="71.24" cy="653.7" r="1.05" fill="#e2290f"/>
<circle cx="71.71" cy="651.74" r="1.05" fill="#e2290f"/>
<circle cx="77.91" cy="654.82" r="1.05" fill="#e2290f"/>
<circle cx="72.92" cy="654.46" r="1.05" fill="#e2290f"/>
<circle cx="75.41" cy="654" r="1.05" fill="#e2290f"/>
<circle cx="72.7" cy="652.95" r="1.05" fill="#e2290f"/>
<circle cx="73.96" cy="653.96" r="1.05" fill="#e2290f"/>
<circle cx="73.78" cy="651.67" r="1.05" fill="#e2290f"/>
<circle cx="72.28" cy="653.74" r="1.05" fill="#e2290f"/>
<circle cx="69.13" cy="652.78" r="1.05" fill="#e2290f"/>
<circle cx="75.17" cy="653.15" r="1.05" fill="#e2290f"/>
<circle cx="71.56" cy="652.75" r="1.05" fill="#e2290f"/>
<circle cx="70.87" cy="654.82" r="1.05" fill="#e2290f"/>
<circle cx="71.24" cy="649.37" r="1.05" fill="#e2290f"/>
<circle cx="68.37" cy="653.42" r="1.05" fill="#e2290f"/>
<circle cx="73.27" cy="651.83" r="1.05" fill="#e2290f"/>
<circle cx="68.01" cy="652.49" r="1.05" fill="#e2290f"/>
<circle cx="69.64" cy="651.45" r="1.05" fill="#e2290f"/>
<circle cx="72.55" cy="651.22" r="1.05" fill="#e2290f"/>
<circle cx="73.63" cy="651.28" r="1.05" fill="#e2290f"/>
<circle cx="70.94" cy="652.33" r="1.05" fill="#e2290f"/>
<circle cx="77.6" cy="656.04" r="1.05" fill="#e2290f"/>
<circle cx="75.81" cy="651.29" r="1.05" fill="#e2290f"/>
<circle cx="72.57" cy="654.68" r="1.05" fill="#e2290f"/>
<circle cx="75.34" cy="649.45" r="1.05" fill="#e2290f"/>
<circle cx="72.36" cy="651.28" r="1.05" fill="#e2290f"/>
<circle cx="75.14" cy="654.11" r="1.05" fill="#e2290f"/>
<circle cx="70.7" cy="657.2" r="1.05" fill="#e2290f"/>
<circle cx="71.6" cy="657.82" r="1.05" fill="#e2290f"/>
<circle cx="71.97" cy="652.63" r="1.05" fill="#e2290f"/>
<circle cx="79.1" cy="651.72" r="1.05" fill="#e2290f"/>
<circle cx="70.93" cy="655.83" r="1.05" fill="#e2290f"/>
<circle cx="72.42" cy="653.78" r="1.05" fill="#e2290f"/>
<circle cx="68.22" cy="656.48" r="1.05" fill="#e2290f"/>
<circle cx="75.94" cy="653.53" r="1.05" fill="#e2290f"/>
<circle cx="74.99" cy="651.77" r="1.05" fill="#e2290f"/>
<circle cx="70.92" cy="649.57" r="1.05" fill="#e2290f"/>
<circle cx="73.83" cy="655.34" r="1.05" fill="#e2290f"/>
<circle cx="75.5" cy="654.69" r="1.05" fill="#e2290f"/>
<circle cx="75" cy="650.91" r="1.05" fill="#e2290f"/>
<circle cx="68.07" cy="654.12" r="1.05" fill="#e2290f"/>
<circle cx="73.13" cy="654.83" r="1.05" fill="#e2290f"/>
<circle cx="71.61" cy="650.99" r="1.05" fill="#e2290f"/>
<circle cx="74.09" cy="651.66" r="1.05" fill="#e2290f"/>
<circle cx="66.92" cy="651.55" r="1.05" fill="#e2290f"/>
<circle cx="69.54" cy="650.51" r="1.05" fill="#e2290f"/>
<circle cx="70.67" cy="654.75" r="1.05" fill="#e2290f"/>
<circle cx="80.63" cy="656.35" r="1.05" fill="#e2290f"/>
<circle cx="71.13" cy="655.15" r="1.05" fill="#e2290f"/>
<circle cx="72.31" cy="653.63" r="1.05" fill="#e2290f"/>
<circle cx="70.24" cy="652.65" r="1.05" fill="#e2290f"/>
<circle cx="66.8" cy="656.48" r="1.05" fill="#e2290f"/>
<circle cx="70.44" cy="654.1" r="1.05" fill="#e2290f"/>
<circle cx="71.29" cy="653.24" r="1.05" fill="#e2290f"/>
<circle cx="68.48" cy="651.47" r="1.05" fill="#e2290f"/>
<circle cx="78.43" cy="654.13" r="1.05" fill="#e2290f"/>
<circle cx="64.83" cy="654.83" r="1.05" fill="#e2290f"/>
<circle cx="67.84" cy="653.28" r="1.05" fill="#e2290f"/>
<circle cx="76.55" cy="650.74" r="1.05" fill="#e2290f"/>
<circle cx="72.57" cy="651.83" r="1.05" fill="#e2290f"/>
<circle cx="75.99" cy="655.01" r="1.05" fill="#e2290f"/>
<circle cx="80.56" cy="653.4" r="1.05" fill="#e2290f"/>
<circle cx="83.57" cy="649.91" r="1.05" fill="#e2290f"/>
<circle cx="82.54" cy="651.78" r="1.05" fill="#e2290f"/>
<circle cx="77.73" cy="652.16" r="1.05" fill="#e2290f"/>
<circle cx="74.48" cy="649.98" r="1.05" fill="#e2290f"/>
<circle cx="75.93" cy="658.05" r="1.05" fill="#e2290f"/>
<circle cx="74.79" cy="652.44" r="1.05" fill="#e2290f"/>
<circle cx="74.1" cy="654.45" r="1.05" fill="#e2290f"/>
<circle cx="73.11" cy="652.49" r="1.05" fill="#e2290f"/>
<circle cx="75.11" cy="656.07" r="1.05" fill="#e2290f"/>
<circle cx="78.6" cy="649.61" r="1.05" fill="#e2290f"/>
<circle cx="81.54" cy="654.54" r="1.05" fill="#e2290f"/>
<circle cx="85.05" cy="656.4" r="1.05" fill="#e2290f"/>
<circle cx="82.55" cy="658.66" r="1.05" fill="#e2290f"/>
<circle cx="82.65" cy="657.25" r="1.05" fill="#e2290f"/>
<circle cx="86.42" cy="657.62" r="1.05" fill="#e2290f"/>
<circle cx="83.52" cy="655.63" r="1.05" fill="#e2290f"/>
<circle cx="79.41" cy="651.02" r="1.05" fill="#e2290f"/>
<circle cx="81.59" cy="655.91" r="1.05" fill="#e2290f"/>
<circle cx="85.57" cy="654.3" r="1.05" fill="#e2290f"/>
<circle cx="85.51" cy="655.63" r="1.05" fill="#e2290f"/>
<circle cx="163.77" cy="615.75" r="1.05" fill="#e2290f"/>
<circle cx="155.73" cy="616.81" r="1.05" fill="#e2290f"/>
<circle cx="154.99" cy="621.14" r="1.05" fill="#e2290f"/>
<circle cx="155.4" cy="617.02" r="1.05" fill="#e2290f"/>
<circle cx="157.2" cy="619.87" r="1.05" fill="#e2290f"/>
<circle cx="156.98" cy="619.63" r="1.05" fill="#e2290f"/>
<circle cx="160.44" cy="617.34" r="1.05" fill="#e2290f"/>
<circle cx="150.48" cy="616.87" r="1.05" fill="#e2290f"/>
<circle cx="154.29" cy="621.12" r="1.05" fill="#e2290f"/>
<circle cx="156.1" cy="616.62" r="1.05" fill="#e2290f"/>
<circle cx="159.85" cy="618.49" r="1.05" fill="#e2290f"/>
<circle cx="155.36" cy="620.22" r="1.05" fill="#e2290f"/>
<circle cx="161.69" cy="618.87" r="1.05" fill="#e2290f"/>
<circle cx="155.97" cy="616.95" r="1.05" fill="#e2290f"/>
<circle cx="151.55" cy="619.04" r="1.05" fill="#e2290f"/>
<circle cx="159.9" cy="616.87" r="1.05" fill="#e2290f"/>
<circle cx="158.64" cy="623.86" r="1.05" fill="#e2290f"/>
<circle cx="154.7" cy="615.56" r="1.05" fill="#e2290f"/>
<circle cx="160.64" cy="617.69" r="1.05" fill="#e2290f"/>
<circle cx="156.86" cy="619.44" r="1.05" fill="#e2290f"/>
<circle cx="158.11" cy="620.06" r="1.05" fill="#e2290f"/>
<circle cx="160.32" cy="620.33" r="1.05" fill="#e2290f"/>
<circle cx="158.96" cy="614.8" r="1.05" fill="#e2290f"/>
<circle cx="163.19" cy="615.57" r="1.05" fill="#e2290f"/>
<circle cx="162.12" cy="618.82" r="1.05" fill="#e2290f"/>
<circle cx="153.8" cy="618.51" r="1.05" fill="#e2290f"/>
<circle cx="161.56" cy="616.7" r="1.05" fill="#e2290f"/>
<circle cx="158.69" cy="617.17" r="1.05" fill="#e2290f"/>
<circle cx="155.12" cy="617.37" r="1.05" fill="#e2290f"/>
<circle cx="162.91" cy="619.54" r="1.05" fill="#e2290f"/>
<circle cx="158.45" cy="618.26" r="1.05" fill="#e2290f"/>
<circle cx="158.98" cy="618.88" r="1.05" fill="#e2290f"/>
<circle cx="159.18" cy="615.54" r="1.05" fill="#e2290f"/>
<circle cx="161.69" cy="616.97" r="1.05" fill="#e2290f"/>
<circle cx="149.63" cy="619.57" r="1.05" fill="#e2290f"/>
<circle cx="154.42" cy="618.16" r="1.05" fill="#e2290f"/>
<circle cx="158.22" cy="617.41" r="1.05" fill="#e2290f"/>
<circle cx="160.37" cy="617.95" r="1.05" fill="#e2290f"/>
<circle cx="157.59" cy="616.81" r="1.05" fill="#e2290f"/>
<circle cx="157.58" cy="616.67" r="1.05" fill="#e2290f"/>
<circle cx="158.68" cy="620.61" r="1.05" fill="#e2290f"/>
<circle cx="162" cy="619.11" r="1.05" fill="#e2290f"/>
<circle cx="153.88" cy="620.12" r="1.05" fill="#e2290f"/>
<circle cx="161.74" cy="621.84" r="1.05" fill="#e2290f"/>
<circle cx="150.84" cy="618.43" r="1.05" fill="#e2290f"/>
<circle cx="157.4" cy="620.22" r="1.05" fill="#e2290f"/>
<circle cx="154.82" cy="617.77" r="1.05" fill="#e2290f"/>
<circle cx="166.48" cy="620.06" r="1.05" fill="#e2290f"/>
<circle cx="151.71" cy="618.43" r="1.05" fill="#e2290f"/>
<circle cx="163.22" cy="617.37" r="1.05" fill="#e2290f"/>
<circle cx="160.58" cy="618.57" r="1.05" fill="#e2290f"/>
<circle cx="153.53" cy="617.35" r="1.05" fill="#e2290f"/>
<circle cx="162.42" cy="620.38" r="1.05" fill="#e2290f"/>
<circle cx="156.47" cy="620.28" r="1.05" fill="#e2290f"/>
<circle cx="156.09" cy="618.81" r="1.05" fill="#e2290f"/>
<circle cx="158.46" cy="616.31" r="1.05" fill="#e2290f"/>
<circle cx="159.64" cy="617.75" r="1.05" fill="#e2290f"/>
<circle cx="149.12" cy="617.01" r="1.05" fill="#e2290f"/>
<circle cx="155.63" cy="617" r="1.05" fill="#e2290f"/>
<circle cx="155.18" cy="617.25" r="1.05" fill="#e2290f"/>
<circle cx="150.12" cy="619.89" r="1.05" fill="#e2290f"/>
<circle cx="158.78" cy="618.83" r="1.05" fill="#e2290f"/>
<circle cx="157.61" cy="618.51" r="1.05" fill="#e2290f"/>
<circle cx="157.63" cy="616.58" r="1.05" fill="#e2290f"/>
<circle cx="153.32" cy="618.52" r="1.05" fill="#e2290f"/>
<circle cx="162.02" cy="618.79" r="1.05" fill="#e2290f"/>
<circle cx="164.06" cy="616.12" r="1.05" fill="#e2290f"/>
<circle cx="157.62" cy="617.37" r="1.05" fill="#e2290f"/>
<circle cx="162.76" cy="621.23" r="1.05" fill="#e2290f"/>
<circle cx="156.73" cy="619.62" r="1.05" fill="#e2290f"/>
<circle cx="93.24" cy="633.24" r="1.05" fill="#e2290f"/>
<circle cx="79.88" cy="645.72" r="1.05" fill="#e2290f"/>
<circle cx="82.41" cy="643.93" r="1.05" fill="#e2290f"/>
<circle cx="106.28" cy="621.52" r="1.05" fill="#e2290f"/>
<circle cx="112.21" cy="623.24" r="1.05" fill="#e2290f"/>
<circle cx="90.4" cy="636.3" r="1.05" fill="#e2290f"/>
<circle cx="103.06" cy="628.6" r="1.05" fill="#e2290f"/>
<circle cx="105.56" cy="626.36" r="1.05" fill="#e2290f"/>
<circle cx="111.78" cy="621.48" r="1.05" fill="#e2290f"/>
<circle cx="110.91" cy="623.02" r="1.05" fill="#e2290f"/>
<circle cx="106.04" cy="627.3" r="1.05" fill="#e2290f"/>
<circle cx="107.3" cy="628.34" r="1.05" fill="#e2290f"/>
<circle cx="77.57" cy="648.06" r="1.05" fill="#e2290f"/>
<circle cx="82.16" cy="641.16" r="1.05" fill="#e2290f"/>
<circle cx="66.62" cy="649.28" r="1.05" fill="#e2290f"/>
<circle cx="75.79" cy="647.61" r="1.05" fill="#e2290f"/>
<circle cx="87.57" cy="641.88" r="1.05" fill="#e2290f"/>
<circle cx="104.17" cy="626.12" r="1.05" fill="#e2290f"/>
<circle cx="115.84" cy="623.77" r="1.05" fill="#e2290f"/>
<circle cx="104.82" cy="624.05" r="1.05" fill="#e2290f"/>
<circle cx="111.48" cy="621.34" r="1.05" fill="#e2290f"/>
<circle cx="101.38" cy="628.48" r="1.05" fill="#e2290f"/>
<circle cx="81.27" cy="640.09" r="1.05" fill="#e2290f"/>
<circle cx="112.93" cy="623.47" r="1.05" fill="#e2290f"/>
<circle cx="75.84" cy="647.69" r="1.05" fill="#e2290f"/>
<circle cx="81.98" cy="645.22" r="1.05" fill="#e2290f"/>
<circle cx="117.69" cy="619.48" r="1.05" fill="#e2290f"/>
<circle cx="77.88" cy="645.33" r="1.05" fill="#e2290f"/>
<circle cx="120.01" cy="616.82" r="1.05" fill="#e2290f"/>
<circle cx="80.68" cy="643.36" r="1.05" fill="#e2290f"/>
<circle cx="89.61" cy="634.8" r="1.05" fill="#e2290f"/>
<circle cx="99.54" cy="629.56" r="1.05" fill="#e2290f"/>
<circle cx="83.55" cy="642.75" r="1.05" fill="#e2290f"/>
<circle cx="107.46" cy="628.16" r="1.05" fill="#e2290f"/>
<circle cx="93.46" cy="630.2" r="1.05" fill="#e2290f"/>
<circle cx="74.59" cy="647.04" r="1.05" fill="#e2290f"/>
<circle cx="76.41" cy="646.63" r="1.05" fill="#e2290f"/>
<circle cx="116.61" cy="616.86" r="1.05" fill="#e2290f"/>
<circle cx="112.32" cy="616.69" r="1.05" fill="#e2290f"/>
<circle cx="97.87" cy="630.66" r="1.05" fill="#e2290f"/>
<circle cx="76.56" cy="647.03" r="1.05" fill="#e2290f"/>
<circle cx="88.08" cy="638.52" r="1.05" fill="#e2290f"/>
<circle cx="81.88" cy="638.79" r="1.05" fill="#e2290f"/>
<circle cx="107.67" cy="624.56" r="1.05" fill="#e2290f"/>
<circle cx="73.78" cy="652.03" r="1.05" fill="#e2290f"/>
<circle cx="93.22" cy="634.24" r="1.05" fill="#e2290f"/>
<circle cx="72.37" cy="646.29" r="1.05" fill="#e2290f"/>
<circle cx="96.03" cy="631.39" r="1.05" fill="#e2290f"/>
<circle cx="76.39" cy="646.95" r="1.05" fill="#e2290f"/>
<circle cx="75.74" cy="646.22" r="1.05" fill="#e2290f"/>
<circle cx="137.91" cy="616.44" r="1.05" fill="#e2290f"/>
<circle cx="147.32" cy="617.48" r="1.05" fill="#e2290f"/>
<circle cx="152.26" cy="617.98" r="1.05" fill="#e2290f"/>
<circle cx="135.33" cy="614.8" r="1.05" fill="#e2290f"/>
<circle cx="150.52" cy="616.96" r="1.05" fill="#e2290f"/>
<circle cx="123.2" cy="617.96" r="1.05" fill="#e2290f"/>
<circle cx="140.35" cy="614.03" r="1.05" fill="#e2290f"/>
<circle cx="135.26" cy="616.3" r="1.05" fill="#e2290f"/>
<circle cx="127.17" cy="618.21" r="1.05" fill="#e2290f"/>
<circle cx="137.81" cy="616.39" r="1.05" fill="#e2290f"/>
<circle cx="131.32" cy="615.61" r="1.05" fill="#e2290f"/>
<circle cx="152.87" cy="617.02" r="1.05" fill="#e2290f"/>
<circle cx="121.96" cy="617.17" r="1.05" fill="#e2290f"/>
<circle cx="147.25" cy="618.19" r="1.05" fill="#e2290f"/>
<circle cx="145.68" cy="616.12" r="1.05" fill="#e2290f"/>
<circle cx="138.62" cy="617.62" r="1.05" fill="#e2290f"/>
<circle cx="142.65" cy="616.93" r="1.05" fill="#e2290f"/>
<circle cx="149.74" cy="618.13" r="1.05" fill="#e2290f"/>
<circle cx="121.79" cy="614.94" r="1.05" fill="#e2290f"/>
<circle cx="127.33" cy="618.13" r="1.05" fill="#e2290f"/>
<circle cx="122.01" cy="616.4" r="1.05" fill="#e2290f"/>
<circle cx="128.04" cy="616.04" r="1.05" fill="#e2290f"/>
<circle cx="126.93" cy="617.66" r="1.05" fill="#e2290f"/>
<circle cx="137.46" cy="616.85" r="1.05" fill="#e2290f"/>
<circle cx="146.04" cy="616.11" r="1.05" fill="#e2290f"/>
<circle cx="132.47" cy="616.29" r="1.05" fill="#e2290f"/>
<circle cx="152.34" cy="617.07" r="1.05" fill="#e2290f"/>
<circle cx="140.27" cy="618.21" r="1.05" fill="#e2290f"/>
<circle cx="172" cy="626.5" r="0.9" fill="#e2290f"/>
<circle cx="168" cy="624" r="0.9" fill="#e2290f"/>
<circle cx="174" cy="622" r="0.9" fill="#e2290f"/>
<circle cx="165" cy="623.5" r="0.9" fill="#e2290f"/>
<circle cx="181" cy="620" r="0.8" fill="#d8d8d8"/>
<circle cx="163.5" cy="546.8" r="3.1" fill="#d3d3d3"/>
<circle cx="163.5" cy="559" r="3.1" fill="#e2290f"/>
<text x="169.6" y="549.8" font-size="8" text-anchor="start" font-weight="normal" fill="#222" >MF</text>
<text x="169.6" y="562" font-size="8" text-anchor="start" font-weight="normal" fill="#222" >SS</text>
<text x="92.3" y="548.6" font-size="7.5" text-anchor="start" font-weight="normal" fill="#222" >Pre-branch</text>
<text x="134.8" y="611" font-size="7.6" text-anchor="start" font-weight="normal" fill="#222" >Cell Fate 2</text>
<text x="94.8" y="659.3" font-size="7.6" text-anchor="start" font-weight="normal" fill="#222" >Cell Fate 1</text>
<path d="M47,675.2 L47,629.5 M47,675.2 L88.5,675.2" stroke="#222" stroke-width="1" fill="none"/>
<path d="M47,625.5 L44.8,631 L49.2,631 Z M92.5,675.2 L87,673 L87,677.4 Z" fill="#222"/>
<text x="0" y="0" font-size="10" text-anchor="middle" font-weight="bold" fill="#222" stroke="#222" stroke-width="0.05" transform="translate(112,673.6) scale(0.628,1) translate(0,3.44)">Monocle 1</text>
<text x="0" y="0" font-size="10" text-anchor="middle" font-weight="bold" fill="#222" stroke="#222" stroke-width="0.05" transform="translate(47.6,607) rotate(-90) scale(0.630,1) translate(0,3.44)">Monocle 2</text>
<rect x="250.1" y="368.2" width="6.9" height="35.3" fill="#7fc08a"/>
<rect x="260.2" y="368.2" width="107.1" height="6.58" fill="url(#g1)"/>
<rect x="370.8" y="368.2" width="107.7" height="6.58" fill="url(#g2)"/>
<text x="481.2" y="373.34" font-size="6.2" fill="#2a2a2a" transform="translate(481.2,0) scale(0.93,1) translate(-481.2,0)">IL7R</text>
<rect x="260.2" y="374.08" width="107.1" height="6.58" fill="url(#g3)"/>
<rect x="370.8" y="374.08" width="107.7" height="6.58" fill="url(#g4)"/>
<text x="481.2" y="379.22" font-size="6.2" fill="#2a2a2a" transform="translate(481.2,0) scale(0.93,1) translate(-481.2,0)">BACH2</text>
<rect x="260.2" y="379.97" width="107.1" height="6.58" fill="url(#g5)"/>
<rect x="370.8" y="379.97" width="107.7" height="6.58" fill="url(#g6)"/>
<text x="481.2" y="385.11" font-size="6.2" fill="#2a2a2a" transform="translate(481.2,0) scale(0.93,1) translate(-481.2,0)">PTPRC</text>
<rect x="260.2" y="385.85" width="107.1" height="6.58" fill="url(#g7)"/>
<rect x="370.8" y="385.85" width="107.7" height="6.58" fill="url(#g8)"/>
<text x="481.2" y="390.99" font-size="6.2" fill="#2a2a2a" transform="translate(481.2,0) scale(0.93,1) translate(-481.2,0)">LEF1</text>
<rect x="260.2" y="391.73" width="107.1" height="6.58" fill="url(#g9)"/>
<rect x="370.8" y="391.73" width="107.7" height="6.58" fill="url(#g10)"/>
<text x="481.2" y="396.88" font-size="6.2" fill="#2a2a2a" transform="translate(481.2,0) scale(0.93,1) translate(-481.2,0)">CCR7</text>
<rect x="260.2" y="397.62" width="107.1" height="5.88" fill="url(#g11)"/>
<rect x="370.8" y="397.62" width="107.7" height="5.88" fill="url(#g12)"/>
<text x="481.2" y="402.76" font-size="6.2" fill="#2a2a2a" transform="translate(481.2,0) scale(0.93,1) translate(-481.2,0)">PIK3P1</text>
<rect x="250.1" y="406.6" width="6.9" height="65.4" fill="#f2a9b0"/>
<rect x="260.2" y="406.6" width="107.1" height="6.65" fill="url(#g13)"/>
<rect x="370.8" y="406.6" width="107.7" height="6.65" fill="url(#g14)"/>
<text x="481.2" y="411.77" font-size="6.2" fill="#2a2a2a" transform="translate(481.2,0) scale(0.93,1) translate(-481.2,0)">CD5</text>
<rect x="260.2" y="412.55" width="107.1" height="6.65" fill="url(#g15)"/>
<rect x="370.8" y="412.55" width="107.7" height="6.65" fill="url(#g16)"/>
<text x="481.2" y="417.72" font-size="6.2" fill="#2a2a2a" transform="translate(481.2,0) scale(0.93,1) translate(-481.2,0)">CD6</text>
<rect x="260.2" y="418.49" width="107.1" height="6.65" fill="url(#g17)"/>
<rect x="370.8" y="418.49" width="107.7" height="6.65" fill="url(#g18)"/>
<text x="481.2" y="423.66" font-size="6.2" fill="#2a2a2a" transform="translate(481.2,0) scale(0.93,1) translate(-481.2,0)">DPP4</text>
<rect x="260.2" y="424.44" width="107.1" height="6.65" fill="url(#g19)"/>
<rect x="370.8" y="424.44" width="107.7" height="6.65" fill="url(#g20)"/>
<text x="481.2" y="429.61" font-size="6.2" fill="#2a2a2a" transform="translate(481.2,0) scale(0.93,1) translate(-481.2,0)">CD8A</text>
<rect x="260.2" y="430.38" width="107.1" height="6.65" fill="url(#g21)"/>
<rect x="370.8" y="430.38" width="107.7" height="6.65" fill="url(#g22)"/>
<text x="481.2" y="435.55" font-size="6.2" fill="#2a2a2a" transform="translate(481.2,0) scale(0.93,1) translate(-481.2,0)">CD8B</text>
<rect x="260.2" y="436.33" width="107.1" height="6.65" fill="url(#g23)"/>
<rect x="370.8" y="436.33" width="107.7" height="6.65" fill="url(#g24)"/>
<text x="481.2" y="441.5" font-size="6.2" fill="#2a2a2a" transform="translate(481.2,0) scale(0.93,1) translate(-481.2,0)">LTB</text>
<rect x="260.2" y="442.27" width="107.1" height="6.65" fill="url(#g25)"/>
<rect x="370.8" y="442.27" width="107.7" height="6.65" fill="url(#g26)"/>
<text x="481.2" y="447.45" font-size="6.2" fill="#2a2a2a" transform="translate(481.2,0) scale(0.93,1) translate(-481.2,0)">MYC</text>
<rect x="260.2" y="448.22" width="107.1" height="6.65" fill="url(#g27)"/>
<rect x="370.8" y="448.22" width="107.7" height="6.65" fill="url(#g28)"/>
<text x="481.2" y="453.39" font-size="6.2" fill="#2a2a2a" transform="translate(481.2,0) scale(0.93,1) translate(-481.2,0)">SELL</text>
<rect x="260.2" y="454.16" width="107.1" height="6.65" fill="url(#g29)"/>
<rect x="370.8" y="454.16" width="107.7" height="6.65" fill="url(#g30)"/>
<text x="481.2" y="459.34" font-size="6.2" fill="#2a2a2a" transform="translate(481.2,0) scale(0.93,1) translate(-481.2,0)">TSPAN32</text>
<rect x="260.2" y="460.11" width="107.1" height="6.65" fill="url(#g31)"/>
<rect x="370.8" y="460.11" width="107.7" height="6.65" fill="url(#g32)"/>
<text x="481.2" y="465.28" font-size="6.2" fill="#2a2a2a" transform="translate(481.2,0) scale(0.93,1) translate(-481.2,0)">CD7</text>
<rect x="260.2" y="466.05" width="107.1" height="5.95" fill="url(#g33)"/>
<rect x="370.8" y="466.05" width="107.7" height="5.95" fill="url(#g34)"/>
<text x="481.2" y="471.23" font-size="6.2" fill="#2a2a2a" transform="translate(481.2,0) scale(0.93,1) translate(-481.2,0)">KLRK1</text>
<rect x="250.1" y="474.8" width="6.9" height="137.2" fill="#2f2f8f"/>
<rect x="260.2" y="474.8" width="107.1" height="6.67" fill="url(#g35)"/>
<rect x="370.8" y="474.8" width="107.7" height="6.67" fill="url(#g36)"/>
<text x="481.2" y="479.98" font-size="6.2" fill="#2a2a2a" transform="translate(481.2,0) scale(0.93,1) translate(-481.2,0)">KLRB1</text>
<rect x="260.2" y="480.77" width="107.1" height="6.67" fill="url(#g37)"/>
<rect x="370.8" y="480.77" width="107.7" height="6.67" fill="url(#g38)"/>
<text x="481.2" y="485.95" font-size="6.2" fill="#2a2a2a" transform="translate(481.2,0) scale(0.93,1) translate(-481.2,0)">GATA3</text>
<rect x="260.2" y="486.73" width="107.1" height="6.67" fill="url(#g39)"/>
<rect x="370.8" y="486.73" width="107.7" height="6.67" fill="url(#g40)"/>
<text x="481.2" y="491.91" font-size="6.2" fill="#2a2a2a" transform="translate(481.2,0) scale(0.93,1) translate(-481.2,0)">ANXA5</text>
<rect x="260.2" y="492.7" width="107.1" height="6.67" fill="url(#g41)"/>
<rect x="370.8" y="492.7" width="107.7" height="6.67" fill="url(#g42)"/>
<text x="481.2" y="497.88" font-size="6.2" fill="#2a2a2a" transform="translate(481.2,0) scale(0.93,1) translate(-481.2,0)">LGALS1</text>
<rect x="260.2" y="498.66" width="107.1" height="6.67" fill="url(#g43)"/>
<rect x="370.8" y="498.66" width="107.7" height="6.67" fill="url(#g44)"/>
<text x="481.2" y="503.84" font-size="6.2" fill="#2a2a2a" transform="translate(481.2,0) scale(0.93,1) translate(-481.2,0)">CD70</text>
<rect x="260.2" y="504.63" width="107.1" height="6.67" fill="url(#g45)"/>
<rect x="370.8" y="504.63" width="107.7" height="6.67" fill="url(#g46)"/>
<text x="481.2" y="509.81" font-size="6.2" fill="#2a2a2a" transform="translate(481.2,0) scale(0.93,1) translate(-481.2,0)">CCND2</text>
<rect x="260.2" y="510.59" width="107.1" height="6.67" fill="url(#g47)"/>
<rect x="370.8" y="510.59" width="107.7" height="6.67" fill="url(#g48)"/>
<text x="481.2" y="515.77" font-size="6.2" fill="#2a2a2a" transform="translate(481.2,0) scale(0.93,1) translate(-481.2,0)">CST7</text>
<rect x="260.2" y="516.56" width="107.1" height="6.67" fill="url(#g49)"/>
<rect x="370.8" y="516.56" width="107.7" height="6.67" fill="url(#g50)"/>
<text x="481.2" y="521.74" font-size="6.2" fill="#2a2a2a" transform="translate(481.2,0) scale(0.93,1) translate(-481.2,0)">APOBEC3G</text>
<rect x="260.2" y="522.52" width="107.1" height="6.67" fill="url(#g51)"/>
<rect x="370.8" y="522.52" width="107.7" height="6.67" fill="url(#g52)"/>
<text x="481.2" y="527.7" font-size="6.2" fill="#2a2a2a" transform="translate(481.2,0) scale(0.93,1) translate(-481.2,0)">ATF6B</text>
<rect x="260.2" y="528.49" width="107.1" height="6.67" fill="url(#g53)"/>
<rect x="370.8" y="528.49" width="107.7" height="6.67" fill="url(#g54)"/>
<text x="481.2" y="533.67" font-size="6.2" fill="#2a2a2a" transform="translate(481.2,0) scale(0.93,1) translate(-481.2,0)">S100A9</text>
<rect x="260.2" y="534.45" width="107.1" height="6.67" fill="url(#g55)"/>
<rect x="370.8" y="534.45" width="107.7" height="6.67" fill="url(#g56)"/>
<text x="481.2" y="539.63" font-size="6.2" fill="#2a2a2a" transform="translate(481.2,0) scale(0.93,1) translate(-481.2,0)">TIGIT</text>
<rect x="260.2" y="540.42" width="107.1" height="6.67" fill="url(#g57)"/>
<rect x="370.8" y="540.42" width="107.7" height="6.67" fill="url(#g58)"/>
<text x="481.2" y="545.6" font-size="6.2" fill="#2a2a2a" transform="translate(481.2,0) scale(0.93,1) translate(-481.2,0)">GNLY</text>
<rect x="260.2" y="546.38" width="107.1" height="6.67" fill="url(#g59)"/>
<rect x="370.8" y="546.38" width="107.7" height="6.67" fill="url(#g60)"/>
<text x="481.2" y="551.57" font-size="6.2" fill="#2a2a2a" transform="translate(481.2,0) scale(0.93,1) translate(-481.2,0)">IGHM</text>
<rect x="260.2" y="552.35" width="107.1" height="6.67" fill="url(#g61)"/>
<rect x="370.8" y="552.35" width="107.7" height="6.67" fill="url(#g62)"/>
<text x="481.2" y="557.53" font-size="6.2" fill="#2a2a2a" transform="translate(481.2,0) scale(0.93,1) translate(-481.2,0)">GAB2</text>
<rect x="260.2" y="558.31" width="107.1" height="6.67" fill="url(#g63)"/>
<rect x="370.8" y="558.31" width="107.7" height="6.67" fill="url(#g64)"/>
<text x="481.2" y="563.5" font-size="6.2" fill="#2a2a2a" transform="translate(481.2,0) scale(0.93,1) translate(-481.2,0)">KIR2DL1</text>
<rect x="260.2" y="564.28" width="107.1" height="6.67" fill="url(#g65)"/>
<rect x="370.8" y="564.28" width="107.7" height="6.67" fill="url(#g66)"/>
<text x="481.2" y="569.46" font-size="6.2" fill="#2a2a2a" transform="translate(481.2,0) scale(0.93,1) translate(-481.2,0)">CX3CR1</text>
<rect x="260.2" y="570.24" width="107.1" height="6.67" fill="url(#g67)"/>
<rect x="370.8" y="570.24" width="107.7" height="6.67" fill="url(#g68)"/>
<text x="481.2" y="575.43" font-size="6.2" fill="#2a2a2a" transform="translate(481.2,0) scale(0.93,1) translate(-481.2,0)">LAG3</text>
<rect x="260.2" y="576.21" width="107.1" height="6.67" fill="url(#g69)"/>
<rect x="370.8" y="576.21" width="107.7" height="6.67" fill="url(#g70)"/>
<text x="481.2" y="581.39" font-size="6.2" fill="#2a2a2a" transform="translate(481.2,0) scale(0.93,1) translate(-481.2,0)">PLS3</text>
<rect x="260.2" y="582.17" width="107.1" height="6.67" fill="url(#g71)"/>
<rect x="370.8" y="582.17" width="107.7" height="6.67" fill="url(#g72)"/>
<text x="481.2" y="587.36" font-size="6.2" fill="#2a2a2a" transform="translate(481.2,0) scale(0.93,1) translate(-481.2,0)">ZBTB16</text>
<rect x="260.2" y="588.14" width="107.1" height="6.67" fill="url(#g73)"/>
<rect x="370.8" y="588.14" width="107.7" height="6.67" fill="url(#g74)"/>
<text x="481.2" y="593.32" font-size="6.2" fill="#2a2a2a" transform="translate(481.2,0) scale(0.93,1) translate(-481.2,0)">TWIST1</text>
<rect x="260.2" y="594.1" width="107.1" height="6.67" fill="url(#g75)"/>
<rect x="370.8" y="594.1" width="107.7" height="6.67" fill="url(#g76)"/>
<text x="481.2" y="599.29" font-size="6.2" fill="#2a2a2a" transform="translate(481.2,0) scale(0.93,1) translate(-481.2,0)">CD4</text>
<rect x="260.2" y="600.07" width="107.1" height="6.67" fill="url(#g77)"/>
<rect x="370.8" y="600.07" width="107.7" height="6.67" fill="url(#g78)"/>
<text x="481.2" y="605.25" font-size="6.2" fill="#2a2a2a" transform="translate(481.2,0) scale(0.93,1) translate(-481.2,0)">CD63</text>
<rect x="260.2" y="606.03" width="107.1" height="5.97" fill="url(#g79)"/>
<rect x="370.8" y="606.03" width="107.7" height="5.97" fill="url(#g80)"/>
<text x="481.2" y="611.22" font-size="6.2" fill="#2a2a2a" transform="translate(481.2,0) scale(0.93,1) translate(-481.2,0)">TOX</text>
<rect x="250.1" y="614.8" width="6.9" height="29.4" fill="#a050a8"/>
<rect x="260.2" y="614.8" width="107.1" height="6.58" fill="url(#g81)"/>
<rect x="370.8" y="614.8" width="107.7" height="6.58" fill="url(#g82)"/>
<text x="481.2" y="619.94" font-size="6.2" fill="#2a2a2a" transform="translate(481.2,0) scale(0.93,1) translate(-481.2,0)">DUSP4</text>
<rect x="260.2" y="620.68" width="107.1" height="6.58" fill="url(#g83)"/>
<rect x="370.8" y="620.68" width="107.7" height="6.58" fill="url(#g84)"/>
<text x="481.2" y="625.82" font-size="6.2" fill="#2a2a2a" transform="translate(481.2,0) scale(0.93,1) translate(-481.2,0)">FOXP3</text>
<rect x="260.2" y="626.56" width="107.1" height="6.58" fill="url(#g85)"/>
<rect x="370.8" y="626.56" width="107.7" height="6.58" fill="url(#g86)"/>
<text x="481.2" y="631.7" font-size="6.2" fill="#2a2a2a" transform="translate(481.2,0) scale(0.93,1) translate(-481.2,0)">HLA-DPA1</text>
<rect x="260.2" y="632.44" width="107.1" height="6.58" fill="url(#g87)"/>
<rect x="370.8" y="632.44" width="107.7" height="6.58" fill="url(#g88)"/>
<text x="481.2" y="637.58" font-size="6.2" fill="#2a2a2a" transform="translate(481.2,0) scale(0.93,1) translate(-481.2,0)">HLA-DRA</text>
<rect x="260.2" y="638.32" width="107.1" height="5.88" fill="url(#g89)"/>
<rect x="370.8" y="638.32" width="107.7" height="5.88" fill="url(#g90)"/>
<text x="481.2" y="643.46" font-size="6.2" fill="#2a2a2a" transform="translate(481.2,0) scale(0.93,1) translate(-481.2,0)">LGALS3</text>
<rect x="250.1" y="647.6" width="6.9" height="11.2" fill="#f5a21e"/>
<rect x="260.2" y="647.6" width="107.1" height="6.3" fill="url(#g91)"/>
<rect x="370.8" y="647.6" width="107.7" height="6.3" fill="url(#g92)"/>
<text x="481.2" y="652.6" font-size="6.2" fill="#2a2a2a" transform="translate(481.2,0) scale(0.93,1) translate(-481.2,0)">CCL5</text>
<rect x="260.2" y="653.2" width="107.1" height="5.6" fill="url(#g93)"/>
<rect x="370.8" y="653.2" width="107.7" height="5.6" fill="url(#g94)"/>
<text x="481.2" y="658.2" font-size="6.2" fill="#2a2a2a" transform="translate(481.2,0) scale(0.93,1) translate(-481.2,0)">PTGDR2</text>
<defs><linearGradient id="g1" x1="0" x2="1" y1="0" y2="0"><stop offset="0" stop-color="#c5bee2"/><stop offset="0.14" stop-color="#c5bee2"/><stop offset="0.29" stop-color="#cbc4e4"/><stop offset="0.43" stop-color="#cfc8e6"/><stop offset="0.57" stop-color="#e3dded"/><stop offset="0.71" stop-color="#f7c3b2"/><stop offset="0.86" stop-color="#ee7154"/><stop offset="1" stop-color="#eb5c3e"/></linearGradient><linearGradient id="g2" x1="0" x2="1" y1="0" y2="0"><stop offset="0" stop-color="#eb5c3e"/><stop offset="0.14" stop-color="#f4aa94"/><stop offset="0.29" stop-color="#f5d8d2"/><stop offset="0.43" stop-color="#e7e1ee"/><stop offset="0.57" stop-color="#bfb7df"/><stop offset="0.71" stop-color="#9d92d0"/><stop offset="0.86" stop-color="#7466bc"/><stop offset="1" stop-color="#41349f"/></linearGradient><linearGradient id="g3" x1="0" x2="1" y1="0" y2="0"><stop offset="0" stop-color="#b4abda"/><stop offset="0.14" stop-color="#b4abda"/><stop offset="0.29" stop-color="#bab1dc"/><stop offset="0.43" stop-color="#bfb7df"/><stop offset="0.57" stop-color="#dfd9ec"/><stop offset="0.71" stop-color="#f7c3b2"/><stop offset="0.86" stop-color="#ee765a"/><stop offset="1" stop-color="#ec6749"/></linearGradient><linearGradient id="g4" x1="0" x2="1" y1="0" y2="0"><stop offset="0" stop-color="#eb5c3e"/><stop offset="0.14" stop-color="#f29175"/><stop offset="0.29" stop-color="#f7c3b2"/><stop offset="0.43" stop-color="#f4e5e6"/><stop offset="0.57" stop-color="#d3cce7"/><stop offset="0.71" stop-color="#b4abda"/><stop offset="0.86" stop-color="#9d92d0"/><stop offset="1" stop-color="#8679c5"/></linearGradient><linearGradient id="g5" x1="0" x2="1" y1="0" y2="0"><stop offset="0" stop-color="#9185cb"/><stop offset="0.14" stop-color="#978bce"/><stop offset="0.29" stop-color="#9d92d0"/><stop offset="0.43" stop-color="#a89ed5"/><stop offset="0.57" stop-color="#dbd5ea"/><stop offset="0.71" stop-color="#f6b9a6"/><stop offset="0.86" stop-color="#ee7154"/><stop offset="1" stop-color="#ec6749"/></linearGradient><linearGradient id="g6" x1="0" x2="1" y1="0" y2="0"><stop offset="0" stop-color="#eb5c3e"/><stop offset="0.14" stop-color="#f29175"/><stop offset="0.29" stop-color="#f7c3b2"/><stop offset="0.43" stop-color="#f4e5e6"/><stop offset="0.57" stop-color="#d3cce7"/><stop offset="0.71" stop-color="#b4abda"/><stop offset="0.86" stop-color="#9d92d0"/><stop offset="1" stop-color="#8679c5"/></linearGradient><linearGradient id="g7" x1="0" x2="1" y1="0" y2="0"><stop offset="0" stop-color="#d3cce7"/><stop offset="0.14" stop-color="#cbc4e4"/><stop offset="0.29" stop-color="#c5bee2"/><stop offset="0.43" stop-color="#c5bee2"/><stop offset="0.57" stop-color="#e3dded"/><stop offset="0.71" stop-color="#f6beac"/><stop offset="0.86" stop-color="#ee765a"/><stop offset="1" stop-color="#ec6749"/></linearGradient><linearGradient id="g8" x1="0" x2="1" y1="0" y2="0"><stop offset="0" stop-color="#eb5c3e"/><stop offset="0.14" stop-color="#f29175"/><stop offset="0.29" stop-color="#f6beac"/><stop offset="0.43" stop-color="#f4e1e0"/><stop offset="0.57" stop-color="#d3cce7"/><stop offset="0.71" stop-color="#aea4d8"/><stop offset="0.86" stop-color="#9185cb"/><stop offset="1" stop-color="#7466bc"/></linearGradient><linearGradient id="g9" x1="0" x2="1" y1="0" y2="0"><stop offset="0" stop-color="#bfb7df"/><stop offset="0.14" stop-color="#bfb7df"/><stop offset="0.29" stop-color="#c5bee2"/><stop offset="0.43" stop-color="#c5bee2"/><stop offset="0.57" stop-color="#e3dded"/><stop offset="0.71" stop-color="#f7c3b2"/><stop offset="0.86" stop-color="#ee765a"/><stop offset="1" stop-color="#eb5c3e"/></linearGradient><linearGradient id="g10" x1="0" x2="1" y1="0" y2="0"><stop offset="0" stop-color="#eb5c3e"/><stop offset="0.14" stop-color="#f29175"/><stop offset="0.29" stop-color="#f6beac"/><stop offset="0.43" stop-color="#f4e1e0"/><stop offset="0.57" stop-color="#d3cce7"/><stop offset="0.71" stop-color="#b4abda"/><stop offset="0.86" stop-color="#9d92d0"/><stop offset="1" stop-color="#7466bc"/></linearGradient><linearGradient id="g11" x1="0" x2="1" y1="0" y2="0"><stop offset="0" stop-color="#c5bee2"/><stop offset="0.14" stop-color="#c5bee2"/><stop offset="0.29" stop-color="#c5bee2"/><stop offset="0.43" stop-color="#cfc8e6"/><stop offset="0.57" stop-color="#ebe6f0"/><stop offset="0.71" stop-color="#f6beac"/><stop offset="0.86" stop-color="#ee765a"/><stop offset="1" stop-color="#eb5c3e"/></linearGradient><linearGradient id="g12" x1="0" x2="1" y1="0" y2="0"><stop offset="0" stop-color="#eb5c3e"/><stop offset="0.14" stop-color="#f29175"/><stop offset="0.29" stop-color="#f6beac"/><stop offset="0.43" stop-color="#f4e1e0"/><stop offset="0.57" stop-color="#d7d1e8"/><stop offset="0.71" stop-color="#bab1dc"/><stop offset="0.86" stop-color="#9d92d0"/><stop offset="1" stop-color="#8679c5"/></linearGradient><linearGradient id="g13" x1="0" x2="1" y1="0" y2="0"><stop offset="0" stop-color="#4537a1"/><stop offset="0.14" stop-color="#5848ac"/><stop offset="0.29" stop-color="#7466bc"/><stop offset="0.43" stop-color="#bfb7df"/><stop offset="0.57" stop-color="#f7c3b2"/><stop offset="0.71" stop-color="#f6b4a0"/><stop offset="0.86" stop-color="#f4aa94"/><stop offset="1" stop-color="#f4a087"/></linearGradient><linearGradient id="g14" x1="0" x2="1" y1="0" y2="0"><stop offset="0" stop-color="#f1866a"/><stop offset="0.14" stop-color="#f4a58d"/><stop offset="0.29" stop-color="#f7c3b2"/><stop offset="0.43" stop-color="#f5d4cc"/><stop offset="0.57" stop-color="#f4e1e0"/><stop offset="0.71" stop-color="#f4e5e6"/><stop offset="0.86" stop-color="#f3eaec"/><stop offset="1" stop-color="#f3eaec"/></linearGradient><linearGradient id="g15" x1="0" x2="1" y1="0" y2="0"><stop offset="0" stop-color="#7466bc"/><stop offset="0.14" stop-color="#8073c2"/><stop offset="0.29" stop-color="#9185cb"/><stop offset="0.43" stop-color="#cbc4e4"/><stop offset="0.57" stop-color="#f7c3b2"/><stop offset="0.71" stop-color="#f6b4a0"/><stop offset="0.86" stop-color="#f5af9a"/><stop offset="1" stop-color="#f4a087"/></linearGradient><linearGradient id="g16" x1="0" x2="1" y1="0" y2="0"><stop offset="0" stop-color="#f1866a"/><stop offset="0.14" stop-color="#f39b81"/><stop offset="0.29" stop-color="#f4aa94"/><stop offset="0.43" stop-color="#f6b4a0"/><stop offset="0.57" stop-color="#f6beac"/><stop offset="0.71" stop-color="#f7c7b8"/><stop offset="0.86" stop-color="#f7c3b2"/><stop offset="1" stop-color="#f6b4a0"/></linearGradient><linearGradient id="g17" x1="0" x2="1" y1="0" y2="0"><stop offset="0" stop-color="#8073c2"/><stop offset="0.14" stop-color="#8679c5"/><stop offset="0.29" stop-color="#9185cb"/><stop offset="0.43" stop-color="#cbc4e4"/><stop offset="0.57" stop-color="#f7c3b2"/><stop offset="0.71" stop-color="#f6b9a6"/><stop offset="0.86" stop-color="#f5af9a"/><stop offset="1" stop-color="#f2967b"/></linearGradient><linearGradient id="g18" x1="0" x2="1" y1="0" y2="0"><stop offset="0" stop-color="#ef7c5f"/><stop offset="0.14" stop-color="#f39b81"/><stop offset="0.29" stop-color="#f5af9a"/><stop offset="0.43" stop-color="#f6beac"/><stop offset="0.57" stop-color="#f6d0c6"/><stop offset="0.71" stop-color="#f5ddd9"/><stop offset="0.86" stop-color="#f5d4cc"/><stop offset="1" stop-color="#f7c7b8"/></linearGradient><linearGradient id="g19" x1="0" x2="1" y1="0" y2="0"><stop offset="0" stop-color="#9185cb"/><stop offset="0.14" stop-color="#9185cb"/><stop offset="0.29" stop-color="#9d92d0"/><stop offset="0.43" stop-color="#cbc4e4"/><stop offset="0.57" stop-color="#f7c3b2"/><stop offset="0.71" stop-color="#f5af9a"/><stop offset="0.86" stop-color="#f39b81"/><stop offset="1" stop-color="#eb5c3e"/></linearGradient><linearGradient id="g20" x1="0" x2="1" y1="0" y2="0"><stop offset="0" stop-color="#ea5538"/><stop offset="0.14" stop-color="#f1866a"/><stop offset="0.29" stop-color="#f4a087"/><stop offset="0.43" stop-color="#f4aa94"/><stop offset="0.57" stop-color="#f6ccbf"/><stop offset="0.71" stop-color="#e7e1ee"/><stop offset="0.86" stop-color="#bfb7df"/><stop offset="1" stop-color="#aea4d8"/></linearGradient><linearGradient id="g21" x1="0" x2="1" y1="0" y2="0"><stop offset="0" stop-color="#7466bc"/><stop offset="0.14" stop-color="#8679c5"/><stop offset="0.29" stop-color="#9185cb"/><stop offset="0.43" stop-color="#cbc4e4"/><stop offset="0.57" stop-color="#f6beac"/><stop offset="0.71" stop-color="#f4aa94"/><stop offset="0.86" stop-color="#f4a087"/><stop offset="1" stop-color="#f18c70"/></linearGradient><linearGradient id="g22" x1="0" x2="1" y1="0" y2="0"><stop offset="0" stop-color="#f08165"/><stop offset="0.14" stop-color="#f39b81"/><stop offset="0.29" stop-color="#f4aa94"/><stop offset="0.43" stop-color="#f6beac"/><stop offset="0.57" stop-color="#f4e1e0"/><stop offset="0.71" stop-color="#dfd9ec"/><stop offset="0.86" stop-color="#cbc4e4"/><stop offset="1" stop-color="#bfb7df"/></linearGradient><linearGradient id="g23" x1="0" x2="1" y1="0" y2="0"><stop offset="0" stop-color="#4537a1"/><stop offset="0.14" stop-color="#5041a8"/><stop offset="0.29" stop-color="#7466bc"/><stop offset="0.43" stop-color="#bfb7df"/><stop offset="0.57" stop-color="#f7c3b2"/><stop offset="0.71" stop-color="#f4aa94"/><stop offset="0.86" stop-color="#f4a087"/><stop offset="1" stop-color="#f18c70"/></linearGradient><linearGradient id="g24" x1="0" x2="1" y1="0" y2="0"><stop offset="0" stop-color="#f08165"/><stop offset="0.14" stop-color="#f39b81"/><stop offset="0.29" stop-color="#f5af9a"/><stop offset="0.43" stop-color="#f7c7b8"/><stop offset="0.57" stop-color="#f4e5e6"/><stop offset="0.71" stop-color="#d3cce7"/><stop offset="0.86" stop-color="#bfb7df"/><stop offset="1" stop-color="#aea4d8"/></linearGradient><linearGradient id="g25" x1="0" x2="1" y1="0" y2="0"><stop offset="0" stop-color="#5848ac"/><stop offset="0.14" stop-color="#6354b2"/><stop offset="0.29" stop-color="#7466bc"/><stop offset="0.43" stop-color="#bfb7df"/><stop offset="0.57" stop-color="#f7c3b2"/><stop offset="0.71" stop-color="#f4aa94"/><stop offset="0.86" stop-color="#f4a087"/><stop offset="1" stop-color="#f18c70"/></linearGradient><linearGradient id="g26" x1="0" x2="1" y1="0" y2="0"><stop offset="0" stop-color="#ef7c5f"/><stop offset="0.14" stop-color="#f29175"/><stop offset="0.29" stop-color="#f4a58d"/><stop offset="0.43" stop-color="#f7c3b2"/><stop offset="0.57" stop-color="#f3eef3"/><stop offset="0.71" stop-color="#cbc4e4"/><stop offset="0.86" stop-color="#bfb7df"/><stop offset="1" stop-color="#bab1dc"/></linearGradient><linearGradient id="g27" x1="0" x2="1" y1="0" y2="0"><stop offset="0" stop-color="#7466bc"/><stop offset="0.14" stop-color="#8073c2"/><stop offset="0.29" stop-color="#9185cb"/><stop offset="0.43" stop-color="#cbc4e4"/><stop offset="0.57" stop-color="#f7c3b2"/><stop offset="0.71" stop-color="#f4aa94"/><stop offset="0.86" stop-color="#f39b81"/><stop offset="1" stop-color="#f08165"/></linearGradient><linearGradient id="g28" x1="0" x2="1" y1="0" y2="0"><stop offset="0" stop-color="#f08165"/><stop offset="0.14" stop-color="#f39b81"/><stop offset="0.29" stop-color="#f6b4a0"/><stop offset="0.43" stop-color="#f5d8d2"/><stop offset="0.57" stop-color="#dfd9ec"/><stop offset="0.71" stop-color="#bfb7df"/><stop offset="0.86" stop-color="#aea4d8"/><stop offset="1" stop-color="#aea4d8"/></linearGradient><linearGradient id="g29" x1="0" x2="1" y1="0" y2="0"><stop offset="0" stop-color="#9185cb"/><stop offset="0.14" stop-color="#9185cb"/><stop offset="0.29" stop-color="#9d92d0"/><stop offset="0.43" stop-color="#b4abda"/><stop offset="0.57" stop-color="#f4e1e0"/><stop offset="0.71" stop-color="#f6b9a6"/><stop offset="0.86" stop-color="#f4a58d"/><stop offset="1" stop-color="#f18c70"/></linearGradient><linearGradient id="g30" x1="0" x2="1" y1="0" y2="0"><stop offset="0" stop-color="#f08165"/><stop offset="0.14" stop-color="#f4a087"/><stop offset="0.29" stop-color="#f6ccbf"/><stop offset="0.43" stop-color="#dfd9ec"/><stop offset="0.57" stop-color="#bfb7df"/><stop offset="0.71" stop-color="#aea4d8"/><stop offset="0.86" stop-color="#aea4d8"/><stop offset="1" stop-color="#aea4d8"/></linearGradient><linearGradient id="g31" x1="0" x2="1" y1="0" y2="0"><stop offset="0" stop-color="#9185cb"/><stop offset="0.14" stop-color="#9185cb"/><stop offset="0.29" stop-color="#9d92d0"/><stop offset="0.43" stop-color="#b4abda"/><stop offset="0.57" stop-color="#f4e1e0"/><stop offset="0.71" stop-color="#f6b9a6"/><stop offset="0.86" stop-color="#f4a087"/><stop offset="1" stop-color="#f08165"/></linearGradient><linearGradient id="g32" x1="0" x2="1" y1="0" y2="0"><stop offset="0" stop-color="#ef7c5f"/><stop offset="0.14" stop-color="#f29175"/><stop offset="0.29" stop-color="#f6b4a0"/><stop offset="0.43" stop-color="#f5d8d2"/><stop offset="0.57" stop-color="#dfd9ec"/><stop offset="0.71" stop-color="#bfb7df"/><stop offset="0.86" stop-color="#aea4d8"/><stop offset="1" stop-color="#9d92d0"/></linearGradient><linearGradient id="g33" x1="0" x2="1" y1="0" y2="0"><stop offset="0" stop-color="#9185cb"/><stop offset="0.14" stop-color="#9185cb"/><stop offset="0.29" stop-color="#9d92d0"/><stop offset="0.43" stop-color="#b4abda"/><stop offset="0.57" stop-color="#f4e1e0"/><stop offset="0.71" stop-color="#f6b9a6"/><stop offset="0.86" stop-color="#f2967b"/><stop offset="1" stop-color="#eb5c3e"/></linearGradient><linearGradient id="g34" x1="0" x2="1" y1="0" y2="0"><stop offset="0" stop-color="#ea5538"/><stop offset="0.14" stop-color="#f29175"/><stop offset="0.29" stop-color="#f4a58d"/><stop offset="0.43" stop-color="#f6ccbf"/><stop offset="0.57" stop-color="#f3eef3"/><stop offset="0.71" stop-color="#d3cce7"/><stop offset="0.86" stop-color="#bfb7df"/><stop offset="1" stop-color="#aea4d8"/></linearGradient><linearGradient id="g35" x1="0" x2="1" y1="0" y2="0"><stop offset="0" stop-color="#f6b9a6"/><stop offset="0.14" stop-color="#f6b9a6"/><stop offset="0.29" stop-color="#f6b9a6"/><stop offset="0.43" stop-color="#f7c3b2"/><stop offset="0.57" stop-color="#f5d4cc"/><stop offset="0.71" stop-color="#f3eef3"/><stop offset="0.86" stop-color="#bab1dc"/><stop offset="1" stop-color="#4537a1"/></linearGradient><linearGradient id="g36" x1="0" x2="1" y1="0" y2="0"><stop offset="0" stop-color="#5041a8"/><stop offset="0.14" stop-color="#bfb7df"/><stop offset="0.29" stop-color="#f3eef3"/><stop offset="0.43" stop-color="#f7c3b2"/><stop offset="0.57" stop-color="#f6b9a6"/><stop offset="0.71" stop-color="#f6b4a0"/><stop offset="0.86" stop-color="#f4aa94"/><stop offset="1" stop-color="#f29175"/></linearGradient><linearGradient id="g37" x1="0" x2="1" y1="0" y2="0"><stop offset="0" stop-color="#f4aa94"/><stop offset="0.14" stop-color="#f6b4a0"/><stop offset="0.29" stop-color="#f6b4a0"/><stop offset="0.43" stop-color="#f7c3b2"/><stop offset="0.57" stop-color="#f4e1e0"/><stop offset="0.71" stop-color="#d3cce7"/><stop offset="0.86" stop-color="#9185cb"/><stop offset="1" stop-color="#5041a8"/></linearGradient><linearGradient id="g38" x1="0" x2="1" y1="0" y2="0"><stop offset="0" stop-color="#7466bc"/><stop offset="0.14" stop-color="#aea4d8"/><stop offset="0.29" stop-color="#bfb7df"/><stop offset="0.43" stop-color="#dfd9ec"/><stop offset="0.57" stop-color="#f5d8d2"/><stop offset="0.71" stop-color="#f6b4a0"/><stop offset="0.86" stop-color="#f39b81"/><stop offset="1" stop-color="#ee765a"/></linearGradient><linearGradient id="g39" x1="0" x2="1" y1="0" y2="0"><stop offset="0" stop-color="#f39b81"/><stop offset="0.14" stop-color="#f4aa94"/><stop offset="0.29" stop-color="#f6b4a0"/><stop offset="0.43" stop-color="#f6ccbf"/><stop offset="0.57" stop-color="#ebe6f0"/><stop offset="0.71" stop-color="#bfb7df"/><stop offset="0.86" stop-color="#9185cb"/><stop offset="1" stop-color="#6354b2"/></linearGradient><linearGradient id="g40" x1="0" x2="1" y1="0" y2="0"><stop offset="0" stop-color="#8679c5"/><stop offset="0.14" stop-color="#aea4d8"/><stop offset="0.29" stop-color="#bfb7df"/><stop offset="0.43" stop-color="#dbd5ea"/><stop offset="0.57" stop-color="#f5d8d2"/><stop offset="0.71" stop-color="#f4aa94"/><stop offset="0.86" stop-color="#f29175"/><stop offset="1" stop-color="#ee765a"/></linearGradient><linearGradient id="g41" x1="0" x2="1" y1="0" y2="0"><stop offset="0" stop-color="#f4aa94"/><stop offset="0.14" stop-color="#f29175"/><stop offset="0.29" stop-color="#f1866a"/><stop offset="0.43" stop-color="#f4aa94"/><stop offset="0.57" stop-color="#ebe6f0"/><stop offset="0.71" stop-color="#bfb7df"/><stop offset="0.86" stop-color="#9d92d0"/><stop offset="1" stop-color="#8679c5"/></linearGradient><linearGradient id="g42" x1="0" x2="1" y1="0" y2="0"><stop offset="0" stop-color="#9d92d0"/><stop offset="0.14" stop-color="#9185cb"/><stop offset="0.29" stop-color="#9185cb"/><stop offset="0.43" stop-color="#bfb7df"/><stop offset="0.57" stop-color="#ebe6f0"/><stop offset="0.71" stop-color="#f6b9a6"/><stop offset="0.86" stop-color="#f39b81"/><stop offset="1" stop-color="#f29175"/></linearGradient><linearGradient id="g43" x1="0" x2="1" y1="0" y2="0"><stop offset="0" stop-color="#f29175"/><stop offset="0.14" stop-color="#f39b81"/><stop offset="0.29" stop-color="#f4aa94"/><stop offset="0.43" stop-color="#f6ccbf"/><stop offset="0.57" stop-color="#dfd9ec"/><stop offset="0.71" stop-color="#bab1dc"/><stop offset="0.86" stop-color="#9d92d0"/><stop offset="1" stop-color="#8679c5"/></linearGradient><linearGradient id="g44" x1="0" x2="1" y1="0" y2="0"><stop offset="0" stop-color="#aea4d8"/><stop offset="0.14" stop-color="#bab1dc"/><stop offset="0.29" stop-color="#9d92d0"/><stop offset="0.43" stop-color="#aea4d8"/><stop offset="0.57" stop-color="#e7e1ee"/><stop offset="0.71" stop-color="#f6ccbf"/><stop offset="0.86" stop-color="#f6b9a6"/><stop offset="1" stop-color="#f4aa94"/></linearGradient><linearGradient id="g45" x1="0" x2="1" y1="0" y2="0"><stop offset="0" stop-color="#eb5c3e"/><stop offset="0.14" stop-color="#f29175"/><stop offset="0.29" stop-color="#f4aa94"/><stop offset="0.43" stop-color="#f5d8d2"/><stop offset="0.57" stop-color="#d3cce7"/><stop offset="0.71" stop-color="#aea4d8"/><stop offset="0.86" stop-color="#9d92d0"/><stop offset="1" stop-color="#8679c5"/></linearGradient><linearGradient id="g46" x1="0" x2="1" y1="0" y2="0"><stop offset="0" stop-color="#9185cb"/><stop offset="0.14" stop-color="#aea4d8"/><stop offset="0.29" stop-color="#bab1dc"/><stop offset="0.43" stop-color="#cbc4e4"/><stop offset="0.57" stop-color="#e7e1ee"/><stop offset="0.71" stop-color="#f5d4cc"/><stop offset="0.86" stop-color="#f4aa94"/><stop offset="1" stop-color="#f39b81"/></linearGradient><linearGradient id="g47" x1="0" x2="1" y1="0" y2="0"><stop offset="0" stop-color="#eb5c3e"/><stop offset="0.14" stop-color="#f29175"/><stop offset="0.29" stop-color="#f6b4a0"/><stop offset="0.43" stop-color="#f4e1e0"/><stop offset="0.57" stop-color="#cfc8e6"/><stop offset="0.71" stop-color="#bab1dc"/><stop offset="0.86" stop-color="#a89ed5"/><stop offset="1" stop-color="#9185cb"/></linearGradient><linearGradient id="g48" x1="0" x2="1" y1="0" y2="0"><stop offset="0" stop-color="#9d92d0"/><stop offset="0.14" stop-color="#b4abda"/><stop offset="0.29" stop-color="#bfb7df"/><stop offset="0.43" stop-color="#cfc8e6"/><stop offset="0.57" stop-color="#f3eef3"/><stop offset="0.71" stop-color="#f6ccbf"/><stop offset="0.86" stop-color="#f4aa94"/><stop offset="1" stop-color="#f39b81"/></linearGradient><linearGradient id="g49" x1="0" x2="1" y1="0" y2="0"><stop offset="0" stop-color="#e84a2f"/><stop offset="0.14" stop-color="#f1866a"/><stop offset="0.29" stop-color="#f4aa94"/><stop offset="0.43" stop-color="#f4e1e0"/><stop offset="0.57" stop-color="#cbc4e4"/><stop offset="0.71" stop-color="#aea4d8"/><stop offset="0.86" stop-color="#9d92d0"/><stop offset="1" stop-color="#8679c5"/></linearGradient><linearGradient id="g50" x1="0" x2="1" y1="0" y2="0"><stop offset="0" stop-color="#9d92d0"/><stop offset="0.14" stop-color="#aea4d8"/><stop offset="0.29" stop-color="#bfb7df"/><stop offset="0.43" stop-color="#d3cce7"/><stop offset="0.57" stop-color="#f3eef3"/><stop offset="0.71" stop-color="#f7c3b2"/><stop offset="0.86" stop-color="#f4aa94"/><stop offset="1" stop-color="#f1866a"/></linearGradient><linearGradient id="g51" x1="0" x2="1" y1="0" y2="0"><stop offset="0" stop-color="#e84a2f"/><stop offset="0.14" stop-color="#f1866a"/><stop offset="0.29" stop-color="#f6b9a6"/><stop offset="0.43" stop-color="#f3eef3"/><stop offset="0.57" stop-color="#cbc4e4"/><stop offset="0.71" stop-color="#bab1dc"/><stop offset="0.86" stop-color="#aea4d8"/><stop offset="1" stop-color="#9185cb"/></linearGradient><linearGradient id="g52" x1="0" x2="1" y1="0" y2="0"><stop offset="0" stop-color="#9185cb"/><stop offset="0.14" stop-color="#9d92d0"/><stop offset="0.29" stop-color="#aea4d8"/><stop offset="0.43" stop-color="#bfb7df"/><stop offset="0.57" stop-color="#d3cce7"/><stop offset="0.71" stop-color="#f4e1e0"/><stop offset="0.86" stop-color="#f4aa94"/><stop offset="1" stop-color="#f29175"/></linearGradient><linearGradient id="g53" x1="0" x2="1" y1="0" y2="0"><stop offset="0" stop-color="#e84a2f"/><stop offset="0.14" stop-color="#f29175"/><stop offset="0.29" stop-color="#f6ccbf"/><stop offset="0.43" stop-color="#dfd9ec"/><stop offset="0.57" stop-color="#cbc4e4"/><stop offset="0.71" stop-color="#c5bee2"/><stop offset="0.86" stop-color="#bfb7df"/><stop offset="1" stop-color="#aea4d8"/></linearGradient><linearGradient id="g54" x1="0" x2="1" y1="0" y2="0"><stop offset="0" stop-color="#9d92d0"/><stop offset="0.14" stop-color="#aea4d8"/><stop offset="0.29" stop-color="#bfb7df"/><stop offset="0.43" stop-color="#bfb7df"/><stop offset="0.57" stop-color="#d3cce7"/><stop offset="0.71" stop-color="#f3eef3"/><stop offset="0.86" stop-color="#f6b9a6"/><stop offset="1" stop-color="#f39b81"/></linearGradient><linearGradient id="g55" x1="0" x2="1" y1="0" y2="0"><stop offset="0" stop-color="#e53f26"/><stop offset="0.14" stop-color="#f29175"/><stop offset="0.29" stop-color="#f5d8d2"/><stop offset="0.43" stop-color="#d3cce7"/><stop offset="0.57" stop-color="#c5bee2"/><stop offset="0.71" stop-color="#bfb7df"/><stop offset="0.86" stop-color="#bab1dc"/><stop offset="1" stop-color="#9d92d0"/></linearGradient><linearGradient id="g56" x1="0" x2="1" y1="0" y2="0"><stop offset="0" stop-color="#8679c5"/><stop offset="0.14" stop-color="#9185cb"/><stop offset="0.29" stop-color="#aea4d8"/><stop offset="0.43" stop-color="#bfb7df"/><stop offset="0.57" stop-color="#cbc4e4"/><stop offset="0.71" stop-color="#ebe6f0"/><stop offset="0.86" stop-color="#f7c3b2"/><stop offset="1" stop-color="#f39b81"/></linearGradient><linearGradient id="g57" x1="0" x2="1" y1="0" y2="0"><stop offset="0" stop-color="#e43820"/><stop offset="0.14" stop-color="#f29175"/><stop offset="0.29" stop-color="#f4e1e0"/><stop offset="0.43" stop-color="#d3cce7"/><stop offset="0.57" stop-color="#cbc4e4"/><stop offset="0.71" stop-color="#c5bee2"/><stop offset="0.86" stop-color="#c5bee2"/><stop offset="1" stop-color="#bab1dc"/></linearGradient><linearGradient id="g58" x1="0" x2="1" y1="0" y2="0"><stop offset="0" stop-color="#bfb7df"/><stop offset="0.14" stop-color="#bfb7df"/><stop offset="0.29" stop-color="#c5bee2"/><stop offset="0.43" stop-color="#c5bee2"/><stop offset="0.57" stop-color="#cbc4e4"/><stop offset="0.71" stop-color="#e7e1ee"/><stop offset="0.86" stop-color="#f6ccbf"/><stop offset="1" stop-color="#f4aa94"/></linearGradient><linearGradient id="g59" x1="0" x2="1" y1="0" y2="0"><stop offset="0" stop-color="#e43820"/><stop offset="0.14" stop-color="#f39b81"/><stop offset="0.29" stop-color="#f3eef3"/><stop offset="0.43" stop-color="#cbc4e4"/><stop offset="0.57" stop-color="#c5bee2"/><stop offset="0.71" stop-color="#c5bee2"/><stop offset="0.86" stop-color="#c5bee2"/><stop offset="1" stop-color="#bab1dc"/></linearGradient><linearGradient id="g60" x1="0" x2="1" y1="0" y2="0"><stop offset="0" stop-color="#bab1dc"/><stop offset="0.14" stop-color="#bfb7df"/><stop offset="0.29" stop-color="#bfb7df"/><stop offset="0.43" stop-color="#c5bee2"/><stop offset="0.57" stop-color="#cbc4e4"/><stop offset="0.71" stop-color="#d3cce7"/><stop offset="0.86" stop-color="#ebe6f0"/><stop offset="1" stop-color="#f6ccbf"/></linearGradient><linearGradient id="g61" x1="0" x2="1" y1="0" y2="0"><stop offset="0" stop-color="#e43820"/><stop offset="0.14" stop-color="#f4aa94"/><stop offset="0.29" stop-color="#f4e1e0"/><stop offset="0.43" stop-color="#d3cce7"/><stop offset="0.57" stop-color="#d3cce7"/><stop offset="0.71" stop-color="#f5d8d2"/><stop offset="0.86" stop-color="#cbc4e4"/><stop offset="1" stop-color="#bab1dc"/></linearGradient><linearGradient id="g62" x1="0" x2="1" y1="0" y2="0"><stop offset="0" stop-color="#aea4d8"/><stop offset="0.14" stop-color="#bfb7df"/><stop offset="0.29" stop-color="#f6ccbf"/><stop offset="0.43" stop-color="#cbc4e4"/><stop offset="0.57" stop-color="#bfb7df"/><stop offset="0.71" stop-color="#bfb7df"/><stop offset="0.86" stop-color="#dfd9ec"/><stop offset="1" stop-color="#e84a2f"/></linearGradient><linearGradient id="g63" x1="0" x2="1" y1="0" y2="0"><stop offset="0" stop-color="#e43820"/><stop offset="0.14" stop-color="#f1866a"/><stop offset="0.29" stop-color="#f5d8d2"/><stop offset="0.43" stop-color="#d3cce7"/><stop offset="0.57" stop-color="#cbc4e4"/><stop offset="0.71" stop-color="#c5bee2"/><stop offset="0.86" stop-color="#c5bee2"/><stop offset="1" stop-color="#c5bee2"/></linearGradient><linearGradient id="g64" x1="0" x2="1" y1="0" y2="0"><stop offset="0" stop-color="#bfb7df"/><stop offset="0.14" stop-color="#bfb7df"/><stop offset="0.29" stop-color="#bfb7df"/><stop offset="0.43" stop-color="#cbc4e4"/><stop offset="0.57" stop-color="#cbc4e4"/><stop offset="0.71" stop-color="#cbc4e4"/><stop offset="0.86" stop-color="#f3eef3"/><stop offset="1" stop-color="#eb5c3e"/></linearGradient><linearGradient id="g65" x1="0" x2="1" y1="0" y2="0"><stop offset="0" stop-color="#e43820"/><stop offset="0.14" stop-color="#f1866a"/><stop offset="0.29" stop-color="#f4e1e0"/><stop offset="0.43" stop-color="#cbc4e4"/><stop offset="0.57" stop-color="#c5bee2"/><stop offset="0.71" stop-color="#c5bee2"/><stop offset="0.86" stop-color="#bfb7df"/><stop offset="1" stop-color="#bab1dc"/></linearGradient><linearGradient id="g66" x1="0" x2="1" y1="0" y2="0"><stop offset="0" stop-color="#bfb7df"/><stop offset="0.14" stop-color="#bfb7df"/><stop offset="0.29" stop-color="#bfb7df"/><stop offset="0.43" stop-color="#bfb7df"/><stop offset="0.57" stop-color="#bfb7df"/><stop offset="0.71" stop-color="#cbc4e4"/><stop offset="0.86" stop-color="#d3cce7"/><stop offset="1" stop-color="#d3cce7"/></linearGradient><linearGradient id="g67" x1="0" x2="1" y1="0" y2="0"><stop offset="0" stop-color="#e43820"/><stop offset="0.14" stop-color="#f39b81"/><stop offset="0.29" stop-color="#f4e5e6"/><stop offset="0.43" stop-color="#cbc4e4"/><stop offset="0.57" stop-color="#c5bee2"/><stop offset="0.71" stop-color="#c5bee2"/><stop offset="0.86" stop-color="#bfb7df"/><stop offset="1" stop-color="#bab1dc"/></linearGradient><linearGradient id="g68" x1="0" x2="1" y1="0" y2="0"><stop offset="0" stop-color="#9d92d0"/><stop offset="0.14" stop-color="#aea4d8"/><stop offset="0.29" stop-color="#bfb7df"/><stop offset="0.43" stop-color="#bfb7df"/><stop offset="0.57" stop-color="#bfb7df"/><stop offset="0.71" stop-color="#cbc4e4"/><stop offset="0.86" stop-color="#cbc4e4"/><stop offset="1" stop-color="#cbc4e4"/></linearGradient><linearGradient id="g69" x1="0" x2="1" y1="0" y2="0"><stop offset="0" stop-color="#e43820"/><stop offset="0.14" stop-color="#f29175"/><stop offset="0.29" stop-color="#f5d8d2"/><stop offset="0.43" stop-color="#d3cce7"/><stop offset="0.57" stop-color="#c5bee2"/><stop offset="0.71" stop-color="#c5bee2"/><stop offset="0.86" stop-color="#c5bee2"/><stop offset="1" stop-color="#bfb7df"/></linearGradient><linearGradient id="g70" x1="0" x2="1" y1="0" y2="0"><stop offset="0" stop-color="#bfb7df"/><stop offset="0.14" stop-color="#bfb7df"/><stop offset="0.29" stop-color="#bfb7df"/><stop offset="0.43" stop-color="#bfb7df"/><stop offset="0.57" stop-color="#bfb7df"/><stop offset="0.71" stop-color="#bfb7df"/><stop offset="0.86" stop-color="#bfb7df"/><stop offset="1" stop-color="#cbc4e4"/></linearGradient><linearGradient id="g71" x1="0" x2="1" y1="0" y2="0"><stop offset="0" stop-color="#e43820"/><stop offset="0.14" stop-color="#f1866a"/><stop offset="0.29" stop-color="#f6ccbf"/><stop offset="0.43" stop-color="#dfd9ec"/><stop offset="0.57" stop-color="#cbc4e4"/><stop offset="0.71" stop-color="#c5bee2"/><stop offset="0.86" stop-color="#c5bee2"/><stop offset="1" stop-color="#bab1dc"/></linearGradient><linearGradient id="g72" x1="0" x2="1" y1="0" y2="0"><stop offset="0" stop-color="#aea4d8"/><stop offset="0.14" stop-color="#bfb7df"/><stop offset="0.29" stop-color="#bfb7df"/><stop offset="0.43" stop-color="#bfb7df"/><stop offset="0.57" stop-color="#bfb7df"/><stop offset="0.71" stop-color="#cbc4e4"/><stop offset="0.86" stop-color="#bfb7df"/><stop offset="1" stop-color="#bfb7df"/></linearGradient><linearGradient id="g73" x1="0" x2="1" y1="0" y2="0"><stop offset="0" stop-color="#e84a2f"/><stop offset="0.14" stop-color="#ec6749"/><stop offset="0.29" stop-color="#f29175"/><stop offset="0.43" stop-color="#f5d8d2"/><stop offset="0.57" stop-color="#cbc4e4"/><stop offset="0.71" stop-color="#bab1dc"/><stop offset="0.86" stop-color="#aea4d8"/><stop offset="1" stop-color="#9185cb"/></linearGradient><linearGradient id="g74" x1="0" x2="1" y1="0" y2="0"><stop offset="0" stop-color="#9185cb"/><stop offset="0.14" stop-color="#aea4d8"/><stop offset="0.29" stop-color="#bfb7df"/><stop offset="0.43" stop-color="#cbc4e4"/><stop offset="0.57" stop-color="#dfd9ec"/><stop offset="0.71" stop-color="#f4e1e0"/><stop offset="0.86" stop-color="#f3eef3"/><stop offset="1" stop-color="#cbc4e4"/></linearGradient><linearGradient id="g75" x1="0" x2="1" y1="0" y2="0"><stop offset="0" stop-color="#e84a2f"/><stop offset="0.14" stop-color="#f1866a"/><stop offset="0.29" stop-color="#f29175"/><stop offset="0.43" stop-color="#f5d8d2"/><stop offset="0.57" stop-color="#cbc4e4"/><stop offset="0.71" stop-color="#bfb7df"/><stop offset="0.86" stop-color="#aea4d8"/><stop offset="1" stop-color="#7466bc"/></linearGradient><linearGradient id="g76" x1="0" x2="1" y1="0" y2="0"><stop offset="0" stop-color="#7466bc"/><stop offset="0.14" stop-color="#9185cb"/><stop offset="0.29" stop-color="#bfb7df"/><stop offset="0.43" stop-color="#dfd9ec"/><stop offset="0.57" stop-color="#f5d8d2"/><stop offset="0.71" stop-color="#f6ccbf"/><stop offset="0.86" stop-color="#f6ccbf"/><stop offset="1" stop-color="#f5d8d2"/></linearGradient><linearGradient id="g77" x1="0" x2="1" y1="0" y2="0"><stop offset="0" stop-color="#e84a2f"/><stop offset="0.14" stop-color="#ee765a"/><stop offset="0.29" stop-color="#f4aa94"/><stop offset="0.43" stop-color="#f5d8d2"/><stop offset="0.57" stop-color="#d3cce7"/><stop offset="0.71" stop-color="#bfb7df"/><stop offset="0.86" stop-color="#aea4d8"/><stop offset="1" stop-color="#9185cb"/></linearGradient><linearGradient id="g78" x1="0" x2="1" y1="0" y2="0"><stop offset="0" stop-color="#9185cb"/><stop offset="0.14" stop-color="#aea4d8"/><stop offset="0.29" stop-color="#cbc4e4"/><stop offset="0.43" stop-color="#ebe6f0"/><stop offset="0.57" stop-color="#f5d8d2"/><stop offset="0.71" stop-color="#f6ccbf"/><stop offset="0.86" stop-color="#f6ccbf"/><stop offset="1" stop-color="#f5d8d2"/></linearGradient><linearGradient id="g79" x1="0" x2="1" y1="0" y2="0"><stop offset="0" stop-color="#e53f26"/><stop offset="0.14" stop-color="#ee765a"/><stop offset="0.29" stop-color="#f4aa94"/><stop offset="0.43" stop-color="#f3eef3"/><stop offset="0.57" stop-color="#cbc4e4"/><stop offset="0.71" stop-color="#bfb7df"/><stop offset="0.86" stop-color="#bab1dc"/><stop offset="1" stop-color="#aea4d8"/></linearGradient><linearGradient id="g80" x1="0" x2="1" y1="0" y2="0"><stop offset="0" stop-color="#aea4d8"/><stop offset="0.14" stop-color="#bfb7df"/><stop offset="0.29" stop-color="#cbc4e4"/><stop offset="0.43" stop-color="#dfd9ec"/><stop offset="0.57" stop-color="#f3eef3"/><stop offset="0.71" stop-color="#f5d8d2"/><stop offset="0.86" stop-color="#f5d8d2"/><stop offset="1" stop-color="#f4e1e0"/></linearGradient><linearGradient id="g81" x1="0" x2="1" y1="0" y2="0"><stop offset="0" stop-color="#f7c3b2"/><stop offset="0.14" stop-color="#f6b9a6"/><stop offset="0.29" stop-color="#f6b9a6"/><stop offset="0.43" stop-color="#f6ccbf"/><stop offset="0.57" stop-color="#f3eef3"/><stop offset="0.71" stop-color="#cbc4e4"/><stop offset="0.86" stop-color="#bfb7df"/><stop offset="1" stop-color="#bab1dc"/></linearGradient><linearGradient id="g82" x1="0" x2="1" y1="0" y2="0"><stop offset="0" stop-color="#aea4d8"/><stop offset="0.14" stop-color="#aea4d8"/><stop offset="0.29" stop-color="#bab1dc"/><stop offset="0.43" stop-color="#dfd9ec"/><stop offset="0.57" stop-color="#f5d8d2"/><stop offset="0.71" stop-color="#f4aa94"/><stop offset="0.86" stop-color="#ee765a"/><stop offset="1" stop-color="#e84a2f"/></linearGradient><linearGradient id="g83" x1="0" x2="1" y1="0" y2="0"><stop offset="0" stop-color="#9d92d0"/><stop offset="0.14" stop-color="#9d92d0"/><stop offset="0.29" stop-color="#bfb7df"/><stop offset="0.43" stop-color="#dfd9ec"/><stop offset="0.57" stop-color="#f3eef3"/><stop offset="0.71" stop-color="#d3cce7"/><stop offset="0.86" stop-color="#aea4d8"/><stop offset="1" stop-color="#aea4d8"/></linearGradient><linearGradient id="g84" x1="0" x2="1" y1="0" y2="0"><stop offset="0" stop-color="#9d92d0"/><stop offset="0.14" stop-color="#aea4d8"/><stop offset="0.29" stop-color="#cbc4e4"/><stop offset="0.43" stop-color="#e7e1ee"/><stop offset="0.57" stop-color="#f5d8d2"/><stop offset="0.71" stop-color="#f4aa94"/><stop offset="0.86" stop-color="#ee765a"/><stop offset="1" stop-color="#e84a2f"/></linearGradient><linearGradient id="g85" x1="0" x2="1" y1="0" y2="0"><stop offset="0" stop-color="#cbc4e4"/><stop offset="0.14" stop-color="#cbc4e4"/><stop offset="0.29" stop-color="#dfd9ec"/><stop offset="0.43" stop-color="#f3eef3"/><stop offset="0.57" stop-color="#f4e5e6"/><stop offset="0.71" stop-color="#e7e1ee"/><stop offset="0.86" stop-color="#aea4d8"/><stop offset="1" stop-color="#9185cb"/></linearGradient><linearGradient id="g86" x1="0" x2="1" y1="0" y2="0"><stop offset="0" stop-color="#9185cb"/><stop offset="0.14" stop-color="#aea4d8"/><stop offset="0.29" stop-color="#cbc4e4"/><stop offset="0.43" stop-color="#e7e1ee"/><stop offset="0.57" stop-color="#f5d8d2"/><stop offset="0.71" stop-color="#f4aa94"/><stop offset="0.86" stop-color="#ee765a"/><stop offset="1" stop-color="#e53f26"/></linearGradient><linearGradient id="g87" x1="0" x2="1" y1="0" y2="0"><stop offset="0" stop-color="#f3eef3"/><stop offset="0.14" stop-color="#f3eef3"/><stop offset="0.29" stop-color="#f7c3b2"/><stop offset="0.43" stop-color="#f6b9a6"/><stop offset="0.57" stop-color="#f7c3b2"/><stop offset="0.71" stop-color="#f3eef3"/><stop offset="0.86" stop-color="#bfb7df"/><stop offset="1" stop-color="#aea4d8"/></linearGradient><linearGradient id="g88" x1="0" x2="1" y1="0" y2="0"><stop offset="0" stop-color="#9185cb"/><stop offset="0.14" stop-color="#aea4d8"/><stop offset="0.29" stop-color="#cbc4e4"/><stop offset="0.43" stop-color="#e7e1ee"/><stop offset="0.57" stop-color="#f5d8d2"/><stop offset="0.71" stop-color="#f4aa94"/><stop offset="0.86" stop-color="#ee765a"/><stop offset="1" stop-color="#e53f26"/></linearGradient><linearGradient id="g89" x1="0" x2="1" y1="0" y2="0"><stop offset="0" stop-color="#bfb7df"/><stop offset="0.14" stop-color="#cbc4e4"/><stop offset="0.29" stop-color="#f3eef3"/><stop offset="0.43" stop-color="#f6b9a6"/><stop offset="0.57" stop-color="#f6b9a6"/><stop offset="0.71" stop-color="#f3eef3"/><stop offset="0.86" stop-color="#bfb7df"/><stop offset="1" stop-color="#aea4d8"/></linearGradient><linearGradient id="g90" x1="0" x2="1" y1="0" y2="0"><stop offset="0" stop-color="#9185cb"/><stop offset="0.14" stop-color="#aea4d8"/><stop offset="0.29" stop-color="#cbc4e4"/><stop offset="0.43" stop-color="#e7e1ee"/><stop offset="0.57" stop-color="#f5d8d2"/><stop offset="0.71" stop-color="#f4aa94"/><stop offset="0.86" stop-color="#ee765a"/><stop offset="1" stop-color="#e84a2f"/></linearGradient><linearGradient id="g91" x1="0" x2="1" y1="0" y2="0"><stop offset="0" stop-color="#7466bc"/><stop offset="0.14" stop-color="#8679c5"/><stop offset="0.29" stop-color="#aea4d8"/><stop offset="0.43" stop-color="#f5d8d2"/><stop offset="0.57" stop-color="#f29175"/><stop offset="0.71" stop-color="#f29175"/><stop offset="0.86" stop-color="#f5d8d2"/><stop offset="1" stop-color="#9185cb"/></linearGradient><linearGradient id="g92" x1="0" x2="1" y1="0" y2="0"><stop offset="0" stop-color="#7466bc"/><stop offset="0.14" stop-color="#f3eef3"/><stop offset="0.29" stop-color="#f4aa94"/><stop offset="0.43" stop-color="#f39b81"/><stop offset="0.57" stop-color="#f39b81"/><stop offset="0.71" stop-color="#f4aa94"/><stop offset="0.86" stop-color="#f7c3b2"/><stop offset="1" stop-color="#f3eef3"/></linearGradient><linearGradient id="g93" x1="0" x2="1" y1="0" y2="0"><stop offset="0" stop-color="#9185cb"/><stop offset="0.14" stop-color="#9185cb"/><stop offset="0.29" stop-color="#aea4d8"/><stop offset="0.43" stop-color="#f4e1e0"/><stop offset="0.57" stop-color="#f39b81"/><stop offset="0.71" stop-color="#f39b81"/><stop offset="0.86" stop-color="#f4e1e0"/><stop offset="1" stop-color="#9185cb"/></linearGradient><linearGradient id="g94" x1="0" x2="1" y1="0" y2="0"><stop offset="0" stop-color="#9185cb"/><stop offset="0.14" stop-color="#aea4d8"/><stop offset="0.29" stop-color="#f5d8d2"/><stop offset="0.43" stop-color="#f39b81"/><stop offset="0.57" stop-color="#f29175"/><stop offset="0.71" stop-color="#f29175"/><stop offset="0.86" stop-color="#f29175"/><stop offset="1" stop-color="#f39b81"/></linearGradient></defs>
<rect x="260.2" y="358.5" width="65.6" height="6.6" fill="#d6921c"/>
<rect x="325.8" y="358.5" width="41.5" height="6.6" fill="#2fb3c6"/>
<rect x="370.8" y="358.5" width="41.8" height="6.6" fill="#2fb3c6"/>
<rect x="412.6" y="358.5" width="65.9" height="6.6" fill="#7ab648"/>
<text x="294" y="353.3" font-size="7.9" text-anchor="middle" font-weight="normal" fill="#222" >Cell Fate 1</text>
<text x="369.6" y="353.3" font-size="7.9" text-anchor="middle" font-weight="normal" fill="#222" >Pre-branch</text>
<text x="444.2" y="353.3" font-size="7.9" text-anchor="middle" font-weight="normal" fill="#222" >Cell Fate 2</text>
<path d="M247.2,402.4 L233.5,402.4 L233.5,585.5 L243.3,585.5 M247.2,371.3 L247.2,469 M243.3,533.4 L243.3,639 M247,478.5 L247,567 M246,616.5 L246,656 M243.3,533.4 L247,533.4 M243.3,639 L246,639" stroke="#333" stroke-width="0.9" fill="none"/>
<path d="M247.2,380 L248.6,380 M247.2,395 L248.6,395 M247.2,430 L248.6,430 M247.2,455 L248.6,455 M247,500 L248.6,500 M247,540 L248.6,540 M246,625 L248.6,625 M246,652 L248.6,652" stroke="#555" stroke-width="0.7"/>
<defs><linearGradient id="cbar" x1="0" x2="1" y1="0" y2="0"><stop offset="0" stop-color="#322696"/><stop offset="0.12" stop-color="#5848ac"/><stop offset="0.25" stop-color="#9185cb"/><stop offset="0.38" stop-color="#cbc4e4"/><stop offset="0.5" stop-color="#f3eef3"/><stop offset="0.62" stop-color="#f7c3b2"/><stop offset="0.75" stop-color="#f29175"/><stop offset="0.88" stop-color="#eb5c3e"/><stop offset="1" stop-color="#e43820"/></linearGradient></defs>
<rect x="351.5" y="663.2" width="87" height="10" fill="url(#cbar)" stroke="#333" stroke-width="0.7"/>
<path d="M351.9,663.2 L351.9,665 M351.9,671.4 L351.9,673.2" stroke="#333" stroke-width="0.8"/>
<text x="351.9" y="684.5" font-size="7.9" text-anchor="middle" font-weight="normal" fill="#222" >−4</text>
<path d="M373.45,663.2 L373.45,665 M373.45,671.4 L373.45,673.2" stroke="#333" stroke-width="0.8"/>
<text x="373.45" y="684.5" font-size="7.9" text-anchor="middle" font-weight="normal" fill="#222" >−2</text>
<path d="M395,663.2 L395,665 M395,671.4 L395,673.2" stroke="#333" stroke-width="0.8"/>
<text x="395" y="684.5" font-size="7.9" text-anchor="middle" font-weight="normal" fill="#222" >0</text>
<path d="M416.55,663.2 L416.55,665 M416.55,671.4 L416.55,673.2" stroke="#333" stroke-width="0.8"/>
<text x="416.55" y="684.5" font-size="7.9" text-anchor="middle" font-weight="normal" fill="#222" >2</text>
<path d="M438.1,663.2 L438.1,665 M438.1,671.4 L438.1,673.2" stroke="#333" stroke-width="0.8"/>
<text x="438.1" y="684.5" font-size="7.9" text-anchor="middle" font-weight="normal" fill="#222" >4</text>
<text x="309.2" y="670.8" font-size="7.8" text-anchor="start" font-weight="normal" fill="#222" >Expression</text>
</svg></body></html>
